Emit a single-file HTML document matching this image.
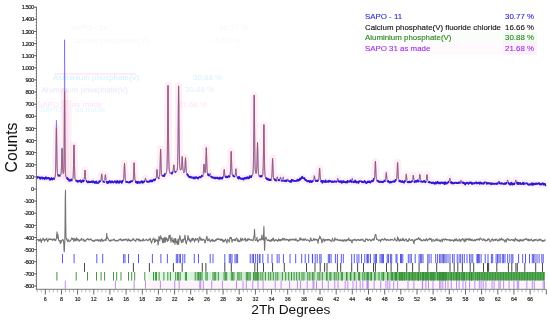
<!DOCTYPE html>
<html><head><meta charset="utf-8"><style>
html,body{margin:0;padding:0;background:#fff;width:550px;height:322px;overflow:hidden}
svg{display:block;filter:blur(0.3px)}
</style></head><body>
<svg width="550" height="322" viewBox="0 0 550 322">
<filter id="gb" x="-5%" y="-20%" width="110%" height="140%"><feGaussianBlur stdDeviation="0.7"/></filter>
<g font-family="Liberation Sans, sans-serif" font-size="7.9" filter="url(#gb)"><text x="53" y="80" fill="#d2f2ff">Aluminium phosphate(V)</text>
<rect x="54" y="73.2" width="82" height="1.4" fill="#ffe4f4"/>
<text x="222" y="80" fill="#d2f2ff" text-anchor="end">30.88 %</text>
<text x="41.5" y="91.5" fill="#e0f4ff">Aluminium phosphate(V)</text>
<text x="41.5" y="92.5" fill="#ffe2f6" fill-opacity="0.6">Aluminium phosphate(V)</text>
<text x="214" y="92" fill="#e4eeff" text-anchor="end">30.88 %</text>
<text x="37" y="106.5" fill="#ffe2f5">SAPO 31 as made</text>
<text x="40" y="111.5" fill="#e0f6ff">SAPO 31 as made</text>
<text x="207" y="106.5" fill="#ffe2f5" text-anchor="end">21.68 %</text>
<text x="70" y="30" fill="#f5f6ff">SAPO - 11</text>
<text x="248" y="30" fill="#f5f6ff" text-anchor="end">30.77 %</text>
<text x="70" y="43" fill="#f6f8ff">Calcium phosphate(V)</text>
<text x="240" y="43" fill="#f6f8ff" text-anchor="end">16.66 %</text>
</g>
<g fill="none" stroke-linejoin="round">
<rect x="62.5" y="100" width="9" height="79" fill="#fdf0f6"/>
<polyline points="37.00,177.58 37.25,177.60 37.50,177.63 37.75,177.66 38.00,177.68 38.25,177.71 38.50,177.73 38.75,177.76 39.00,177.79 39.25,177.81 39.50,177.84 39.75,177.87 40.00,177.89 40.25,177.92 40.50,177.94 40.75,177.97 41.00,178.00 41.25,178.02 41.50,178.05 41.75,178.08 42.00,178.10 42.25,178.13 42.50,178.15 42.75,178.18 43.00,178.20 43.25,178.23 43.50,178.26 43.75,178.28 44.00,178.31 44.25,178.33 44.50,178.36 44.75,178.38 45.00,178.41 45.25,178.43 45.50,178.46 45.75,178.48 46.00,178.51 46.25,178.53 46.50,178.55 46.75,178.58 47.00,178.60 47.25,178.63 47.50,178.65 47.75,178.67 48.00,178.69 48.25,178.72 48.50,178.74 48.75,178.76 49.00,178.78 49.25,178.80 49.50,178.82 49.75,178.83 50.00,178.85 50.25,178.87 50.50,178.90 50.75,178.92 51.00,178.93 51.25,178.95 51.50,178.96 51.75,178.96 52.00,178.96 52.25,178.96 52.50,178.94 52.75,178.92 53.00,178.88 53.25,178.83 53.50,178.76 53.75,178.66 54.00,178.53 54.25,178.34 54.50,178.09 54.75,177.73 55.00,177.15 55.25,176.02 55.50,173.01 55.75,165.15 56.00,149.85 56.25,132.22 56.40,127.87 56.50,129.81 56.75,145.83 57.00,162.21 57.25,171.27 57.50,174.76 57.75,175.92 58.00,176.37 58.25,176.57 58.50,176.65 58.75,176.66 59.00,176.61 59.25,176.53 59.50,176.41 59.75,176.26 60.00,176.09 60.25,175.84 60.50,175.51 60.75,175.00 61.00,173.87 61.25,170.88 61.50,164.22 61.75,154.41 62.00,148.59 62.25,154.28 62.50,163.95 62.75,170.42 63.00,173.14 63.25,173.84 63.50,173.62 63.75,172.37 64.00,166.59 64.25,142.39 64.50,98.72 64.60,91.58 64.75,106.75 65.00,150.29 65.25,169.83 65.50,174.52 65.75,176.07 66.00,176.95 66.25,177.55 66.50,178.00 66.75,178.36 67.00,178.66 67.25,178.91 67.50,179.14 67.75,179.33 68.00,179.51 68.25,179.66 68.50,179.80 68.75,179.92 69.00,180.03 69.25,180.13 69.50,180.21 69.75,180.28 70.00,180.34 70.25,180.38 70.50,180.42 70.75,180.44 71.00,180.44 71.25,180.43 71.50,180.40 71.75,180.33 72.00,180.22 72.25,180.05 72.50,179.77 72.75,179.24 73.00,177.88 73.25,174.05 73.50,165.37 73.75,152.50 74.00,144.92 74.25,152.54 74.50,165.44 74.75,174.16 75.00,178.03 75.25,179.43 75.50,180.00 75.75,180.32 76.00,180.54 76.25,180.69 76.50,180.81 76.75,180.90 77.00,180.97 77.25,181.03 77.50,181.08 77.75,181.12 78.00,181.16 78.25,181.19 78.50,181.22 78.75,181.25 79.00,181.27 79.25,181.29 79.50,181.31 79.75,181.33 80.00,181.35 80.25,181.36 80.50,181.36 80.75,181.37 81.00,181.38 81.25,181.38 81.50,181.38 81.75,181.38 82.00,181.37 82.25,181.36 82.50,181.35 82.75,181.32 83.00,181.29 83.25,181.23 83.50,181.14 83.75,180.97 84.00,180.54 84.25,179.32 84.50,176.56 84.75,172.46 85.00,170.05 85.25,172.48 85.50,176.59 85.75,179.37 86.00,180.60 86.25,181.05 86.50,181.24 86.75,181.34 87.00,181.41 87.25,181.46 87.50,181.50 87.75,181.53 88.00,181.56 88.25,181.58 88.50,181.60 88.75,181.62 89.00,181.63 89.25,181.64 89.50,181.65 89.75,181.67 90.00,181.68 90.25,181.69 90.50,181.70 90.75,181.70 91.00,181.71 91.25,181.72 91.50,181.73 91.75,181.74 92.00,181.75 92.25,181.75 92.50,181.76 92.75,181.77 93.00,181.77 93.25,181.78 93.50,181.79 93.75,181.79 94.00,181.80 94.25,181.81 94.50,181.81 94.75,181.82 95.00,181.82 95.25,181.83 95.50,181.83 95.75,181.84 96.00,181.84 96.25,181.85 96.50,181.85 96.75,181.86 97.00,181.86 97.25,181.86 97.50,181.86 97.75,181.87 98.00,181.87 98.25,181.86 98.50,181.86 98.75,181.86 99.00,181.85 99.25,181.83 99.50,181.81 99.75,181.79 100.00,181.74 100.25,181.66 100.50,181.52 100.75,181.13 101.00,180.07 101.25,177.85 101.50,174.91 101.70,173.74 101.75,173.82 102.00,176.05 102.25,178.87 102.50,180.59 102.75,181.30 103.00,181.54 103.25,181.63 103.50,181.66 103.75,181.66 104.00,181.62 104.25,181.49 104.50,181.10 104.75,180.04 105.00,177.94 105.25,175.52 105.40,174.93 105.50,175.21 105.75,177.45 106.00,179.74 106.25,181.02 106.50,181.53 106.75,181.71 107.00,181.80 107.25,181.85 107.50,181.89 107.75,181.92 108.00,181.94 108.25,181.95 108.50,181.97 108.75,181.98 109.00,181.99 109.25,182.00 109.50,182.00 109.75,182.01 110.00,182.01 110.25,182.02 110.50,182.02 110.75,182.03 111.00,182.03 111.25,182.03 111.50,182.04 111.75,182.04 112.00,182.04 112.25,182.05 112.50,182.05 112.75,182.05 113.00,182.05 113.25,182.05 113.50,182.06 113.75,182.06 114.00,182.06 114.25,182.06 114.50,182.06 114.75,182.07 115.00,182.07 115.25,182.07 115.50,182.07 115.75,182.07 116.00,182.07 116.25,182.07 116.50,182.07 116.75,182.07 117.00,182.07 117.25,182.07 117.50,182.07 117.75,182.07 118.00,182.07 118.25,182.07 118.50,182.07 118.75,182.07 119.00,182.06 119.25,182.06 119.50,182.06 119.75,182.05 120.00,182.05 120.25,182.04 120.50,182.03 120.75,182.02 121.00,182.00 121.25,181.99 121.50,181.96 121.75,181.93 122.00,181.90 122.25,181.84 122.50,181.77 122.75,181.67 123.00,181.51 123.25,181.21 123.50,180.48 123.75,178.45 124.00,173.86 124.25,167.07 124.50,163.06 124.75,167.07 125.00,173.87 125.25,178.46 125.50,180.49 125.75,181.22 126.00,181.52 126.25,181.68 126.50,181.78 126.75,181.86 127.00,181.91 127.25,181.95 127.50,181.98 127.75,182.01 128.00,182.02 128.25,182.04 128.50,182.05 128.75,182.06 129.00,182.06 129.25,182.07 129.50,182.07 129.75,182.07 130.00,182.06 130.25,182.06 130.50,182.05 130.75,182.03 131.00,182.02 131.25,181.99 131.50,181.96 131.75,181.92 132.00,181.85 132.25,181.77 132.50,181.63 132.75,181.41 133.00,180.92 133.25,179.56 133.50,176.10 133.75,169.88 134.00,163.80 134.10,163.06 134.25,164.68 134.50,171.29 134.75,177.03 135.00,179.97 135.25,181.08 135.50,181.49 135.75,181.70 136.00,181.82 136.25,181.91 136.50,181.97 136.75,182.02 137.00,182.06 137.25,182.09 137.50,182.11 137.75,182.13 138.00,182.14 138.25,182.15 138.50,182.17 138.75,182.18 139.00,182.18 139.25,182.19 139.50,182.20 139.75,182.20 140.00,182.21 140.25,182.19 140.50,182.17 140.75,182.15 141.00,182.13 141.25,182.11 141.50,182.09 141.75,182.06 142.00,182.04 142.25,182.02 142.50,181.99 142.75,181.97 143.00,181.94 143.25,181.91 143.50,181.87 143.75,181.83 144.00,181.77 144.25,181.69 144.50,181.52 144.75,181.09 145.00,180.15 145.25,178.77 145.50,177.94 145.75,178.72 146.00,180.05 146.25,180.95 146.50,181.33 146.75,181.45 147.00,181.48 147.25,181.49 147.50,181.48 147.75,181.47 148.00,181.45 148.25,181.43 148.50,181.41 148.75,181.38 149.00,181.35 149.25,181.32 149.50,181.29 149.75,181.26 150.00,181.23 150.25,181.18 150.50,181.13 150.75,181.08 151.00,181.02 151.25,180.97 151.50,180.92 151.75,180.86 152.00,180.80 152.25,180.74 152.50,180.67 152.75,180.61 153.00,180.54 153.25,180.47 153.50,180.39 153.75,180.32 154.00,180.23 154.25,180.15 154.50,180.05 154.75,179.95 155.00,179.83 155.25,179.69 155.50,179.53 155.75,179.29 156.00,178.84 156.25,177.73 156.50,175.33 156.75,171.84 157.00,169.73 157.25,171.61 157.50,174.87 157.75,177.02 158.00,177.88 158.25,178.07 158.50,178.02 158.75,177.85 159.00,177.60 159.25,177.18 159.50,176.36 159.75,174.21 160.00,168.89 160.25,159.41 160.50,150.14 160.60,148.97 160.75,151.34 161.00,161.18 161.25,169.70 161.50,174.00 161.75,175.54 162.00,176.02 162.25,176.19 162.50,176.24 162.75,176.22 163.00,176.17 163.25,176.08 163.50,175.98 163.75,175.85 164.00,175.71 164.25,175.55 164.50,175.38 164.75,175.18 165.00,174.96 165.25,174.72 165.50,174.44 165.75,174.10 166.00,173.65 166.25,173.07 166.50,172.22 166.75,170.75 167.00,167.25 167.25,157.65 167.50,136.07 167.75,104.18 168.00,85.35 168.25,104.02 168.50,135.74 168.75,157.16 169.00,166.59 169.25,169.93 169.50,171.24 169.75,171.92 170.00,172.35 170.25,172.63 170.50,172.82 170.75,172.94 171.00,173.02 171.25,173.06 171.50,173.08 171.75,173.08 172.00,173.04 172.25,172.98 172.50,172.86 172.75,172.59 173.00,171.85 173.25,170.09 173.50,167.21 173.75,164.92 173.80,164.83 174.00,165.97 174.25,168.85 174.50,171.01 174.75,171.99 175.00,172.28 175.25,172.31 175.50,172.25 175.75,172.13 176.00,171.95 176.25,171.70 176.50,171.37 176.75,170.91 177.00,170.25 177.25,169.17 177.50,166.88 177.75,160.65 178.00,144.94 178.25,116.78 178.50,89.27 178.60,85.87 178.75,93.12 179.00,122.87 179.25,148.68 179.50,161.85 179.75,166.76 180.00,168.51 180.25,169.30 180.50,169.74 180.75,169.96 181.00,169.94 181.25,169.42 181.50,167.63 181.75,163.66 182.00,158.37 182.20,156.29 182.25,156.46 182.50,160.67 182.75,165.97 183.00,169.23 183.25,170.63 183.50,171.17 183.75,171.43 184.00,171.56 184.25,171.55 184.50,171.17 184.75,169.71 185.00,166.15 185.25,160.78 185.50,157.69 185.75,161.19 186.00,166.98 186.25,170.96 186.50,172.84 186.75,173.65 187.00,174.10 187.25,174.44 187.50,174.73 187.75,174.98 188.00,175.22 188.25,175.44 188.50,175.65 188.75,175.85 189.00,176.03 189.25,176.20 189.50,176.37 189.75,176.52 190.00,176.67 190.25,176.80 190.50,176.93 190.75,177.05 191.00,177.16 191.25,177.26 191.50,177.35 191.75,177.43 192.00,177.51 192.25,177.58 192.50,177.64 192.75,177.70 193.00,177.75 193.25,177.79 193.50,177.83 193.75,177.86 194.00,177.89 194.25,177.91 194.50,177.93 194.75,177.94 195.00,177.95 195.25,177.95 195.50,177.95 195.75,177.94 196.00,177.93 196.25,177.91 196.50,177.89 196.75,177.86 197.00,177.83 197.25,177.79 197.50,177.75 197.75,177.70 198.00,177.65 198.25,177.59 198.50,177.52 198.75,177.45 199.00,177.38 199.25,177.30 199.50,177.21 199.75,177.11 200.00,177.01 200.25,176.91 200.50,176.81 200.75,176.69 201.00,176.57 201.25,176.44 201.50,176.31 201.75,176.16 202.00,176.00 202.25,175.82 202.50,175.61 202.75,175.31 203.00,174.76 203.25,173.45 203.50,170.64 203.75,166.54 204.00,164.05 204.25,166.22 204.50,169.98 204.75,172.40 205.00,173.17 205.25,172.70 205.50,170.44 205.75,164.73 206.00,155.30 206.25,147.85 206.30,147.59 206.50,151.56 206.75,161.45 207.00,168.96 207.25,172.56 207.50,173.92 207.75,174.48 208.00,174.81 208.25,175.05 208.50,175.24 208.75,175.40 209.00,175.51 209.25,175.53 209.50,175.33 209.75,174.72 210.00,173.88 210.20,173.60 210.25,173.65 210.50,174.52 210.75,175.58 211.00,176.28 211.25,176.63 211.50,176.83 211.75,176.97 212.00,177.09 212.25,177.21 212.50,177.31 212.75,177.40 213.00,177.49 213.25,177.58 213.50,177.65 213.75,177.72 214.00,177.79 214.25,177.85 214.50,177.90 214.75,177.95 215.00,178.00 215.25,178.04 215.50,178.07 215.75,178.11 216.00,178.14 216.25,178.16 216.50,178.19 216.75,178.21 217.00,178.22 217.25,178.24 217.50,178.25 217.75,178.26 218.00,178.27 218.25,178.28 218.50,178.28 218.75,178.28 219.00,178.28 219.25,178.28 219.50,178.27 219.75,178.27 220.00,178.26 220.25,178.24 220.50,178.23 220.75,178.21 221.00,178.19 221.25,178.16 221.50,178.13 221.75,178.09 222.00,178.04 222.25,177.98 222.50,177.91 222.75,177.80 223.00,177.62 223.25,177.21 223.50,176.15 223.75,173.96 224.00,171.09 224.20,169.92 224.25,169.99 224.50,172.08 224.75,174.75 225.00,176.35 225.25,176.97 225.50,177.15 225.75,177.19 226.00,177.17 226.25,177.14 226.50,177.09 226.75,177.03 227.00,176.96 227.25,176.89 227.50,176.81 227.75,176.73 228.00,176.65 228.25,176.56 228.50,176.46 228.75,176.35 229.00,176.23 229.25,176.08 229.50,175.89 229.75,175.62 230.00,175.13 230.25,173.94 230.50,170.70 230.75,163.88 231.00,154.90 231.20,151.32 231.25,151.57 231.50,158.43 231.75,167.10 232.00,172.41 232.25,174.64 232.50,175.46 232.75,175.83 233.00,176.07 233.25,176.24 233.50,176.38 233.75,176.48 234.00,176.57 234.25,176.62 234.50,176.64 234.75,176.56 235.00,176.18 235.25,175.00 235.50,172.59 235.75,169.81 235.90,169.16 236.00,169.52 236.25,172.24 236.50,175.02 236.75,176.60 237.00,177.27 237.25,177.55 237.50,177.71 237.75,177.83 238.00,177.93 238.25,178.02 238.50,178.09 238.75,178.15 239.00,178.21 239.25,178.26 239.50,178.30 239.75,178.34 240.00,178.38 240.25,178.41 240.50,178.44 240.75,178.46 241.00,178.48 241.25,178.50 241.50,178.51 241.75,178.52 242.00,178.53 242.25,178.53 242.50,178.54 242.75,178.54 243.00,178.53 243.25,178.53 243.50,178.52 243.75,178.51 244.00,178.49 244.25,178.48 244.50,178.46 244.75,178.44 245.00,178.41 245.25,178.38 245.50,178.35 245.75,178.32 246.00,178.28 246.25,178.24 246.50,178.20 246.75,178.15 247.00,178.10 247.25,178.05 247.50,177.99 247.75,177.93 248.00,177.86 248.25,177.79 248.50,177.72 248.75,177.64 249.00,177.55 249.25,177.46 249.50,177.36 249.75,177.26 250.00,177.15 250.25,177.04 250.50,176.92 250.75,176.78 251.00,176.63 251.25,176.45 251.50,176.24 251.75,175.99 252.00,175.68 252.25,175.27 252.50,174.72 252.75,173.89 253.00,172.36 253.25,168.48 253.50,158.01 253.75,136.01 254.00,107.01 254.20,95.39 254.25,96.19 254.50,118.14 254.75,145.93 255.00,162.85 255.25,169.81 255.50,172.18 255.75,173.06 256.00,173.40 256.25,173.30 256.50,172.32 256.75,169.01 257.00,161.20 257.25,149.53 257.50,142.68 257.75,149.75 258.00,161.66 258.25,169.72 258.50,173.34 258.75,174.68 259.00,175.27 259.25,175.62 259.50,175.87 259.75,176.07 260.00,176.23 260.25,176.35 260.50,176.46 260.75,176.54 261.00,176.60 261.25,176.63 261.50,176.63 261.75,176.58 262.00,176.46 262.25,176.23 262.50,175.78 262.75,174.74 263.00,171.73 263.25,163.57 263.50,147.52 263.75,129.02 263.90,124.53 264.00,126.67 264.25,143.88 264.50,161.49 264.75,171.33 265.00,175.27 265.25,176.74 265.50,177.47 265.75,177.93 266.00,178.27 266.25,178.53 266.50,178.74 266.75,178.91 267.00,179.06 267.25,179.19 267.50,179.30 267.75,179.40 268.00,179.48 268.25,179.56 268.50,179.63 268.75,179.69 269.00,179.74 269.25,179.78 269.50,179.82 269.75,179.84 270.00,179.85 270.25,179.83 270.50,179.79 270.75,179.71 271.00,179.59 271.25,179.35 271.50,178.81 271.75,177.25 272.00,173.25 272.25,166.07 272.50,159.04 272.60,158.18 272.75,160.07 273.00,167.74 273.25,174.40 273.50,177.82 273.75,179.11 274.00,179.60 274.25,179.84 274.50,179.99 274.75,180.09 275.00,180.16 275.25,180.20 275.50,180.23 275.75,180.24 276.00,180.20 276.25,180.06 276.50,179.61 276.75,178.64 277.00,177.34 277.20,176.83 277.25,176.87 277.50,177.88 277.75,179.15 278.00,179.92 278.25,180.25 278.50,180.36 278.75,180.40 279.00,180.40 279.25,180.38 279.50,180.26 279.75,179.90 280.00,179.06 280.25,177.81 280.50,177.07 280.75,177.82 281.00,179.09 281.25,179.94 281.50,180.31 281.75,180.43 282.00,180.44 282.25,180.35 282.50,180.01 282.75,179.27 283.00,178.29 283.20,177.90 283.25,177.93 283.50,178.71 283.75,179.68 284.00,180.28 284.25,180.54 284.50,180.63 284.75,180.68 285.00,180.70 285.25,180.72 285.50,180.73 285.75,180.74 286.00,180.74 286.25,180.74 286.50,180.71 286.75,180.63 287.00,180.40 287.25,179.89 287.50,179.21 287.70,178.94 287.75,178.97 288.00,179.49 288.25,180.16 288.50,180.57 288.75,180.74 289.00,180.81 289.25,180.84 289.50,180.86 289.75,180.87 290.00,180.88 290.25,180.89 290.50,180.89 290.75,180.89 291.00,180.88 291.25,180.84 291.50,180.71 291.75,180.40 292.00,179.88 292.25,179.48 292.30,179.46 292.50,179.69 292.75,180.24 293.00,180.65 293.25,180.86 293.50,180.93 293.75,180.97 294.00,180.99 294.25,181.00 294.50,181.01 294.75,181.02 295.00,181.03 295.25,181.03 295.50,181.04 295.75,181.03 296.00,181.03 296.25,181.02 296.50,181.00 296.75,180.98 297.00,180.95 297.25,180.90 297.50,180.84 297.75,180.77 298.00,180.68 298.25,180.57 298.50,180.44 298.75,180.28 299.00,180.11 299.25,179.91 299.50,179.70 299.75,179.47 300.00,179.23 300.25,178.99 300.50,178.74 300.75,178.51 301.00,178.29 301.25,178.10 301.50,177.94 301.75,177.82 302.00,177.74 302.25,177.71 302.50,177.73 302.75,177.80 303.00,177.91 303.25,178.06 303.50,178.25 303.75,178.46 304.00,178.70 304.25,178.95 304.50,179.20 304.75,179.45 305.00,179.69 305.25,179.92 305.50,180.14 305.75,180.33 306.00,180.50 306.25,180.65 306.50,180.78 306.75,180.89 307.00,180.98 307.25,181.05 307.50,181.11 307.75,181.16 308.00,181.19 308.25,181.22 308.50,181.24 308.75,181.26 309.00,181.27 309.25,181.28 309.50,181.29 309.75,181.30 310.00,181.30 310.25,181.30 310.50,181.30 310.75,181.30 311.00,181.30 311.25,181.30 311.50,181.29 311.75,181.29 312.00,181.28 312.25,181.26 312.50,181.24 312.75,181.21 313.00,181.15 313.25,181.04 313.50,180.73 313.75,179.90 314.00,178.28 314.25,176.41 314.40,175.95 314.50,176.16 314.75,177.88 315.00,179.64 315.25,180.61 315.50,181.00 315.75,181.13 316.00,181.19 316.25,181.22 316.50,181.23 316.75,181.23 317.00,181.23 317.25,181.21 317.50,181.17 317.75,181.12 318.00,181.03 318.25,180.88 318.50,180.54 318.75,179.58 319.00,177.15 319.25,172.77 319.50,168.50 319.60,167.97 319.75,169.12 320.00,173.78 320.25,177.83 320.50,179.90 320.75,180.69 321.00,180.98 321.25,181.13 321.50,181.22 321.75,181.28 322.00,181.33 322.25,181.37 322.50,181.39 322.75,181.42 323.00,181.44 323.25,181.45 323.50,181.47 323.75,181.48 324.00,181.49 324.25,181.50 324.50,181.51 324.75,181.52 325.00,181.52 325.25,181.53 325.50,181.54 325.75,181.54 326.00,181.55 326.25,181.56 326.50,181.56 326.75,181.57 327.00,181.57 327.25,181.58 327.50,181.58 327.75,181.59 328.00,181.59 328.25,181.60 328.50,181.60 328.75,181.61 329.00,181.61 329.25,181.61 329.50,181.62 329.75,181.62 330.00,181.63 330.25,181.63 330.50,181.63 330.75,181.64 331.00,181.64 331.25,181.65 331.50,181.65 331.75,181.65 332.00,181.66 332.25,181.66 332.50,181.66 332.75,181.67 333.00,181.67 333.25,181.67 333.50,181.67 333.75,181.68 334.00,181.68 334.25,181.68 334.50,181.68 334.75,181.68 335.00,181.68 335.25,181.67 335.50,181.67 335.75,181.66 336.00,181.64 336.25,181.62 336.50,181.57 336.75,181.42 337.00,181.02 337.25,180.16 337.50,179.04 337.70,178.59 337.75,178.62 338.00,179.49 338.25,180.58 338.50,181.25 338.75,181.53 339.00,181.63 339.25,181.68 339.50,181.71 339.75,181.73 340.00,181.74 340.25,181.75 340.50,181.76 340.75,181.77 341.00,181.77 341.25,181.78 341.50,181.79 341.75,181.79 342.00,181.79 342.25,181.80 342.50,181.80 342.75,181.81 343.00,181.81 343.25,181.81 343.50,181.81 343.75,181.82 344.00,181.82 344.25,181.82 344.50,181.83 344.75,181.83 345.00,181.83 345.25,181.83 345.50,181.84 345.75,181.84 346.00,181.84 346.25,181.84 346.50,181.85 346.75,181.85 347.00,181.85 347.25,181.85 347.50,181.85 347.75,181.85 348.00,181.86 348.25,181.86 348.50,181.86 348.75,181.86 349.00,181.86 349.25,181.86 349.50,181.86 349.75,181.85 350.00,181.85 350.25,181.84 350.50,181.83 350.75,181.81 351.00,181.78 351.25,181.69 351.50,181.46 351.75,180.89 352.00,179.95 352.25,179.21 352.30,179.19 352.50,179.58 352.75,180.55 353.00,181.29 353.25,181.64 353.50,181.77 353.75,181.83 354.00,181.85 354.25,181.87 354.50,181.89 354.75,181.90 355.00,181.90 355.25,181.91 355.50,181.92 355.75,181.92 356.00,181.92 356.25,181.93 356.50,181.93 356.75,181.93 357.00,181.94 357.25,181.94 357.50,181.94 357.75,181.94 358.00,181.94 358.25,181.93 358.50,181.93 358.75,181.92 359.00,181.91 359.25,181.88 359.50,181.80 359.75,181.59 360.00,181.11 360.25,180.40 360.50,179.98 360.75,180.41 361.00,181.12 361.25,181.61 361.50,181.82 361.75,181.90 362.00,181.93 362.25,181.95 362.50,181.97 362.75,181.98 363.00,181.99 363.25,181.99 363.50,182.00 363.75,182.00 364.00,182.01 364.25,182.01 364.50,182.01 364.75,182.01 365.00,182.02 365.25,182.02 365.50,182.02 365.75,182.02 366.00,182.02 366.25,182.02 366.50,182.02 366.75,182.01 367.00,182.01 367.25,182.00 367.50,181.99 367.75,181.98 368.00,181.97 368.25,181.95 368.50,181.93 368.75,181.91 369.00,181.88 369.25,181.85 369.50,181.81 369.75,181.77 370.00,181.72 370.25,181.67 370.50,181.61 370.75,181.54 371.00,181.47 371.25,181.39 371.50,181.31 371.75,181.22 372.00,181.12 372.25,181.02 372.50,180.92 372.75,180.81 373.00,180.69 373.25,180.56 373.50,180.41 373.75,180.23 374.00,179.99 374.25,179.54 374.50,178.40 374.75,175.45 375.00,169.70 375.25,163.09 375.40,161.49 375.50,162.24 375.75,168.36 376.00,174.62 376.25,178.14 376.50,179.56 376.75,180.12 377.00,180.42 377.25,180.63 377.50,180.81 377.75,180.95 378.00,181.08 378.25,181.20 378.50,181.31 378.75,181.40 379.00,181.49 379.25,181.57 379.50,181.65 379.75,181.71 380.00,181.77 380.25,181.81 380.50,181.85 380.75,181.88 381.00,181.90 381.25,181.90 381.50,181.90 381.75,181.89 382.00,181.87 382.25,181.83 382.50,181.79 382.75,181.73 383.00,181.67 383.25,181.59 383.50,181.51 383.75,181.41 384.00,181.31 384.25,181.21 384.50,181.09 384.75,180.97 385.00,180.80 385.25,180.52 385.50,179.82 385.75,178.20 386.00,175.59 386.25,173.54 386.30,173.47 386.50,174.57 386.75,177.32 387.00,179.43 387.25,180.47 387.50,180.90 387.75,181.11 388.00,181.27 388.25,181.40 388.50,181.51 388.75,181.61 389.00,181.70 389.25,181.78 389.50,181.85 389.75,181.90 390.00,181.94 390.25,181.97 390.50,181.99 390.75,182.00 391.00,182.00 391.25,181.99 391.50,181.97 391.75,181.94 392.00,181.90 392.25,181.86 392.50,181.80 392.75,181.74 393.00,181.67 393.25,181.60 393.50,181.52 393.75,181.43 394.00,181.34 394.25,181.25 394.50,181.15 394.75,181.05 395.00,180.94 395.25,180.83 395.50,180.70 395.75,180.56 396.00,180.38 396.25,180.12 396.50,179.61 396.75,178.27 397.00,174.88 397.25,168.81 397.50,162.90 397.60,162.18 397.75,163.78 398.00,170.27 398.25,175.93 398.50,178.86 398.75,180.01 399.00,180.48 399.25,180.75 399.50,180.95 399.75,181.12 400.00,181.26 400.25,181.38 400.50,181.50 400.75,181.60 401.00,181.69 401.25,181.77 401.50,181.85 401.75,181.91 402.00,181.97 402.25,182.02 402.50,182.07 402.75,182.11 403.00,182.14 403.25,182.16 403.50,182.17 403.75,182.18 404.00,182.18 404.25,182.17 404.50,182.14 404.75,182.09 405.00,181.99 405.25,181.76 405.50,181.08 405.75,179.44 406.00,176.76 406.25,174.64 406.30,174.56 406.50,175.67 406.75,178.45 407.00,180.56 407.25,181.55 407.50,181.91 407.75,182.04 408.00,182.10 408.25,182.14 408.50,182.16 408.75,182.17 409.00,182.17 409.25,182.17 409.50,182.16 409.75,182.15 410.00,182.13 410.25,182.11 410.50,182.09 410.75,182.06 411.00,182.02 411.25,181.98 411.50,181.92 411.75,181.85 412.00,181.74 412.25,181.50 412.50,180.89 412.75,179.44 413.00,177.10 413.25,175.23 413.30,175.16 413.50,176.10 413.75,178.48 414.00,180.27 414.25,181.11 414.50,181.39 414.75,181.48 415.00,181.52 415.25,181.53 415.50,181.52 415.75,181.51 416.00,181.49 416.25,181.48 416.50,181.45 416.75,181.43 417.00,181.40 417.25,181.37 417.50,181.34 417.75,181.30 418.00,181.25 418.25,181.18 418.50,181.08 418.75,180.86 419.00,180.26 419.25,178.83 419.50,176.48 419.75,174.63 419.80,174.57 420.00,175.54 420.25,177.97 420.50,179.82 420.75,180.70 421.00,181.03 421.25,181.17 421.50,181.25 421.75,181.31 422.00,181.35 422.25,181.39 422.50,181.43 422.75,181.47 423.00,181.50 423.25,181.53 423.50,181.56 423.75,181.59 424.00,181.62 424.25,181.64 424.50,181.66 424.75,181.68 425.00,181.69 425.25,181.68 425.50,181.66 425.75,181.58 426.00,181.33 426.25,180.56 426.50,178.78 426.75,176.13 427.00,174.58 427.25,176.20 427.50,178.92 427.75,180.77 428.00,181.61 428.25,181.92 428.50,182.07 428.75,182.17 429.00,182.24 429.25,182.29 429.50,182.34 429.75,182.38 430.00,182.42 430.25,182.45 430.50,182.48 430.75,182.51 431.00,182.53 431.25,182.56 431.50,182.58 431.75,182.60 432.00,182.62 432.25,182.64 432.50,182.65 432.75,182.67 433.00,182.68 433.25,182.70 433.50,182.71 433.75,182.72 434.00,182.73 434.25,182.74 434.50,182.75 434.75,182.76 435.00,182.77 435.25,182.78 435.50,182.79 435.75,182.79 436.00,182.80 436.25,182.81 436.50,182.81 436.75,182.82 437.00,182.83 437.25,182.83 437.50,182.84 437.75,182.84 438.00,182.85 438.25,182.85 438.50,182.86 438.75,182.86 439.00,182.87 439.25,182.87 439.50,182.88 439.75,182.88 440.00,182.88 440.25,182.89 440.50,182.89 440.75,182.90 441.00,182.90 441.25,182.90 441.50,182.91 441.75,182.91 442.00,182.91 442.25,182.92 442.50,182.92 442.75,182.93 443.00,182.93 443.25,182.93 443.50,182.93 443.75,182.94 444.00,182.94 444.25,182.94 444.50,182.95 444.75,182.95 445.00,182.95 445.25,182.95 445.50,182.95 445.75,182.96 446.00,182.96 446.25,182.96 446.50,182.96 446.75,182.95 447.00,182.95 447.25,182.94 447.50,182.94 447.75,182.92 448.00,182.90 448.25,182.87 448.50,182.81 448.75,182.66 449.00,182.25 449.25,181.26 449.50,179.63 449.75,178.34 449.80,178.29 450.00,178.97 450.25,180.67 450.50,181.96 450.75,182.58 451.00,182.80 451.25,182.89 451.50,182.94 451.75,182.97 452.00,183.00 452.25,183.01 452.50,183.03 452.75,183.04 453.00,183.05 453.25,183.06 453.50,183.07 453.75,183.07 454.00,183.08 454.25,183.09 454.50,183.09 454.75,183.10 455.00,183.10 455.25,183.10 455.50,183.11 455.75,183.11 456.00,183.12 456.25,183.12 456.50,183.12 456.75,183.13 457.00,183.13 457.25,183.13 457.50,183.13 457.75,183.14 458.00,183.14 458.25,183.14 458.50,183.13 458.75,183.13 459.00,183.12 459.25,183.11 459.50,183.09 459.75,183.05 460.00,182.95 460.25,182.65 460.50,181.98 460.75,180.98 461.00,180.39 461.25,180.98 461.50,181.99 461.75,182.66 462.00,182.96 462.25,183.07 462.50,183.12 462.75,183.15 463.00,183.16 463.25,183.18 463.50,183.19 463.75,183.19 464.00,183.20 464.25,183.21 464.50,183.21 464.75,183.21 465.00,183.22 465.25,183.22 465.50,183.23 465.75,183.23 466.00,183.23 466.25,183.23 466.50,183.24 466.75,183.24 467.00,183.24 467.25,183.24 467.50,183.25 467.75,183.25 468.00,183.25 468.25,183.25 468.50,183.26 468.75,183.26 469.00,183.26 469.25,183.26 469.50,183.26 469.75,183.27 470.00,183.27 470.25,183.27 470.50,183.27 470.75,183.27 471.00,183.28 471.25,183.28 471.50,183.28 471.75,183.28 472.00,183.28 472.25,183.29 472.50,183.29 472.75,183.29 473.00,183.29 473.25,183.29 473.50,183.30 473.75,183.30 474.00,183.30 474.25,183.30 474.50,183.30 474.75,183.30 475.00,183.31 475.25,183.31 475.50,183.31 475.75,183.31 476.00,183.31 476.25,183.32 476.50,183.32 476.75,183.32 477.00,183.32 477.25,183.32 477.50,183.33 477.75,183.33 478.00,183.33 478.25,183.33 478.50,183.33 478.75,183.33 479.00,183.34 479.25,183.34 479.50,183.34 479.75,183.34 480.00,183.34 480.25,183.34 480.50,183.35 480.75,183.35 481.00,183.35 481.25,183.35 481.50,183.35 481.75,183.35 482.00,183.35 482.25,183.35 482.50,183.35 482.75,183.35 483.00,183.35 483.25,183.35 483.50,183.35 483.75,183.34 484.00,183.33 484.25,183.32 484.50,183.28 484.75,183.18 485.00,182.91 485.25,182.42 485.50,181.95 485.60,181.90 485.75,182.02 486.00,182.54 486.25,182.99 486.50,183.22 486.75,183.31 487.00,183.34 487.25,183.36 487.50,183.37 487.75,183.38 488.00,183.38 488.25,183.39 488.50,183.39 488.75,183.40 489.00,183.40 489.25,183.41 489.50,183.41 489.75,183.41 490.00,183.41 490.25,183.42 490.50,183.42 490.75,183.42 491.00,183.42 491.25,183.42 491.50,183.43 491.75,183.43 492.00,183.43 492.25,183.43 492.50,183.43 492.75,183.43 493.00,183.44 493.25,183.44 493.50,183.44 493.75,183.44 494.00,183.44 494.25,183.44 494.50,183.44 494.75,183.44 495.00,183.44 495.25,183.44 495.50,183.44 495.75,183.44 496.00,183.44 496.25,183.44 496.50,183.43 496.75,183.42 497.00,183.41 497.25,183.39 497.50,183.34 497.75,183.20 498.00,182.84 498.25,182.20 498.50,181.57 498.60,181.49 498.75,181.66 499.00,182.35 499.25,182.95 499.50,183.25 499.75,183.37 500.00,183.42 500.25,183.44 500.50,183.46 500.75,183.47 501.00,183.48 501.25,183.49 501.50,183.50 501.75,183.50 502.00,183.51 502.25,183.51 502.50,183.52 502.75,183.52 503.00,183.53 503.25,183.53 503.50,183.53 503.75,183.54 504.00,183.54 504.25,183.54 504.50,183.54 504.75,183.54 505.00,183.54 505.25,183.53 505.50,183.52 505.75,183.51 506.00,183.49 506.25,183.45 506.50,183.36 506.75,183.11 507.00,182.45 507.25,181.28 507.50,180.13 507.60,179.99 507.75,180.30 508.00,181.56 508.25,182.65 508.50,183.21 508.75,183.43 509.00,183.51 509.25,183.55 509.50,183.58 509.75,183.60 510.00,183.61 510.25,183.62 510.50,183.63 510.75,183.64 511.00,183.65 511.25,183.66 511.50,183.66 511.75,183.67 512.00,183.67 512.25,183.67 512.50,183.67 512.75,183.68 513.00,183.67 513.25,183.67 513.50,183.67 513.75,183.66 514.00,183.64 514.25,183.62 514.50,183.57 514.75,183.46 515.00,183.14 515.25,182.35 515.50,181.05 515.75,180.03 515.80,179.99 516.00,180.53 516.25,181.89 516.50,182.91 516.75,183.40 517.00,183.59 517.25,183.66 517.50,183.70 517.75,183.72 518.00,183.74 518.25,183.76 518.50,183.77 518.75,183.78 519.00,183.79 519.25,183.80 519.50,183.81 519.75,183.81 520.00,183.82 520.25,183.83 520.50,183.83 520.75,183.84 521.00,183.84 521.25,183.84 521.50,183.85 521.75,183.85 522.00,183.85 522.25,183.85 522.50,183.85 522.75,183.85 523.00,183.84 523.25,183.83 523.50,183.80 523.75,183.71 524.00,183.47 524.25,182.95 524.50,182.27 524.70,181.99 524.75,182.01 525.00,182.54 525.25,183.21 525.50,183.62 525.75,183.80 526.00,183.86 526.25,183.89 526.50,183.91 526.75,183.92 527.00,183.94 527.25,183.95 527.50,183.95 527.75,183.96 528.00,183.97 528.25,183.98 528.50,183.98 528.75,183.99 529.00,183.99 529.25,184.00 529.50,184.00 529.75,184.01 530.00,184.01 530.25,184.02 530.50,184.02 530.75,184.03 531.00,184.03 531.25,184.04 531.50,184.04 531.75,184.05 532.00,184.05 532.25,184.06 532.50,184.06 532.75,184.06 533.00,184.07 533.25,184.07 533.50,184.08 533.75,184.08 534.00,184.09 534.25,184.09 534.50,184.10 534.75,184.10 535.00,184.10 535.25,184.11 535.50,184.11 535.75,184.12 536.00,184.12 536.25,184.13 536.50,184.13 536.75,184.14 537.00,184.14 537.25,184.14 537.50,184.15 537.75,184.15 538.00,184.16 538.25,184.16 538.50,184.17 538.75,184.17 539.00,184.18 539.25,184.18 539.50,184.18 539.75,184.19 540.00,184.19 540.25,184.20 540.50,184.20 540.75,184.21 541.00,184.21 541.25,184.22 541.50,184.22 541.75,184.22 542.00,184.23 542.25,184.23 542.50,184.24 542.75,184.24 543.00,184.25 543.25,184.25 543.50,184.25 543.75,184.26 544.00,184.26 544.25,184.27 544.50,184.27 544.75,184.28 545.00,184.28 545.25,184.29 545.50,184.29 545.75,184.29" stroke="#ff70b0" stroke-width="7" stroke-opacity="0.12"/>
<polyline points="37.00,239.66 37.25,239.68 37.50,239.77 37.75,239.53 38.00,239.30 38.25,239.42 38.50,240.64 38.75,241.11 39.00,240.70 39.25,239.52 39.50,240.12 39.75,240.35 40.00,240.90 40.25,240.12 40.50,238.70 40.75,239.79 41.00,240.25 41.25,242.63 41.50,241.14 41.75,240.16 42.00,240.16 42.25,239.93 42.50,240.28 42.75,238.72 43.00,237.94 43.25,238.34 43.50,238.95 43.75,239.81 44.00,240.34 44.25,240.14 44.50,241.34 44.75,239.45 45.00,239.41 45.25,239.66 45.50,239.75 45.75,240.03 46.00,239.18 46.25,238.57 46.50,238.25 46.75,238.25 47.00,239.83 47.25,240.79 47.50,241.16 47.75,241.74 48.00,240.80 48.25,240.37 48.50,239.10 48.75,238.89 49.00,238.76 49.25,239.59 49.50,239.45 49.75,239.42 50.00,239.04 50.25,239.48 50.50,238.86 50.75,238.92 51.00,238.96 51.25,239.78 51.50,239.57 51.75,239.63 52.00,239.13 52.25,239.55 52.50,239.84 52.75,240.62 53.00,240.04 53.25,239.01 53.50,238.95 53.75,239.27 54.00,239.48 54.25,239.06 54.50,238.79 54.75,240.30 55.00,239.94 55.25,240.78 55.50,239.71 55.75,240.46 56.00,239.68 56.25,239.11 56.40,237.78 56.50,237.27 56.75,233.80 57.00,231.69 57.25,234.80 57.50,238.20 57.75,236.64 58.00,234.60 58.25,236.84 58.50,239.04 58.75,240.65 59.00,240.62 59.25,241.11 59.50,240.65 59.75,240.50 60.00,241.01 60.25,243.67 60.50,243.44 60.75,240.95 61.00,240.62 61.25,240.99 61.50,242.08 61.75,240.54 62.00,240.42 62.25,239.74 62.50,239.82 62.75,239.64 63.00,240.02 63.25,239.79 63.50,240.83 63.75,243.74 64.00,250.02 64.25,251.85 64.50,248.15 64.60,245.30 64.75,242.49 65.00,229.06 65.25,197.24 65.50,190.35 65.75,223.26 66.00,237.35 66.25,239.16 66.50,239.24 66.75,238.61 67.00,239.94 67.25,240.42 67.50,241.40 67.75,240.56 68.00,240.08 68.25,239.61 68.50,239.94 68.75,241.43 69.00,241.69 69.25,241.63 69.50,241.21 69.75,241.30 70.00,240.81 70.25,240.19 70.50,240.33 70.75,240.63 71.00,240.11 71.25,238.85 71.50,238.37 71.75,237.89 72.00,238.72 72.25,238.73 72.50,239.43 72.75,238.95 73.00,238.27 73.25,238.84 73.50,239.21 73.75,241.45 74.00,240.85 74.25,240.22 74.50,238.45 74.75,239.51 75.00,240.08 75.25,240.93 75.50,240.12 75.75,240.31 76.00,239.46 76.25,237.86 76.50,238.00 76.75,239.17 77.00,240.72 77.25,239.28 77.50,239.17 77.75,238.89 78.00,239.77 78.25,239.69 78.50,239.60 78.75,240.48 79.00,241.08 79.25,241.07 79.50,241.31 79.75,240.01 80.00,240.26 80.25,239.68 80.50,240.38 80.75,240.17 81.00,240.12 81.25,238.73 81.50,238.27 81.75,238.65 82.00,239.40 82.25,239.97 82.50,239.93 82.75,239.96 83.00,240.14 83.25,239.77 83.50,239.05 83.75,239.27 84.00,240.01 84.25,241.36 84.50,241.13 84.75,240.61 85.00,240.27 85.25,240.88 85.50,241.27 85.75,240.96 86.00,240.26 86.25,239.67 86.50,239.57 86.75,239.36 87.00,239.38 87.25,238.60 87.50,239.02 87.75,238.87 88.00,239.37 88.25,239.13 88.50,239.00 88.75,240.02 89.00,239.63 89.25,239.97 89.50,239.61 89.75,239.72 90.00,239.17 90.25,239.18 90.50,239.37 90.75,239.49 91.00,238.72 91.25,239.15 91.50,240.18 91.75,240.57 92.00,240.53 92.25,240.36 92.50,241.01 92.75,240.54 93.00,240.31 93.25,240.18 93.50,241.50 93.75,241.37 94.00,241.53 94.25,240.82 94.50,241.01 94.75,240.16 95.00,239.95 95.25,240.31 95.50,240.58 95.75,240.56 96.00,239.61 96.25,239.89 96.50,239.94 96.75,240.55 97.00,240.28 97.25,239.96 97.50,239.44 97.75,239.72 98.00,239.97 98.25,241.13 98.50,240.76 98.75,240.97 99.00,239.81 99.25,239.88 99.50,240.04 99.75,240.44 100.00,240.85 100.25,239.86 100.50,240.75 100.75,241.39 101.00,241.65 101.25,240.03 101.50,238.88 101.70,239.27 101.75,239.44 102.00,239.85 102.25,239.48 102.50,241.00 102.75,240.79 103.00,240.87 103.25,240.56 103.50,240.79 103.75,240.98 104.00,240.14 104.25,240.24 104.50,240.06 104.75,240.12 105.00,239.66 105.25,239.28 105.40,239.10 105.50,239.40 105.75,240.60 106.00,240.70 106.25,239.28 106.50,234.97 106.75,233.31 107.00,236.03 107.25,238.57 107.50,237.99 107.75,238.23 108.00,238.10 108.25,238.94 108.50,239.67 108.75,240.03 109.00,240.63 109.25,240.79 109.50,240.90 109.75,240.23 110.00,240.85 110.25,241.22 110.50,241.12 110.75,240.08 111.00,239.87 111.25,240.52 111.50,240.63 111.75,240.77 112.00,239.88 112.25,239.94 112.50,239.90 112.75,240.15 113.00,240.28 113.25,239.86 113.50,239.99 113.75,239.16 114.00,239.03 114.25,239.21 114.50,240.07 114.75,240.52 115.00,240.83 115.25,240.61 115.50,240.20 115.75,240.52 116.00,241.03 116.25,241.13 116.50,240.35 116.75,240.43 117.00,240.86 117.25,240.92 117.50,240.67 117.75,240.25 118.00,240.27 118.25,240.85 118.50,240.31 118.75,240.64 119.00,239.43 119.25,239.67 119.50,239.71 119.75,239.60 120.00,239.50 120.25,238.67 120.50,238.97 120.75,239.48 121.00,240.43 121.25,240.41 121.50,240.66 121.75,239.67 122.00,240.82 122.25,240.25 122.50,240.55 122.75,239.77 123.00,239.98 123.25,240.11 123.50,239.29 123.75,239.59 124.00,239.95 124.25,240.49 124.50,239.65 124.75,239.46 125.00,240.08 125.25,239.84 125.50,239.26 125.75,238.83 126.00,239.22 126.25,239.54 126.50,239.45 126.75,240.11 127.00,240.58 127.25,241.03 127.50,241.08 127.75,240.50 128.00,239.10 128.25,238.85 128.50,239.30 128.75,240.48 129.00,240.07 129.25,240.68 129.50,239.80 129.75,240.41 130.00,239.88 130.25,240.96 130.50,241.20 130.75,241.15 131.00,240.90 131.25,240.21 131.50,240.32 131.75,240.34 132.00,240.80 132.25,240.00 132.50,239.21 132.75,238.90 133.00,239.59 133.25,239.59 133.50,239.14 133.75,238.78 134.00,239.54 134.10,240.10 134.25,240.65 134.50,240.46 134.75,240.51 135.00,240.63 135.25,240.59 135.50,241.35 135.75,240.67 136.00,240.84 136.25,239.12 136.50,239.24 136.75,238.96 137.00,239.48 137.25,239.64 137.50,239.40 137.75,239.76 138.00,238.82 138.25,239.07 138.50,239.54 138.75,240.42 139.00,240.87 139.25,239.93 139.50,239.34 139.75,239.66 140.00,240.46 140.25,241.36 140.50,240.78 140.75,240.84 141.00,240.31 141.25,240.60 141.50,240.39 141.75,240.19 142.00,240.49 142.25,240.28 142.50,240.98 142.75,239.78 143.00,239.23 143.25,238.72 143.50,239.55 143.75,240.52 144.00,240.85 144.25,240.59 144.50,240.35 144.75,240.10 145.00,240.22 145.25,240.15 145.50,239.96 145.75,240.06 146.00,239.29 146.25,239.24 146.50,239.34 146.75,239.67 147.00,240.21 147.25,240.03 147.50,240.22 147.75,240.65 148.00,240.75 148.25,240.59 148.50,239.75 148.75,239.60 149.00,239.23 149.25,239.91 149.50,239.83 149.75,239.74 150.00,238.21 150.25,238.72 150.50,239.21 150.75,241.26 151.00,241.47 151.25,242.45 151.50,243.17 151.75,242.16 152.00,241.94 152.25,239.75 152.50,239.91 152.75,239.10 153.00,239.23 153.25,238.99 153.50,239.23 153.75,238.06 154.00,240.03 154.25,239.69 154.50,242.58 154.75,239.89 155.00,240.42 155.25,238.95 155.50,241.59 155.75,241.21 156.00,240.82 156.25,239.90 156.50,239.93 156.75,240.58 157.00,240.25 157.25,240.09 157.50,240.00 157.75,242.18 158.00,245.09 158.25,244.28 158.50,240.41 158.75,238.59 159.00,236.26 159.25,237.06 159.50,239.54 159.75,240.78 160.00,239.05 160.25,238.29 160.50,236.72 160.60,237.32 160.75,235.45 161.00,237.96 161.25,238.62 161.50,239.07 161.75,237.71 162.00,238.95 162.25,240.08 162.50,242.48 162.75,242.65 163.00,240.16 163.25,238.34 163.50,239.18 163.75,241.70 164.00,242.81 164.25,239.68 164.50,237.76 164.75,237.19 165.00,239.37 165.25,241.46 165.50,241.93 165.75,239.82 166.00,237.47 166.25,238.66 166.50,239.76 166.75,239.12 167.00,238.66 167.25,238.86 167.50,241.55 167.75,240.75 168.00,240.40 168.25,239.56 168.50,240.37 168.75,236.75 169.00,235.46 169.25,236.68 169.50,238.06 169.75,237.38 170.00,234.93 170.25,235.45 170.50,239.90 170.75,240.99 171.00,242.12 171.25,240.17 171.50,239.99 171.75,238.58 172.00,237.46 172.25,240.18 172.50,241.13 172.75,241.85 173.00,240.64 173.25,242.15 173.50,242.55 173.75,240.04 173.80,240.20 174.00,238.53 174.25,239.11 174.50,240.77 174.75,242.91 175.00,244.49 175.25,240.34 175.50,238.43 175.75,238.60 176.00,240.37 176.25,242.53 176.50,242.15 176.75,241.45 177.00,243.30 177.25,244.40 177.50,243.90 177.75,240.56 178.00,239.00 178.25,239.61 178.50,243.29 178.60,244.57 178.75,243.57 179.00,240.64 179.25,239.28 179.50,237.21 179.75,235.64 180.00,235.68 180.25,237.78 180.50,239.49 180.75,240.12 181.00,241.09 181.25,240.49 181.50,242.67 181.75,241.13 182.00,240.61 182.20,239.71 182.25,239.30 182.50,239.89 182.75,240.55 183.00,242.41 183.25,240.74 183.50,239.56 183.75,239.11 184.00,239.93 184.25,239.62 184.50,238.70 184.75,235.85 185.00,235.13 185.25,237.38 185.50,239.47 185.75,242.41 186.00,242.54 186.25,244.06 186.50,242.69 186.75,242.13 187.00,240.40 187.25,240.13 187.50,239.93 187.75,236.81 188.00,235.46 188.25,236.98 188.50,239.48 188.75,237.83 189.00,240.17 189.25,238.74 189.50,241.08 189.75,240.09 190.00,240.44 190.25,239.89 190.50,241.28 190.75,242.26 191.00,240.45 191.25,240.88 191.50,239.30 191.75,240.00 192.00,238.38 192.25,239.39 192.50,238.72 192.75,240.37 193.00,238.04 193.25,239.48 193.50,238.70 193.75,239.87 194.00,239.68 194.25,240.50 194.50,241.87 194.75,240.80 195.00,240.47 195.25,238.91 195.50,238.62 195.75,238.56 196.00,240.21 196.25,240.18 196.50,239.38 196.75,239.31 197.00,239.18 197.25,239.32 197.50,238.61 197.75,238.90 198.00,240.39 198.25,240.93 198.50,242.46 198.75,240.53 199.00,240.98 199.25,237.65 199.50,238.15 199.75,236.69 200.00,238.13 200.25,237.79 200.50,238.94 200.75,240.23 201.00,239.69 201.25,239.15 201.50,238.73 201.75,240.02 202.00,240.35 202.25,240.28 202.50,240.09 202.75,239.23 203.00,239.97 203.25,239.81 203.50,239.59 203.75,239.15 204.00,239.22 204.25,240.01 204.50,240.56 204.75,242.38 205.00,243.08 205.25,242.68 205.50,240.38 205.75,240.39 206.00,239.32 206.25,238.68 206.30,238.13 206.50,236.99 206.75,236.76 207.00,236.36 207.25,238.38 207.50,240.38 207.75,240.61 208.00,240.95 208.25,240.29 208.50,240.23 208.75,239.33 209.00,238.75 209.25,238.94 209.50,240.10 209.75,240.70 210.00,240.67 210.20,241.22 210.25,240.99 210.50,241.87 210.75,240.62 211.00,240.63 211.25,239.66 211.50,239.82 211.75,240.22 212.00,241.20 212.25,240.61 212.50,240.23 212.75,239.21 213.00,240.89 213.25,240.90 213.50,241.08 213.75,240.37 214.00,240.41 214.25,240.67 214.50,241.03 214.75,241.46 215.00,241.00 215.25,240.23 215.50,239.85 215.75,239.57 216.00,240.35 216.25,239.72 216.50,240.26 216.75,238.82 217.00,239.56 217.25,238.69 217.50,239.18 217.75,239.45 218.00,239.53 218.25,239.39 218.50,238.61 218.75,239.23 219.00,238.88 219.25,239.16 219.50,239.51 219.75,239.87 220.00,239.53 220.25,239.69 220.50,239.60 220.75,240.52 221.00,238.81 221.25,239.14 221.50,239.19 221.75,240.24 222.00,240.06 222.25,239.45 222.50,239.38 222.75,241.38 223.00,241.95 223.25,241.94 223.50,240.19 223.75,240.27 224.00,240.68 224.20,241.76 224.25,241.40 224.50,241.20 224.75,240.57 225.00,239.74 225.25,239.70 225.50,239.01 225.75,239.69 226.00,240.65 226.25,240.59 226.50,242.15 226.75,242.04 227.00,243.27 227.25,241.39 227.50,240.43 227.75,239.15 228.00,240.03 228.25,239.83 228.50,240.28 228.75,240.37 229.00,241.63 229.25,242.12 229.50,241.25 229.75,238.66 230.00,237.31 230.25,237.61 230.50,238.42 230.75,237.62 231.00,237.36 231.20,237.35 231.25,237.48 231.50,238.05 231.75,240.82 232.00,242.12 232.25,242.05 232.50,240.11 232.75,239.67 233.00,239.94 233.25,240.02 233.50,239.95 233.75,239.48 234.00,239.69 234.25,240.36 234.50,240.77 234.75,240.53 235.00,239.22 235.25,240.08 235.50,240.14 235.75,240.76 235.90,239.03 236.00,238.52 236.25,237.95 236.50,238.57 236.75,238.13 237.00,238.85 237.25,238.81 237.50,240.66 237.75,241.43 238.00,240.99 238.25,240.12 238.50,239.75 238.75,241.12 239.00,241.69 239.25,241.29 239.50,240.93 239.75,240.87 240.00,241.69 240.25,240.58 240.50,239.29 240.75,238.02 241.00,238.40 241.25,239.54 241.50,240.55 241.75,240.94 242.00,239.34 242.25,239.07 242.50,238.53 242.75,239.71 243.00,240.03 243.25,240.01 243.50,240.15 243.75,239.71 244.00,240.02 244.25,239.45 244.50,239.66 244.75,239.10 245.00,238.12 245.25,238.19 245.50,239.50 245.75,241.50 246.00,241.23 246.25,240.78 246.50,240.21 246.75,239.59 247.00,239.28 247.25,240.14 247.50,240.83 247.75,240.07 248.00,238.62 248.25,238.79 248.50,239.00 248.75,239.80 249.00,239.61 249.25,239.58 249.50,239.03 249.75,239.35 250.00,239.21 250.25,240.28 250.50,239.85 250.75,240.11 251.00,240.10 251.25,239.73 251.50,240.13 251.75,239.77 252.00,240.30 252.25,240.00 252.50,240.04 252.75,240.82 253.00,240.76 253.25,240.13 253.50,238.12 253.75,237.96 254.00,236.44 254.20,234.65 254.25,233.66 254.50,229.38 254.75,233.20 255.00,238.13 255.25,240.50 255.50,240.06 255.75,240.21 256.00,240.39 256.25,240.24 256.50,240.04 256.75,238.33 257.00,237.22 257.25,239.67 257.50,241.00 257.75,241.98 258.00,240.65 258.25,240.40 258.50,241.02 258.75,240.50 259.00,240.43 259.25,239.36 259.50,239.54 259.75,239.66 260.00,239.01 260.25,239.21 260.50,239.15 260.75,240.08 261.00,239.86 261.25,239.72 261.50,238.00 261.75,236.02 262.00,234.90 262.25,237.44 262.50,239.49 262.75,239.43 263.00,240.01 263.25,239.83 263.50,237.04 263.75,228.95 263.90,226.29 264.00,228.22 264.25,239.15 264.50,250.33 264.75,248.85 265.00,242.02 265.25,238.09 265.50,237.73 265.75,237.09 266.00,237.04 266.25,238.02 266.50,238.33 266.75,239.42 267.00,239.39 267.25,240.40 267.50,240.61 267.75,240.41 268.00,240.43 268.25,239.96 268.50,239.85 268.75,239.72 269.00,240.72 269.25,240.48 269.50,241.21 269.75,240.70 270.00,241.36 270.25,240.84 270.50,240.36 270.75,240.92 271.00,239.52 271.25,239.57 271.50,239.53 271.75,241.11 272.00,240.44 272.25,239.43 272.50,238.67 272.60,240.13 272.75,239.56 273.00,238.57 273.25,238.03 273.50,238.64 273.75,240.55 274.00,240.83 274.25,241.36 274.50,240.27 274.75,240.08 275.00,239.92 275.25,240.54 275.50,239.96 275.75,239.36 276.00,239.64 276.25,239.72 276.50,240.50 276.75,240.30 277.00,240.47 277.20,240.29 277.25,240.19 277.50,241.17 277.75,241.42 278.00,241.13 278.25,240.10 278.50,238.69 278.75,239.31 279.00,239.63 279.25,240.54 279.50,239.62 279.75,240.08 280.00,240.51 280.25,240.91 280.50,240.02 280.75,239.30 281.00,239.80 281.25,240.20 281.50,240.36 281.75,239.92 282.00,239.21 282.25,239.00 282.50,238.39 282.75,239.36 283.00,239.58 283.20,240.28 283.25,239.69 283.50,239.29 283.75,238.44 284.00,238.26 284.25,238.45 284.50,239.11 284.75,239.82 285.00,240.41 285.25,240.17 285.50,239.44 285.75,239.48 286.00,238.98 286.25,239.24 286.50,239.15 286.75,240.12 287.00,240.05 287.25,240.01 287.50,239.71 287.70,239.56 287.75,239.38 288.00,239.59 288.25,240.17 288.50,240.56 288.75,241.18 289.00,239.94 289.25,239.60 289.50,239.27 289.75,240.62 290.00,240.35 290.25,239.99 290.50,239.79 290.75,239.60 291.00,239.04 291.25,239.19 291.50,239.80 291.75,240.00 292.00,240.15 292.25,239.50 292.30,240.14 292.50,239.16 292.75,239.53 293.00,239.07 293.25,239.38 293.50,239.51 293.75,240.07 294.00,239.88 294.25,240.37 294.50,239.76 294.75,239.49 295.00,238.74 295.25,239.87 295.50,240.33 295.75,239.89 296.00,238.82 296.25,239.16 296.50,239.95 296.75,240.43 297.00,240.73 297.25,241.35 297.50,241.22 297.75,240.97 298.00,240.15 298.25,240.27 298.50,240.60 298.75,240.75 299.00,240.18 299.25,240.01 299.50,240.03 299.75,238.71 300.00,237.57 300.25,238.93 300.50,240.06 300.75,239.54 301.00,238.67 301.25,239.06 301.50,238.89 301.75,239.44 302.00,239.91 302.25,239.45 302.50,239.68 302.75,239.37 303.00,240.60 303.25,240.16 303.50,239.26 303.75,238.80 304.00,239.07 304.25,240.19 304.50,240.21 304.75,239.61 305.00,239.06 305.25,238.75 305.50,238.76 305.75,239.16 306.00,239.66 306.25,240.43 306.50,240.57 306.75,240.36 307.00,240.28 307.25,240.12 307.50,239.76 307.75,239.88 308.00,239.87 308.25,240.26 308.50,240.39 308.75,240.64 309.00,240.95 309.25,241.27 309.50,241.54 309.75,241.62 310.00,240.85 310.25,239.53 310.50,238.15 310.75,237.70 311.00,239.49 311.25,240.44 311.50,240.65 311.75,239.91 312.00,240.45 312.25,240.80 312.50,240.81 312.75,240.49 313.00,240.17 313.25,239.70 313.50,238.61 313.75,238.73 314.00,238.94 314.25,239.99 314.40,240.41 314.50,239.86 314.75,239.24 315.00,239.12 315.25,239.01 315.50,239.57 315.75,239.28 316.00,240.16 316.25,239.72 316.50,239.94 316.75,239.23 317.00,239.90 317.25,239.68 317.50,240.40 317.75,241.70 318.00,243.55 318.25,241.94 318.50,240.16 318.75,238.54 319.00,238.97 319.25,238.73 319.50,238.09 319.60,237.28 319.75,236.13 320.00,236.23 320.25,237.04 320.50,237.96 320.75,238.73 321.00,238.24 321.25,239.58 321.50,239.70 321.75,242.23 322.00,242.87 322.25,242.33 322.50,240.46 322.75,240.00 323.00,238.97 323.25,239.56 323.50,239.01 323.75,240.21 324.00,240.25 324.25,241.75 324.50,240.73 324.75,239.90 325.00,239.22 325.25,240.08 325.50,239.96 325.75,240.40 326.00,239.47 326.25,240.20 326.50,239.72 326.75,240.28 327.00,239.97 327.25,240.24 327.50,239.44 327.75,239.89 328.00,239.37 328.25,240.01 328.50,239.25 328.75,239.76 329.00,240.02 329.25,240.20 329.50,239.54 329.75,240.14 330.00,240.20 330.25,240.82 330.50,239.94 330.75,240.48 331.00,240.82 331.25,241.39 331.50,241.64 331.75,241.79 332.00,240.48 332.25,239.54 332.50,238.33 332.75,239.49 333.00,239.88 333.25,239.90 333.50,240.30 333.75,240.25 334.00,241.43 334.25,240.47 334.50,240.39 334.75,238.81 335.00,237.70 335.25,238.72 335.50,239.63 335.75,239.99 336.00,240.01 336.25,239.22 336.50,239.67 336.75,239.57 337.00,239.86 337.25,239.85 337.50,238.99 337.70,239.02 337.75,239.22 338.00,240.26 338.25,240.46 338.50,240.57 338.75,240.21 339.00,240.41 339.25,239.83 339.50,240.24 339.75,240.53 340.00,240.12 340.25,239.67 340.50,239.70 340.75,240.56 341.00,240.85 341.25,240.97 341.50,240.86 341.75,240.34 342.00,239.88 342.25,240.41 342.50,240.73 342.75,241.12 343.00,239.70 343.25,241.08 343.50,240.46 343.75,241.28 344.00,240.23 344.25,239.90 344.50,239.54 344.75,239.79 345.00,240.17 345.25,240.64 345.50,240.05 345.75,240.83 346.00,241.37 346.25,241.06 346.50,240.69 346.75,239.46 347.00,239.50 347.25,239.37 347.50,239.74 347.75,240.32 348.00,240.49 348.25,239.48 348.50,239.08 348.75,238.03 349.00,239.07 349.25,239.62 349.50,240.62 349.75,240.27 350.00,240.08 350.25,240.29 350.50,240.73 350.75,240.34 351.00,239.86 351.25,240.19 351.50,240.76 351.75,242.36 352.00,243.02 352.25,242.10 352.30,241.91 352.50,240.74 352.75,239.99 353.00,239.61 353.25,239.80 353.50,240.18 353.75,239.72 354.00,240.29 354.25,239.61 354.50,240.24 354.75,239.14 355.00,239.37 355.25,239.29 355.50,239.96 355.75,240.27 356.00,240.65 356.25,240.30 356.50,240.85 356.75,239.85 357.00,240.08 357.25,239.55 357.50,240.03 357.75,239.91 358.00,239.43 358.25,239.77 358.50,239.62 358.75,240.28 359.00,240.27 359.25,240.61 359.50,240.35 359.75,239.84 360.00,239.97 360.25,240.26 360.50,240.48 360.75,239.74 361.00,239.14 361.25,239.71 361.50,239.48 361.75,239.90 362.00,239.32 362.25,240.31 362.50,239.56 362.75,239.89 363.00,239.16 363.25,239.97 363.50,240.48 363.75,240.82 364.00,241.38 364.25,240.70 364.50,241.10 364.75,241.27 365.00,241.66 365.25,241.58 365.50,239.67 365.75,238.93 366.00,238.87 366.25,239.52 366.50,239.45 366.75,239.49 367.00,239.21 367.25,239.14 367.50,239.23 367.75,240.64 368.00,240.79 368.25,240.55 368.50,239.95 368.75,239.99 369.00,239.59 369.25,239.54 369.50,239.36 369.75,239.39 370.00,239.99 370.25,239.65 370.50,240.76 370.75,240.58 371.00,241.13 371.25,240.81 371.50,240.30 371.75,240.17 372.00,239.46 372.25,239.07 372.50,240.09 372.75,239.83 373.00,239.60 373.25,238.78 373.50,238.99 373.75,240.36 374.00,240.18 374.25,239.83 374.50,237.99 374.75,236.92 375.00,235.33 375.25,234.88 375.40,234.60 375.50,235.09 375.75,234.50 376.00,234.82 376.25,237.70 376.50,239.19 376.75,239.53 377.00,239.17 377.25,239.48 377.50,239.47 377.75,239.46 378.00,240.03 378.25,239.78 378.50,240.59 378.75,240.33 379.00,240.59 379.25,240.22 379.50,239.90 379.75,239.82 380.00,240.05 380.25,240.08 380.50,241.98 380.75,241.07 381.00,240.62 381.25,239.39 381.50,239.68 381.75,239.97 382.00,238.99 382.25,239.09 382.50,239.02 382.75,239.76 383.00,239.59 383.25,239.90 383.50,239.85 383.75,240.20 384.00,240.00 384.25,239.30 384.50,238.58 384.75,238.13 385.00,238.87 385.25,239.24 385.50,239.71 385.75,239.48 386.00,239.86 386.25,240.47 386.30,240.58 386.50,240.35 386.75,239.43 387.00,239.43 387.25,239.49 387.50,239.96 387.75,239.42 388.00,239.59 388.25,239.96 388.50,240.26 388.75,240.42 389.00,240.09 389.25,240.03 389.50,240.27 389.75,240.14 390.00,240.40 390.25,239.27 390.50,239.74 390.75,239.46 391.00,240.04 391.25,239.52 391.50,239.81 391.75,239.62 392.00,239.34 392.25,239.29 392.50,239.65 392.75,239.89 393.00,240.11 393.25,240.45 393.50,240.35 393.75,240.26 394.00,240.00 394.25,239.67 394.50,238.96 394.75,237.85 395.00,239.06 395.25,239.39 395.50,240.16 395.75,239.84 396.00,240.65 396.25,240.89 396.50,241.03 396.75,240.40 397.00,241.04 397.25,239.23 397.50,238.31 397.60,236.70 397.75,238.20 398.00,239.51 398.25,240.03 398.50,238.60 398.75,239.56 399.00,239.66 399.25,241.18 399.50,241.08 399.75,240.93 400.00,240.45 400.25,239.32 400.50,239.15 400.75,239.05 401.00,240.65 401.25,240.80 401.50,240.07 401.75,240.24 402.00,239.79 402.25,240.48 402.50,239.12 402.75,238.04 403.00,238.35 403.25,238.57 403.50,240.37 403.75,239.76 404.00,240.23 404.25,240.58 404.50,241.12 404.75,240.80 405.00,239.90 405.25,239.64 405.50,239.14 405.75,239.40 406.00,239.68 406.25,239.61 406.30,239.04 406.50,239.53 406.75,240.15 407.00,241.46 407.25,240.93 407.50,241.23 407.75,240.54 408.00,241.02 408.25,241.29 408.50,241.20 408.75,239.67 409.00,238.55 409.25,238.53 409.50,238.91 409.75,239.69 410.00,239.91 410.25,240.54 410.50,240.53 410.75,240.43 411.00,240.39 411.25,240.23 411.50,239.69 411.75,239.51 412.00,239.41 412.25,240.25 412.50,240.10 412.75,239.73 413.00,240.14 413.25,240.67 413.30,241.55 413.50,241.78 413.75,242.74 414.00,243.92 414.25,242.12 414.50,240.35 414.75,239.65 415.00,239.62 415.25,240.34 415.50,240.12 415.75,239.92 416.00,239.21 416.25,239.66 416.50,238.92 416.75,239.40 417.00,238.84 417.25,239.48 417.50,239.57 417.75,239.62 418.00,239.07 418.25,238.09 418.50,237.46 418.75,237.85 419.00,238.58 419.25,239.22 419.50,239.57 419.75,239.79 419.80,239.76 420.00,239.15 420.25,238.88 420.50,238.79 420.75,240.11 421.00,240.73 421.25,240.64 421.50,239.87 421.75,240.00 422.00,240.46 422.25,240.97 422.50,240.54 422.75,240.57 423.00,240.41 423.25,240.06 423.50,239.64 423.75,239.23 424.00,239.94 424.25,240.39 424.50,240.00 424.75,239.98 425.00,240.06 425.25,240.99 425.50,240.68 425.75,240.49 426.00,239.25 426.25,239.25 426.50,238.46 426.75,239.21 427.00,239.85 427.25,240.70 427.50,240.94 427.75,239.95 428.00,239.98 428.25,239.28 428.50,239.40 428.75,239.39 429.00,239.83 429.25,239.45 429.50,238.33 429.75,238.17 430.00,238.30 430.25,239.04 430.50,239.50 430.75,239.09 431.00,239.65 431.25,238.86 431.50,240.67 431.75,240.88 432.00,241.73 432.25,240.33 432.50,239.87 432.75,239.67 433.00,239.77 433.25,239.47 433.50,239.86 433.75,240.18 434.00,241.23 434.25,241.29 434.50,241.21 434.75,240.67 435.00,240.23 435.25,239.74 435.50,239.71 435.75,239.30 436.00,240.42 436.25,240.62 436.50,239.95 436.75,239.40 437.00,238.52 437.25,240.24 437.50,240.14 437.75,240.72 438.00,240.27 438.25,239.91 438.50,239.84 438.75,240.14 439.00,240.29 439.25,240.48 439.50,239.83 439.75,241.03 440.00,241.63 440.25,241.73 440.50,240.70 440.75,240.08 441.00,240.04 441.25,240.07 441.50,239.60 441.75,240.38 442.00,241.39 442.25,241.86 442.50,240.45 442.75,238.90 443.00,238.89 443.25,239.16 443.50,239.51 443.75,239.34 444.00,239.55 444.25,240.31 444.50,239.70 444.75,239.93 445.00,238.91 445.25,239.55 445.50,238.71 445.75,239.00 446.00,239.39 446.25,239.87 446.50,240.19 446.75,239.50 447.00,239.87 447.25,239.61 447.50,240.07 447.75,239.54 448.00,239.60 448.25,239.68 448.50,239.83 448.75,240.24 449.00,240.31 449.25,240.73 449.50,239.54 449.75,239.89 449.80,239.27 450.00,240.15 450.25,239.61 450.50,240.84 450.75,240.88 451.00,240.33 451.25,239.90 451.50,240.57 451.75,240.53 452.00,240.52 452.25,239.82 452.50,240.32 452.75,239.94 453.00,240.11 453.25,240.29 453.50,241.44 453.75,240.49 454.00,240.94 454.25,239.96 454.50,240.33 454.75,239.00 455.00,239.54 455.25,239.26 455.50,240.69 455.75,239.50 456.00,240.39 456.25,239.18 456.50,239.18 456.75,238.74 457.00,239.98 457.25,240.66 457.50,241.05 457.75,240.63 458.00,241.07 458.25,240.56 458.50,240.35 458.75,239.87 459.00,240.10 459.25,238.99 459.50,239.37 459.75,239.86 460.00,240.57 460.25,241.71 460.50,240.86 460.75,240.96 461.00,239.52 461.25,239.71 461.50,239.80 461.75,240.33 462.00,240.20 462.25,239.35 462.50,238.42 462.75,238.45 463.00,239.10 463.25,239.05 463.50,239.42 463.75,240.63 464.00,240.93 464.25,241.87 464.50,240.83 464.75,240.57 465.00,238.78 465.25,238.89 465.50,239.35 465.75,241.34 466.00,240.49 466.25,239.96 466.50,238.66 466.75,239.31 467.00,239.58 467.25,239.37 467.50,239.42 467.75,239.02 468.00,238.95 468.25,239.09 468.50,240.04 468.75,240.18 469.00,239.28 469.25,238.53 469.50,238.82 469.75,239.59 470.00,240.34 470.25,239.89 470.50,239.80 470.75,238.99 471.00,240.17 471.25,240.44 471.50,240.59 471.75,239.50 472.00,239.74 472.25,239.28 472.50,240.13 472.75,240.20 473.00,241.06 473.25,240.65 473.50,240.22 473.75,240.31 474.00,240.15 474.25,240.56 474.50,239.59 474.75,240.25 475.00,239.78 475.25,240.93 475.50,240.52 475.75,240.35 476.00,239.77 476.25,239.34 476.50,239.91 476.75,239.36 477.00,239.02 477.25,239.07 477.50,239.84 477.75,240.04 478.00,239.89 478.25,239.17 478.50,239.62 478.75,238.79 479.00,239.66 479.25,239.60 479.50,240.28 479.75,239.07 480.00,238.61 480.25,237.84 480.50,238.53 480.75,239.00 481.00,238.91 481.25,238.88 481.50,238.82 481.75,239.73 482.00,239.88 482.25,240.03 482.50,240.40 482.75,239.77 483.00,240.18 483.25,239.05 483.50,239.73 483.75,238.89 484.00,239.60 484.25,239.52 484.50,240.38 484.75,239.60 485.00,240.14 485.25,239.83 485.50,241.03 485.60,240.35 485.75,240.74 486.00,240.35 486.25,240.89 486.50,240.33 486.75,240.50 487.00,240.81 487.25,240.66 487.50,239.57 487.75,239.03 488.00,239.43 488.25,239.94 488.50,239.69 488.75,238.72 489.00,239.21 489.25,238.94 489.50,239.99 489.75,240.25 490.00,241.52 490.25,241.68 490.50,241.70 490.75,240.92 491.00,241.24 491.25,239.91 491.50,239.37 491.75,239.27 492.00,239.81 492.25,239.83 492.50,238.78 492.75,239.45 493.00,240.40 493.25,240.99 493.50,240.42 493.75,239.87 494.00,239.84 494.25,239.93 494.50,240.26 494.75,239.44 495.00,240.06 495.25,239.88 495.50,240.42 495.75,239.70 496.00,238.67 496.25,239.25 496.50,239.24 496.75,240.21 497.00,239.62 497.25,240.26 497.50,240.20 497.75,241.03 498.00,240.94 498.25,240.83 498.50,239.80 498.60,240.59 498.75,240.38 499.00,240.41 499.25,238.84 499.50,239.29 499.75,239.46 500.00,240.47 500.25,239.98 500.50,239.42 500.75,239.63 501.00,238.89 501.25,239.49 501.50,237.97 501.75,239.36 502.00,239.01 502.25,240.07 502.50,239.63 502.75,240.10 503.00,239.27 503.25,239.44 503.50,239.43 503.75,240.03 504.00,240.51 504.25,240.81 504.50,241.90 504.75,240.89 505.00,240.68 505.25,239.50 505.50,240.30 505.75,240.73 506.00,241.62 506.25,242.05 506.50,241.05 506.75,239.79 507.00,238.68 507.25,239.06 507.50,238.78 507.60,239.11 507.75,238.43 508.00,238.96 508.25,239.04 508.50,240.24 508.75,240.34 509.00,240.23 509.25,239.98 509.50,239.65 509.75,240.33 510.00,240.05 510.25,240.63 510.50,239.97 510.75,240.00 511.00,239.63 511.25,239.48 511.50,239.49 511.75,239.99 512.00,239.64 512.25,239.62 512.50,239.75 512.75,240.23 513.00,240.71 513.25,240.58 513.50,240.26 513.75,239.50 514.00,239.77 514.25,240.73 514.50,241.20 514.75,240.67 515.00,239.16 515.25,238.94 515.50,238.13 515.75,239.07 515.80,239.07 516.00,239.76 516.25,240.05 516.50,240.13 516.75,239.67 517.00,239.26 517.25,239.62 517.50,241.03 517.75,240.76 518.00,240.55 518.25,240.15 518.50,240.85 518.75,240.59 519.00,240.64 519.25,241.22 519.50,241.38 519.75,240.49 520.00,239.09 520.25,239.33 520.50,240.28 520.75,240.79 521.00,240.49 521.25,239.81 521.50,240.81 521.75,240.39 522.00,240.82 522.25,239.66 522.50,240.38 522.75,240.28 523.00,241.08 523.25,240.69 523.50,240.17 523.75,239.41 524.00,239.06 524.25,239.77 524.50,239.98 524.70,239.67 524.75,239.37 525.00,239.17 525.25,239.14 525.50,238.88 525.75,239.05 526.00,239.52 526.25,239.40 526.50,238.91 526.75,238.65 527.00,239.72 527.25,239.66 527.50,240.43 527.75,239.82 528.00,240.40 528.25,239.26 528.50,239.52 528.75,239.20 529.00,241.03 529.25,240.36 529.50,240.19 529.75,239.77 530.00,239.80 530.25,240.40 530.50,240.29 530.75,240.05 531.00,239.38 531.25,238.97 531.50,239.81 531.75,240.32 532.00,240.16 532.25,240.33 532.50,240.85 532.75,241.02 533.00,241.34 533.25,240.69 533.50,240.82 533.75,239.52 534.00,239.98 534.25,240.33 534.50,240.65 534.75,239.78 535.00,239.43 535.25,239.43 535.50,240.21 535.75,239.55 536.00,239.75 536.25,239.27 536.50,240.18 536.75,240.07 537.00,240.30 537.25,239.99 537.50,240.25 537.75,241.03 538.00,240.89 538.25,240.69 538.50,239.68 538.75,239.78 539.00,239.08 539.25,239.28 539.50,239.91 539.75,240.52 540.00,240.48 540.25,239.64 540.50,239.24 540.75,239.69 541.00,239.70 541.25,239.76 541.50,240.22 541.75,240.86 542.00,241.30 542.25,240.26 542.50,240.39 542.75,241.11 543.00,241.39 543.25,240.98 543.50,240.38 543.75,241.02 544.00,241.11 544.25,241.04 544.50,240.29 544.75,239.80 545.00,239.81 545.25,240.02 545.50,240.14 545.75,239.98" stroke="#747474" stroke-width="1.05"/>
<polyline points="37.00,178.38 37.25,178.15 37.50,177.38 37.75,176.87 38.00,177.12 38.25,177.49 38.50,177.50 38.75,177.48 39.00,177.54 39.25,177.35 39.50,177.39 39.75,178.13 40.00,178.76 40.25,178.78 40.50,178.22 40.75,177.70 41.00,177.38 41.25,177.49 41.50,177.91 41.75,177.59 42.00,177.36 42.25,178.10 42.50,178.75 42.75,178.36 43.00,177.69 43.25,177.86 43.50,178.32 43.75,178.18 44.00,177.91 44.25,178.23 44.50,179.00 44.75,179.06 45.00,178.17 45.25,177.76 45.50,177.52 45.75,177.16 46.00,177.44 46.25,178.15 46.50,178.76 46.75,178.41 47.00,178.04 47.25,178.48 47.50,178.27 47.75,177.77 48.00,177.97 48.25,178.17 48.50,178.26 48.75,178.13 49.00,177.81 49.25,178.42 49.50,179.32 49.75,179.58 50.00,179.66 50.25,179.82 50.50,179.46 50.75,178.91 51.00,178.65 51.25,178.22 51.50,177.93 51.75,178.25 52.00,179.23 52.25,179.62 52.50,179.43 52.75,179.40 53.00,178.93 53.25,178.71 53.50,178.55 53.75,178.25 54.00,178.76 54.25,178.86 54.50,178.07 54.75,177.63 55.00,177.32 55.25,176.33 55.50,172.80 55.75,163.62 56.00,146.04 56.25,125.37 56.40,120.21 56.50,122.68 56.75,140.81 57.00,159.76 57.25,170.34 57.50,174.05 57.75,175.70 58.00,176.60 58.25,176.41 58.50,175.53 58.75,174.96 59.00,175.38 59.25,175.85 59.50,175.76 59.75,175.72 60.00,175.80 60.25,175.52 60.50,175.34 60.75,174.92 61.00,173.44 61.25,170.83 61.50,164.99 61.75,154.68 62.00,147.94 62.25,153.75 62.50,163.98 62.75,170.51 63.00,172.62 63.25,172.52 63.50,171.90 63.75,170.11 64.00,160.64 64.25,121.33 64.50,51.03 64.60,39.71 64.75,64.10 65.00,133.73 65.25,165.21 65.50,172.92 65.75,174.94 66.00,176.07 66.25,177.12 66.50,177.58 66.75,177.85 67.00,177.77 67.25,177.84 67.50,178.71 67.75,179.29 68.00,179.42 68.25,179.48 68.50,179.32 68.75,179.35 69.00,180.10 69.25,180.93 69.50,180.73 69.75,180.27 70.00,180.30 70.25,180.15 70.50,180.26 70.75,180.53 71.00,180.02 71.25,179.43 71.50,179.67 71.75,180.17 72.00,180.50 72.25,180.40 72.50,179.85 72.75,179.45 73.00,178.14 73.25,174.22 73.50,165.75 73.75,152.67 74.00,144.87 74.25,152.53 74.50,165.16 74.75,173.92 75.00,178.11 75.25,179.44 75.50,179.77 75.75,180.12 76.00,180.66 76.25,180.89 76.50,180.69 76.75,180.70 77.00,180.61 77.25,180.98 77.50,181.86 77.75,181.32 78.00,180.82 78.25,181.23 78.50,181.14 78.75,181.34 79.00,181.55 79.25,181.11 79.50,180.89 79.75,180.99 80.00,180.85 80.25,180.43 80.50,180.51 80.75,181.27 81.00,181.88 81.25,182.18 81.50,182.33 81.75,181.89 82.00,181.28 82.25,180.80 82.50,180.31 82.75,180.32 83.00,180.74 83.25,181.26 83.50,181.34 83.75,180.76 84.00,179.88 84.25,178.56 84.50,176.24 84.75,172.62 85.00,170.12 85.25,172.65 85.50,177.46 85.75,180.22 86.00,180.69 86.25,180.75 86.50,181.03 86.75,181.33 87.00,181.53 87.25,181.80 87.50,182.18 87.75,182.46 88.00,182.27 88.25,181.84 88.50,181.65 88.75,181.42 89.00,181.70 89.25,182.19 89.50,182.25 89.75,182.30 90.00,181.98 90.25,181.93 90.50,182.18 90.75,182.01 91.00,181.82 91.25,181.61 91.50,181.46 91.75,181.44 92.00,181.78 92.25,182.24 92.50,182.36 92.75,181.88 93.00,181.05 93.25,181.36 93.50,181.95 93.75,182.00 94.00,182.30 94.25,182.22 94.50,181.91 94.75,182.50 95.00,183.08 95.25,182.55 95.50,181.91 95.75,181.75 96.00,181.55 96.25,181.32 96.50,182.00 96.75,183.01 97.00,182.90 97.25,182.55 97.50,182.81 97.75,182.96 98.00,182.89 98.25,183.02 98.50,182.73 98.75,182.48 99.00,182.09 99.25,181.12 99.50,181.17 99.75,181.59 100.00,181.40 100.25,181.29 100.50,181.10 100.75,181.28 101.00,181.15 101.25,178.63 101.50,175.28 101.70,174.20 101.75,174.16 102.00,176.42 102.25,179.51 102.50,181.02 102.75,181.21 103.00,181.58 103.25,181.60 103.50,181.43 103.75,181.68 104.00,181.80 104.25,182.07 104.50,181.77 104.75,180.43 105.00,178.29 105.25,175.52 105.40,174.38 105.50,174.74 105.75,177.27 106.00,179.72 106.25,181.18 106.50,181.59 106.75,181.87 107.00,182.83 107.25,183.10 107.50,182.27 107.75,181.93 108.00,182.30 108.25,182.90 108.50,182.74 108.75,181.75 109.00,181.29 109.25,181.22 109.50,181.02 109.75,181.20 110.00,181.60 110.25,181.93 110.50,182.57 110.75,182.48 111.00,181.59 111.25,181.29 111.50,181.87 111.75,182.31 112.00,181.68 112.25,181.27 112.50,181.80 112.75,182.06 113.00,182.19 113.25,182.62 113.50,182.57 113.75,182.12 114.00,181.80 114.25,181.84 114.50,181.54 114.75,181.18 115.00,181.37 115.25,181.40 115.50,181.40 115.75,181.88 116.00,182.65 116.25,182.78 116.50,182.67 116.75,182.35 117.00,181.27 117.25,180.83 117.50,181.66 117.75,182.38 118.00,182.44 118.25,182.59 118.50,182.30 118.75,181.71 119.00,182.27 119.25,182.79 119.50,181.82 119.75,181.08 120.00,181.45 120.25,181.89 120.50,181.93 120.75,181.76 121.00,181.42 121.25,181.29 121.50,182.18 121.75,183.00 122.00,182.43 122.25,181.56 122.50,181.00 122.75,180.59 123.00,181.01 123.25,181.04 123.50,180.14 123.75,178.42 124.00,174.17 124.25,167.50 124.50,163.35 124.75,166.80 125.00,172.90 125.25,177.51 125.50,180.13 125.75,181.24 126.00,181.87 126.25,182.10 126.50,181.69 126.75,181.64 127.00,181.92 127.25,182.01 127.50,182.02 127.75,182.16 128.00,182.41 128.25,182.42 128.50,182.42 128.75,182.57 129.00,182.37 129.25,181.91 129.50,181.91 129.75,182.04 130.00,182.31 130.25,182.35 130.50,181.56 130.75,181.08 131.00,181.40 131.25,181.52 131.50,181.27 131.75,181.32 132.00,181.13 132.25,180.98 132.50,181.33 132.75,181.36 133.00,180.65 133.25,179.23 133.50,175.93 133.75,169.23 134.00,162.59 134.10,162.37 134.25,164.84 134.50,172.16 134.75,178.20 135.00,180.66 135.25,181.05 135.50,181.14 135.75,181.69 136.00,182.40 136.25,182.40 136.50,181.92 136.75,182.10 137.00,182.80 137.25,183.04 137.50,182.47 137.75,181.82 138.00,181.69 138.25,181.74 138.50,182.00 138.75,182.59 139.00,182.92 139.25,182.93 139.50,182.73 139.75,182.33 140.00,182.19 140.25,182.12 140.50,182.35 140.75,182.64 141.00,181.99 141.25,181.31 141.50,181.47 141.75,181.43 142.00,181.14 142.25,181.59 142.50,182.55 142.75,182.73 143.00,182.28 143.25,182.44 143.50,182.31 143.75,181.59 144.00,181.51 144.25,181.70 144.50,181.26 144.75,180.42 145.00,179.90 145.25,179.37 145.50,179.02 145.75,179.63 146.00,180.66 146.25,181.76 146.50,181.70 146.75,181.19 147.00,181.45 147.25,181.60 147.50,181.60 147.75,181.77 148.00,181.97 148.25,181.72 148.50,181.54 148.75,181.76 149.00,181.57 149.25,181.46 149.50,181.64 149.75,181.22 150.00,180.78 150.25,180.54 150.50,180.32 150.75,180.94 151.00,181.48 151.25,180.98 151.50,180.51 151.75,180.29 152.00,180.64 152.25,181.40 152.50,181.21 152.75,180.54 153.00,180.26 153.25,179.98 153.50,179.73 153.75,179.61 154.00,179.76 154.25,180.22 154.50,180.45 154.75,180.23 155.00,179.59 155.25,179.10 155.50,179.04 155.75,179.08 156.00,179.11 156.25,178.27 156.50,175.67 156.75,171.49 157.00,169.13 157.25,171.87 157.50,175.26 157.75,176.70 158.00,177.88 158.25,178.36 158.50,178.18 158.75,178.28 159.00,177.59 159.25,176.96 159.50,176.75 159.75,174.47 160.00,168.86 160.25,159.24 160.50,149.90 160.60,149.14 160.75,151.43 161.00,161.05 161.25,169.68 161.50,174.27 161.75,175.82 162.00,176.03 162.25,176.28 162.50,176.14 162.75,175.84 163.00,175.74 163.25,175.48 163.50,175.65 163.75,176.04 164.00,176.07 164.25,176.07 164.50,175.57 164.75,174.48 165.00,173.86 165.25,174.12 165.50,174.41 165.75,173.99 166.00,173.53 166.25,172.96 166.50,171.47 166.75,169.92 167.00,167.48 167.25,158.64 167.50,136.48 167.75,103.98 168.00,85.52 168.25,104.60 168.50,136.17 168.75,157.02 169.00,166.21 169.25,169.90 169.50,171.75 169.75,173.06 170.00,173.36 170.25,172.65 170.50,172.45 170.75,172.76 171.00,173.00 171.25,173.31 171.50,173.43 171.75,173.54 172.00,173.60 172.25,172.98 172.50,172.10 172.75,171.55 173.00,170.91 173.25,169.09 173.50,166.38 173.75,164.85 173.80,164.95 174.00,165.66 174.25,168.10 174.50,170.02 174.75,171.68 175.00,172.39 175.25,171.83 175.50,172.01 175.75,172.48 176.00,172.09 176.25,171.76 176.50,171.39 176.75,170.73 177.00,170.53 177.25,169.64 177.50,166.59 177.75,160.14 178.00,145.03 178.25,117.48 178.50,90.14 178.60,86.27 178.75,92.77 179.00,122.34 179.25,148.64 179.50,161.84 179.75,166.41 180.00,168.38 180.25,169.66 180.50,170.03 180.75,169.88 181.00,169.73 181.25,168.98 181.50,167.21 181.75,163.85 182.00,159.62 182.20,157.97 182.25,157.32 182.50,161.12 182.75,166.20 183.00,169.04 183.25,170.42 183.50,171.16 183.75,172.12 184.00,172.56 184.25,171.88 184.50,171.28 184.75,170.27 185.00,166.61 185.25,160.99 185.50,157.61 185.75,160.71 186.00,167.01 186.25,171.52 186.50,173.21 186.75,173.58 187.00,173.87 187.25,174.54 187.50,174.94 187.75,174.92 188.00,175.17 188.25,175.92 188.50,176.40 188.75,176.43 189.00,176.73 189.25,177.23 189.50,177.31 189.75,176.89 190.00,176.54 190.25,176.60 190.50,176.96 190.75,177.46 191.00,177.56 191.25,177.30 191.50,177.12 191.75,177.32 192.00,177.74 192.25,177.75 192.50,177.56 192.75,177.42 193.00,177.35 193.25,177.80 193.50,178.45 193.75,178.31 194.00,177.70 194.25,177.38 194.50,177.61 194.75,178.38 195.00,178.44 195.25,177.53 195.50,177.26 195.75,177.56 196.00,177.31 196.25,177.12 196.50,177.71 196.75,177.85 197.00,177.39 197.25,177.75 197.50,178.37 197.75,178.20 198.00,178.14 198.25,178.54 198.50,178.05 198.75,177.44 199.00,177.38 199.25,177.22 199.50,177.09 199.75,176.95 200.00,176.96 200.25,177.06 200.50,177.29 200.75,177.30 201.00,176.91 201.25,176.77 201.50,176.39 201.75,175.74 202.00,175.90 202.25,176.19 202.50,176.08 202.75,176.50 203.00,176.43 203.25,174.40 203.50,171.02 203.75,167.07 204.00,164.31 204.25,166.07 204.50,170.12 204.75,172.01 205.00,171.91 205.25,171.78 205.50,170.20 205.75,164.76 206.00,155.48 206.25,148.16 206.30,147.72 206.50,151.10 206.75,160.67 207.00,168.93 207.25,172.98 207.50,173.58 207.75,173.38 208.00,174.24 208.25,175.33 208.50,175.20 208.75,174.85 209.00,175.18 209.25,175.52 209.50,175.05 209.75,173.96 210.00,173.09 210.20,173.45 210.25,174.00 210.50,174.84 210.75,175.94 211.00,176.55 211.25,176.76 211.50,176.94 211.75,177.23 212.00,177.61 212.25,177.49 212.50,177.20 212.75,177.33 213.00,177.59 213.25,177.79 213.50,177.90 213.75,177.63 214.00,177.35 214.25,177.97 214.50,178.23 214.75,177.99 215.00,178.43 215.25,178.43 215.50,177.69 215.75,177.56 216.00,178.02 216.25,177.89 216.50,177.90 216.75,178.12 217.00,177.73 217.25,177.41 217.50,177.57 217.75,178.10 218.00,178.56 218.25,178.64 218.50,178.45 218.75,178.25 219.00,178.13 219.25,178.43 219.50,178.97 219.75,178.35 220.00,177.30 220.25,177.75 220.50,178.38 220.75,177.90 221.00,177.82 221.25,178.02 221.50,177.98 221.75,178.63 222.00,178.76 222.25,178.22 222.50,178.01 222.75,177.47 223.00,177.09 223.25,177.16 223.50,176.18 223.75,173.94 224.00,171.01 224.20,169.33 224.25,169.14 224.50,171.63 224.75,175.00 225.00,176.96 225.25,177.14 225.50,176.79 225.75,177.07 226.00,177.06 226.25,176.42 226.50,176.57 226.75,177.26 227.00,177.42 227.25,177.24 227.50,177.15 227.75,177.00 228.00,176.75 228.25,176.37 228.50,176.04 228.75,176.00 229.00,176.48 229.25,176.97 229.50,176.45 229.75,175.62 230.00,175.02 230.25,173.79 230.50,170.67 230.75,164.04 231.00,155.16 231.20,151.50 231.25,151.53 231.50,158.61 231.75,167.29 232.00,172.16 232.25,174.52 232.50,175.52 232.75,175.65 233.00,175.44 233.25,175.63 233.50,176.28 233.75,176.09 234.00,176.02 234.25,176.27 234.50,176.23 234.75,176.67 235.00,176.66 235.25,175.29 235.50,172.41 235.75,168.91 235.90,168.45 236.00,169.63 236.25,172.24 236.50,175.04 236.75,177.00 237.00,177.28 237.25,177.28 237.50,177.54 237.75,177.52 238.00,177.38 238.25,177.84 238.50,178.64 238.75,178.12 239.00,176.78 239.25,176.95 239.50,178.02 239.75,178.29 240.00,178.41 240.25,178.39 240.50,178.17 240.75,178.61 241.00,178.88 241.25,178.79 241.50,178.89 241.75,178.86 242.00,178.49 242.25,178.42 242.50,178.78 242.75,178.51 243.00,178.34 243.25,179.06 243.50,179.56 243.75,179.34 244.00,178.88 244.25,178.56 244.50,178.18 244.75,177.98 245.00,178.28 245.25,178.34 245.50,178.49 245.75,178.60 246.00,177.84 246.25,177.46 246.50,178.03 246.75,178.48 247.00,178.19 247.25,177.69 247.50,177.42 247.75,177.18 248.00,177.39 248.25,178.06 248.50,178.36 248.75,178.02 249.00,177.99 249.25,178.14 249.50,177.06 249.75,176.18 250.00,176.65 250.25,177.18 250.50,177.04 250.75,176.64 251.00,177.00 251.25,177.08 251.50,176.10 251.75,175.19 252.00,174.90 252.25,175.20 252.50,175.26 252.75,174.53 253.00,173.13 253.25,169.24 253.50,158.54 253.75,136.22 254.00,106.66 254.20,94.93 254.25,95.96 254.50,117.97 254.75,146.27 255.00,163.59 255.25,170.09 255.50,171.82 255.75,172.89 256.00,173.63 256.25,173.27 256.50,172.15 256.75,168.94 257.00,161.39 257.25,149.87 257.50,142.40 257.75,149.37 258.00,162.00 258.25,170.25 258.50,173.67 258.75,174.97 259.00,175.83 259.25,176.56 259.50,176.62 259.75,176.16 260.00,176.11 260.25,176.48 260.50,176.73 260.75,176.67 261.00,175.96 261.25,175.65 261.50,176.50 261.75,177.11 262.00,177.20 262.25,177.19 262.50,176.37 262.75,174.95 263.00,172.03 263.25,163.98 263.50,148.06 263.75,129.46 263.90,124.80 264.00,126.87 264.25,143.65 264.50,160.91 264.75,170.60 265.00,174.47 265.25,176.69 265.50,178.37 265.75,179.02 266.00,178.69 266.25,178.00 266.50,178.35 266.75,179.09 267.00,179.06 267.25,178.80 267.50,178.54 267.75,179.05 268.00,179.81 268.25,179.82 268.50,179.51 268.75,179.17 269.00,179.41 269.25,180.09 269.50,180.16 269.75,179.90 270.00,179.72 270.25,179.71 270.50,180.26 270.75,180.27 271.00,179.55 271.25,179.45 271.50,179.12 271.75,177.61 272.00,174.24 272.25,167.02 272.50,159.43 272.60,158.85 272.75,160.68 273.00,167.70 273.25,174.37 273.50,177.84 273.75,179.14 274.00,179.74 274.25,179.51 274.50,179.05 274.75,179.23 275.00,179.99 275.25,180.45 275.50,180.32 275.75,180.16 276.00,180.42 276.25,180.67 276.50,179.93 276.75,178.39 277.00,177.32 277.20,177.14 277.25,176.80 277.50,177.60 277.75,178.85 278.00,179.67 278.25,179.96 278.50,179.95 278.75,180.45 279.00,180.27 279.25,179.84 279.50,179.78 279.75,179.38 280.00,179.09 280.25,178.11 280.50,176.92 280.75,177.74 281.00,179.26 281.25,179.87 281.50,180.25 281.75,180.88 282.00,181.03 282.25,180.46 282.50,180.15 282.75,179.22 283.00,177.44 283.20,176.90 283.25,176.74 283.50,177.98 283.75,180.14 284.00,181.06 284.25,181.13 284.50,180.94 284.75,180.76 285.00,180.53 285.25,180.40 285.50,180.62 285.75,181.09 286.00,181.34 286.25,181.04 286.50,180.77 286.75,180.64 287.00,180.14 287.25,179.61 287.50,179.28 287.70,178.96 287.75,178.83 288.00,179.61 288.25,180.61 288.50,180.98 288.75,180.89 289.00,180.95 289.25,181.16 289.50,181.33 289.75,181.48 290.00,181.82 290.25,181.91 290.50,181.19 290.75,180.83 291.00,181.74 291.25,181.97 291.50,180.91 291.75,179.75 292.00,179.13 292.25,179.18 292.30,179.58 292.50,179.72 292.75,179.63 293.00,180.32 293.25,181.06 293.50,180.75 293.75,180.62 294.00,180.82 294.25,180.77 294.50,180.76 294.75,180.83 295.00,180.75 295.25,180.99 295.50,181.23 295.75,181.07 296.00,180.87 296.25,180.93 296.50,180.96 296.75,180.84 297.00,180.47 297.25,179.70 297.50,179.55 297.75,180.15 298.00,180.82 298.25,180.61 298.50,179.85 298.75,180.06 299.00,180.51 299.25,180.26 299.50,179.60 299.75,178.67 300.00,178.43 300.25,179.36 300.50,179.66 300.75,178.86 301.00,178.21 301.25,178.07 301.50,178.14 301.75,177.78 302.00,177.08 302.25,176.76 302.50,177.20 302.75,178.04 303.00,178.24 303.25,178.04 303.50,178.31 303.75,178.44 304.00,178.30 304.25,178.14 304.50,178.06 304.75,178.92 305.00,179.83 305.25,179.65 305.50,179.91 305.75,180.23 306.00,179.93 306.25,180.26 306.50,180.66 306.75,180.99 307.00,181.29 307.25,181.08 307.50,181.10 307.75,181.49 308.00,181.41 308.25,180.98 308.50,180.71 308.75,180.90 309.00,181.24 309.25,181.05 309.50,181.43 309.75,182.15 310.00,181.87 310.25,181.16 310.50,180.79 310.75,181.05 311.00,181.57 311.25,181.58 311.50,181.85 311.75,182.13 312.00,181.34 312.25,180.79 312.50,181.01 312.75,181.25 313.00,181.24 313.25,181.11 313.50,181.05 313.75,180.17 314.00,177.74 314.25,175.49 314.40,175.55 314.50,175.77 314.75,177.36 315.00,179.16 315.25,179.88 315.50,180.39 315.75,180.87 316.00,181.07 316.25,181.04 316.50,180.84 316.75,180.69 317.00,180.63 317.25,180.87 317.50,181.11 317.75,180.72 318.00,180.30 318.25,180.47 318.50,180.72 318.75,179.99 319.00,177.21 319.25,172.30 319.50,168.28 319.60,168.28 319.75,168.84 320.00,173.04 320.25,177.11 320.50,179.29 320.75,180.72 321.00,181.30 321.25,181.10 321.50,180.76 321.75,180.99 322.00,181.69 322.25,182.40 322.50,182.87 322.75,181.99 323.00,180.86 323.25,180.98 323.50,181.50 323.75,181.77 324.00,181.72 324.25,181.56 324.50,181.55 324.75,181.94 325.00,182.06 325.25,181.12 325.50,180.35 325.75,180.99 326.00,181.97 326.25,181.85 326.50,181.25 326.75,181.29 327.00,181.81 327.25,181.84 327.50,181.44 327.75,181.27 328.00,181.31 328.25,181.51 328.50,181.98 328.75,181.80 329.00,180.75 329.25,180.58 329.50,181.26 329.75,181.28 330.00,180.85 330.25,180.95 330.50,181.22 330.75,181.24 331.00,181.31 331.25,181.65 331.50,182.09 331.75,182.20 332.00,182.05 332.25,181.70 332.50,181.29 332.75,181.42 333.00,181.83 333.25,181.97 333.50,182.03 333.75,181.91 334.00,181.80 334.25,181.52 334.50,181.08 334.75,181.15 335.00,181.54 335.25,181.72 335.50,181.57 335.75,181.49 336.00,181.57 336.25,181.82 336.50,181.86 336.75,181.45 337.00,181.00 337.25,180.36 337.50,179.27 337.70,178.57 337.75,178.43 338.00,179.08 338.25,180.09 338.50,181.16 338.75,181.52 339.00,181.65 339.25,181.94 339.50,181.81 339.75,181.89 340.00,181.64 340.25,181.08 340.50,181.03 340.75,181.05 341.00,181.49 341.25,182.34 341.50,182.76 341.75,182.11 342.00,181.21 342.25,181.59 342.50,182.31 342.75,182.47 343.00,182.34 343.25,181.70 343.50,181.11 343.75,181.03 344.00,181.58 344.25,182.00 344.50,181.81 344.75,182.00 345.00,182.28 345.25,182.12 345.50,181.83 345.75,182.16 346.00,182.39 346.25,181.86 346.50,182.14 346.75,182.64 347.00,182.60 347.25,181.95 347.50,180.87 347.75,180.84 348.00,181.17 348.25,181.36 348.50,181.76 348.75,181.79 349.00,181.71 349.25,181.65 349.50,181.52 349.75,181.80 350.00,181.51 350.25,180.65 350.50,180.32 350.75,180.45 351.00,180.96 351.25,181.72 351.50,182.08 351.75,181.11 352.00,179.03 352.25,177.87 352.30,178.23 352.50,178.82 352.75,179.96 353.00,181.40 353.25,182.09 353.50,181.56 353.75,181.88 354.00,182.47 354.25,181.82 354.50,181.72 354.75,181.88 355.00,180.94 355.25,180.44 355.50,181.05 355.75,181.88 356.00,182.18 356.25,182.36 356.50,182.63 356.75,182.18 357.00,181.72 357.25,181.95 357.50,182.27 357.75,182.01 358.00,182.02 358.25,182.70 358.50,182.90 358.75,182.24 359.00,181.30 359.25,181.06 359.50,181.36 359.75,181.27 360.00,180.77 360.25,180.28 360.50,179.92 360.75,180.11 361.00,180.87 361.25,181.33 361.50,181.43 361.75,181.78 362.00,182.17 362.25,182.00 362.50,181.72 362.75,181.93 363.00,182.14 363.25,182.09 363.50,182.13 363.75,182.39 364.00,182.10 364.25,181.34 364.50,180.95 364.75,181.24 365.00,181.73 365.25,181.73 365.50,181.70 365.75,182.15 366.00,182.92 366.25,183.11 366.50,182.80 366.75,182.89 367.00,182.86 367.25,182.53 367.50,181.87 367.75,181.52 368.00,182.17 368.25,182.25 368.50,181.55 368.75,181.61 369.00,182.07 369.25,181.91 369.50,181.38 369.75,181.51 370.00,182.34 370.25,182.60 370.50,182.20 370.75,181.98 371.00,181.82 371.25,181.52 371.50,181.19 371.75,180.93 372.00,180.86 372.25,181.17 372.50,181.42 372.75,181.23 373.00,180.86 373.25,180.58 373.50,179.93 373.75,178.82 374.00,178.71 374.25,178.75 374.50,177.71 374.75,175.35 375.00,169.71 375.25,162.78 375.40,161.03 375.50,161.47 375.75,167.60 376.00,173.96 376.25,177.62 376.50,179.52 376.75,180.27 377.00,180.66 377.25,180.84 377.50,180.71 377.75,180.58 378.00,180.69 378.25,181.01 378.50,181.59 378.75,181.89 379.00,181.51 379.25,181.46 379.50,181.93 379.75,182.10 380.00,181.81 380.25,181.52 380.50,181.54 380.75,181.81 381.00,181.85 381.25,181.61 381.50,181.79 381.75,182.13 382.00,181.89 382.25,181.74 382.50,182.10 382.75,182.28 383.00,182.19 383.25,181.90 383.50,181.52 383.75,181.48 384.00,181.51 384.25,180.97 384.50,180.41 384.75,180.68 385.00,181.04 385.25,180.73 385.50,179.80 385.75,177.80 386.00,174.57 386.25,171.99 386.30,171.94 386.50,174.21 386.75,178.28 387.00,180.23 387.25,180.50 387.50,181.18 387.75,181.69 388.00,181.01 388.25,180.84 388.50,181.62 388.75,181.68 389.00,181.82 389.25,182.48 389.50,182.55 389.75,182.66 390.00,182.73 390.25,182.04 390.50,181.74 390.75,182.13 391.00,182.32 391.25,182.38 391.50,182.14 391.75,181.74 392.00,181.72 392.25,181.71 392.50,181.66 392.75,181.78 393.00,181.88 393.25,181.53 393.50,181.21 393.75,181.18 394.00,181.37 394.25,181.73 394.50,181.31 394.75,181.17 395.00,181.46 395.25,180.80 395.50,179.90 395.75,179.82 396.00,180.32 396.25,180.55 396.50,180.12 396.75,178.48 397.00,174.87 397.25,169.23 397.50,163.44 397.60,162.90 397.75,165.00 398.00,171.11 398.25,176.76 398.50,180.08 398.75,180.85 399.00,180.97 399.25,181.41 399.50,181.14 399.75,180.46 400.00,180.87 400.25,181.21 400.50,181.19 400.75,181.57 401.00,181.92 401.25,181.92 401.50,181.97 401.75,181.86 402.00,181.19 402.25,181.00 402.50,181.43 402.75,181.82 403.00,182.08 403.25,182.12 403.50,182.23 403.75,182.70 404.00,182.64 404.25,181.78 404.50,181.12 404.75,180.97 405.00,181.38 405.25,182.09 405.50,181.38 405.75,179.46 406.00,177.20 406.25,174.44 406.30,173.81 406.50,175.91 406.75,179.19 407.00,180.64 407.25,181.44 407.50,182.12 407.75,182.08 408.00,182.09 408.25,182.39 408.50,182.29 408.75,181.84 409.00,181.81 409.25,181.82 409.50,181.49 409.75,181.89 410.00,182.41 410.25,182.30 410.50,182.09 410.75,182.23 411.00,182.18 411.25,181.73 411.50,181.81 411.75,181.76 412.00,181.12 412.25,181.19 412.50,181.54 412.75,180.03 413.00,177.15 413.25,175.46 413.30,175.75 413.50,176.98 413.75,178.73 414.00,179.47 414.25,180.78 414.50,182.22 414.75,182.30 415.00,181.35 415.25,180.96 415.50,181.25 415.75,181.31 416.00,181.13 416.25,181.16 416.50,181.64 416.75,181.91 417.00,181.48 417.25,180.69 417.50,180.19 417.75,180.55 418.00,180.83 418.25,180.70 418.50,181.34 418.75,181.58 419.00,180.33 419.25,178.83 419.50,177.03 419.75,175.08 419.80,174.47 420.00,175.37 420.25,177.94 420.50,179.86 420.75,180.95 421.00,181.55 421.25,181.42 421.50,181.07 421.75,181.61 422.00,181.90 422.25,181.60 422.50,181.77 422.75,182.01 423.00,181.77 423.25,181.55 423.50,181.49 423.75,181.11 424.00,180.78 424.25,180.88 424.50,181.22 424.75,181.77 425.00,182.10 425.25,182.24 425.50,182.28 425.75,181.71 426.00,180.92 426.25,179.97 426.50,178.22 426.75,176.11 427.00,174.79 427.25,176.01 427.50,178.86 427.75,181.06 428.00,181.86 428.25,182.07 428.50,182.19 428.75,182.26 429.00,182.02 429.25,181.76 429.50,182.32 429.75,182.49 430.00,182.13 430.25,182.28 430.50,182.43 430.75,182.71 431.00,182.91 431.25,182.95 431.50,182.67 431.75,182.55 432.00,183.29 432.25,183.27 432.50,182.65 432.75,182.83 433.00,182.90 433.25,182.36 433.50,182.47 433.75,183.00 434.00,183.07 434.25,183.46 434.50,183.85 434.75,183.22 435.00,182.77 435.25,182.78 435.50,182.31 435.75,182.80 436.00,183.69 436.25,183.21 436.50,182.65 436.75,182.51 437.00,182.67 437.25,182.42 437.50,181.75 437.75,182.25 438.00,183.22 438.25,183.46 438.50,183.04 438.75,182.69 439.00,182.80 439.25,182.66 439.50,182.53 439.75,183.24 440.00,183.67 440.25,183.25 440.50,183.23 440.75,182.96 441.00,182.23 441.25,182.26 441.50,182.62 441.75,182.79 442.00,182.78 442.25,182.42 442.50,182.57 442.75,183.17 443.00,183.00 443.25,182.64 443.50,183.18 443.75,183.61 444.00,182.83 444.25,182.47 444.50,183.46 444.75,184.22 445.00,183.63 445.25,182.31 445.50,182.16 445.75,183.06 446.00,183.28 446.25,183.12 446.50,183.36 446.75,183.64 447.00,183.29 447.25,182.89 447.50,182.72 447.75,182.53 448.00,182.74 448.25,182.47 448.50,181.74 448.75,181.56 449.00,181.23 449.25,180.47 449.50,179.70 449.75,178.94 449.80,178.36 450.00,178.10 450.25,179.83 450.50,181.87 450.75,182.60 451.00,182.45 451.25,181.95 451.50,182.31 451.75,183.33 452.00,183.16 452.25,182.58 452.50,182.83 452.75,183.35 453.00,183.17 453.25,182.92 453.50,183.04 453.75,183.35 454.00,183.27 454.25,182.75 454.50,182.84 454.75,182.87 455.00,182.67 455.25,182.84 455.50,182.88 455.75,182.56 456.00,182.73 456.25,183.10 456.50,182.89 456.75,182.87 457.00,183.18 457.25,183.15 457.50,183.00 457.75,182.89 458.00,182.94 458.25,183.05 458.50,182.52 458.75,182.32 459.00,182.68 459.25,182.45 459.50,182.37 459.75,182.88 460.00,183.06 460.25,182.48 460.50,181.58 460.75,180.76 461.00,180.31 461.25,180.86 461.50,182.21 461.75,183.16 462.00,183.02 462.25,182.65 462.50,182.47 462.75,182.36 463.00,182.24 463.25,182.32 463.50,182.75 463.75,183.25 464.00,183.32 464.25,183.14 464.50,182.94 464.75,183.12 465.00,184.22 465.25,184.54 465.50,183.72 465.75,183.37 466.00,183.47 466.25,183.38 466.50,182.78 466.75,182.61 467.00,182.99 467.25,182.98 467.50,182.93 467.75,182.74 468.00,182.90 468.25,183.76 468.50,184.01 468.75,183.38 469.00,183.06 469.25,183.13 469.50,182.70 469.75,182.41 470.00,182.41 470.25,182.40 470.50,182.84 470.75,183.14 471.00,182.90 471.25,182.52 471.50,182.74 471.75,183.57 472.00,184.05 472.25,183.91 472.50,183.33 472.75,182.98 473.00,183.27 473.25,183.34 473.50,183.40 473.75,183.54 474.00,183.55 474.25,183.66 474.50,183.20 474.75,182.83 475.00,182.81 475.25,182.61 475.50,182.82 475.75,182.85 476.00,182.43 476.25,182.31 476.50,182.45 476.75,183.04 477.00,183.54 477.25,183.28 477.50,183.15 477.75,183.10 478.00,182.92 478.25,183.04 478.50,182.98 478.75,182.57 479.00,182.34 479.25,182.89 479.50,183.81 479.75,183.91 480.00,183.42 480.25,183.17 480.50,182.91 480.75,182.40 481.00,182.69 481.25,183.42 481.50,183.28 481.75,183.49 482.00,183.88 482.25,183.42 482.50,183.21 482.75,183.31 483.00,183.27 483.25,183.27 483.50,183.45 483.75,183.78 484.00,183.48 484.25,182.64 484.50,182.35 484.75,182.50 485.00,182.36 485.25,182.17 485.50,182.01 485.60,181.68 485.75,181.70 486.00,182.09 486.25,182.29 486.50,183.09 486.75,183.89 487.00,183.80 487.25,183.14 487.50,183.02 487.75,183.28 488.00,182.98 488.25,182.91 488.50,183.40 488.75,183.53 489.00,183.26 489.25,183.23 489.50,183.50 489.75,183.31 490.00,183.21 490.25,183.80 490.50,183.83 490.75,183.46 491.00,183.95 491.25,184.32 491.50,183.57 491.75,183.03 492.00,183.59 492.25,183.77 492.50,183.57 492.75,183.86 493.00,183.67 493.25,183.57 493.50,183.90 493.75,184.00 494.00,183.98 494.25,183.77 494.50,183.61 494.75,183.58 495.00,183.67 495.25,183.83 495.50,183.70 495.75,183.61 496.00,183.74 496.25,183.84 496.50,184.02 496.75,183.90 497.00,183.36 497.25,183.10 497.50,183.50 497.75,183.81 498.00,183.40 498.25,182.62 498.50,181.67 498.60,181.22 498.75,180.94 499.00,181.50 499.25,182.70 499.50,183.33 499.75,183.52 500.00,183.52 500.25,183.54 500.50,183.65 500.75,183.28 501.00,183.05 501.25,183.01 501.50,183.38 501.75,183.61 502.00,183.18 502.25,183.31 502.50,183.63 502.75,183.66 503.00,183.82 503.25,184.00 503.50,183.96 503.75,183.96 504.00,184.10 504.25,183.95 504.50,183.37 504.75,183.18 505.00,183.53 505.25,183.88 505.50,184.00 505.75,183.37 506.00,183.12 506.25,183.51 506.50,182.98 506.75,182.59 507.00,182.33 507.25,181.19 507.50,180.17 507.60,179.95 507.75,180.31 508.00,181.36 508.25,181.96 508.50,182.75 508.75,183.27 509.00,183.57 509.25,184.09 509.50,184.26 509.75,183.79 510.00,183.94 510.25,184.60 510.50,184.50 510.75,183.78 511.00,182.90 511.25,182.67 511.50,183.11 511.75,183.57 512.00,184.36 512.25,184.60 512.50,183.63 512.75,183.37 513.00,183.89 513.25,184.12 513.50,184.10 513.75,183.58 514.00,183.63 514.25,184.35 514.50,183.92 514.75,182.99 515.00,182.73 515.25,181.94 515.50,180.58 515.75,180.05 515.80,180.11 516.00,180.27 516.25,181.86 516.50,183.40 516.75,183.52 517.00,182.82 517.25,182.44 517.50,182.97 517.75,184.06 518.00,184.22 518.25,183.15 518.50,182.70 518.75,183.34 519.00,183.92 519.25,183.96 519.50,183.68 519.75,183.31 520.00,182.82 520.25,182.81 520.50,183.24 520.75,183.62 521.00,184.17 521.25,184.12 521.50,183.82 521.75,184.05 522.00,183.77 522.25,183.72 522.50,183.70 522.75,182.79 523.00,182.58 523.25,183.19 523.50,183.85 523.75,184.35 524.00,183.91 524.25,182.92 524.50,182.27 524.70,182.25 524.75,182.44 525.00,182.92 525.25,183.35 525.50,183.55 525.75,183.60 526.00,183.47 526.25,183.31 526.50,183.23 526.75,183.36 527.00,183.37 527.25,183.42 527.50,183.99 527.75,184.33 528.00,184.22 528.25,184.25 528.50,184.56 528.75,184.81 529.00,184.71 529.25,184.75 529.50,184.77 529.75,184.35 530.00,183.99 530.25,184.18 530.50,184.69 530.75,184.42 531.00,184.31 531.25,184.57 531.50,184.06 531.75,183.28 532.00,183.07 532.25,183.97 532.50,184.84 532.75,184.87 533.00,184.94 533.25,184.64 533.50,183.76 533.75,183.37 534.00,183.83 534.25,184.23 534.50,184.14 534.75,184.22 535.00,184.27 535.25,183.76 535.50,183.36 535.75,183.78 536.00,184.09 536.25,183.66 536.50,183.30 536.75,183.44 537.00,183.78 537.25,183.99 537.50,183.80 537.75,183.59 538.00,183.74 538.25,183.68 538.50,183.24 538.75,182.97 539.00,183.18 539.25,183.69 539.50,184.15 539.75,184.33 540.00,184.28 540.25,184.01 540.50,183.90 540.75,184.41 541.00,184.78 541.25,184.50 541.50,184.09 541.75,183.94 542.00,183.71 542.25,183.49 542.50,183.48 542.75,183.15 543.00,183.29 543.25,184.18 543.50,184.70 543.75,184.57 544.00,184.21 544.25,184.25 544.50,184.37 544.75,183.78 545.00,183.80 545.25,184.98 545.50,185.44 545.75,185.01" stroke="#4a3ce0" stroke-width="0.5"/>
<path d="M37.00,178.38 L37.25,178.15 L37.50,177.38 L37.75,176.87 L38.00,177.12 L38.25,177.49 L38.50,177.50 L38.75,177.48 L39.00,177.54 L39.25,177.35 L39.50,177.39 L39.75,178.13 L40.00,178.76 L40.25,178.78 L40.50,178.22 L40.75,177.70 L41.00,177.38 L41.25,177.49 L41.50,177.91 L41.75,177.59 L42.00,177.36 L42.25,178.10 L42.50,178.75 L42.75,178.36 L43.00,177.69 L43.25,177.86 L43.50,178.32 L43.75,178.18 L44.00,177.91 L44.25,178.23 L44.50,179.00 L44.75,179.06 L45.00,178.17 L45.25,177.76 L45.50,177.52 L45.75,177.16 L46.00,177.44 L46.25,178.15 L46.50,178.76 L46.75,178.41 L47.00,178.04 L47.25,178.48 L47.50,178.27 L47.75,177.77 L48.00,177.97 L48.25,178.17 L48.50,178.26 L48.75,178.13 L49.00,177.81 L49.25,178.42 L49.50,179.32 L49.75,179.58 L50.00,179.66 L50.25,179.82 L50.50,179.46 L50.75,178.91 L51.00,178.65 L51.25,178.22 L51.50,177.93 L51.75,178.25 L52.00,179.23 L52.25,179.62 L52.50,179.43 L52.75,179.40 L53.00,178.93 L53.25,178.71 L53.50,178.55 L53.75,178.25 L54.00,178.76 L54.25,178.86 L54.50,178.07 M58.50,175.53 L58.75,174.96 L59.00,175.38 L59.25,175.85 L59.50,175.76 L59.75,175.72 L60.00,175.80 L60.25,175.52 M66.50,177.58 L66.75,177.85 L67.00,177.77 L67.25,177.84 L67.50,178.71 L67.75,179.29 L68.00,179.42 L68.25,179.48 L68.50,179.32 L68.75,179.35 L69.00,180.10 L69.25,180.93 L69.50,180.73 L69.75,180.27 L70.00,180.30 L70.25,180.15 L70.50,180.26 L70.75,180.53 L71.00,180.02 L71.25,179.43 L71.50,179.67 L71.75,180.17 L72.00,180.50 L72.25,180.40 M75.75,180.12 L76.00,180.66 L76.25,180.89 L76.50,180.69 L76.75,180.70 L77.00,180.61 L77.25,180.98 L77.50,181.86 L77.75,181.32 L78.00,180.82 L78.25,181.23 L78.50,181.14 L78.75,181.34 L79.00,181.55 L79.25,181.11 L79.50,180.89 L79.75,180.99 L80.00,180.85 L80.25,180.43 L80.50,180.51 L80.75,181.27 L81.00,181.88 L81.25,182.18 L81.50,182.33 L81.75,181.89 L82.00,181.28 L82.25,180.80 L82.50,180.31 L82.75,180.32 L83.00,180.74 L83.25,181.26 L83.50,181.34 L83.75,180.76 L84.00,179.88 M86.00,180.69 L86.25,180.75 L86.50,181.03 L86.75,181.33 L87.00,181.53 L87.25,181.80 L87.50,182.18 L87.75,182.46 L88.00,182.27 L88.25,181.84 L88.50,181.65 L88.75,181.42 L89.00,181.70 L89.25,182.19 L89.50,182.25 L89.75,182.30 L90.00,181.98 L90.25,181.93 L90.50,182.18 L90.75,182.01 L91.00,181.82 L91.25,181.61 L91.50,181.46 L91.75,181.44 L92.00,181.78 L92.25,182.24 L92.50,182.36 L92.75,181.88 L93.00,181.05 L93.25,181.36 L93.50,181.95 L93.75,182.00 L94.00,182.30 L94.25,182.22 L94.50,181.91 L94.75,182.50 L95.00,183.08 L95.25,182.55 L95.50,181.91 L95.75,181.75 L96.00,181.55 L96.25,181.32 L96.50,182.00 L96.75,183.01 L97.00,182.90 L97.25,182.55 L97.50,182.81 L97.75,182.96 L98.00,182.89 L98.25,183.02 L98.50,182.73 L98.75,182.48 L99.00,182.09 L99.25,181.12 L99.50,181.17 L99.75,181.59 L100.00,181.40 L100.25,181.29 L100.50,181.10 L100.75,181.28 M102.75,181.21 L103.00,181.58 L103.25,181.60 L103.50,181.43 L103.75,181.68 L104.00,181.80 L104.25,182.07 L104.50,181.77 M106.25,181.18 L106.50,181.59 L106.75,181.87 L107.00,182.83 L107.25,183.10 L107.50,182.27 L107.75,181.93 L108.00,182.30 L108.25,182.90 L108.50,182.74 L108.75,181.75 L109.00,181.29 L109.25,181.22 L109.50,181.02 L109.75,181.20 L110.00,181.60 L110.25,181.93 L110.50,182.57 L110.75,182.48 L111.00,181.59 L111.25,181.29 L111.50,181.87 L111.75,182.31 L112.00,181.68 L112.25,181.27 L112.50,181.80 L112.75,182.06 L113.00,182.19 L113.25,182.62 L113.50,182.57 L113.75,182.12 L114.00,181.80 L114.25,181.84 L114.50,181.54 L114.75,181.18 L115.00,181.37 L115.25,181.40 L115.50,181.40 L115.75,181.88 L116.00,182.65 L116.25,182.78 L116.50,182.67 L116.75,182.35 L117.00,181.27 L117.25,180.83 L117.50,181.66 L117.75,182.38 L118.00,182.44 L118.25,182.59 L118.50,182.30 L118.75,181.71 L119.00,182.27 L119.25,182.79 L119.50,181.82 L119.75,181.08 L120.00,181.45 L120.25,181.89 L120.50,181.93 L120.75,181.76 L121.00,181.42 L121.25,181.29 L121.50,182.18 L121.75,183.00 L122.00,182.43 L122.25,181.56 L122.50,181.00 L122.75,180.59 L123.00,181.01 L123.25,181.04 M125.75,181.24 L126.00,181.87 L126.25,182.10 L126.50,181.69 L126.75,181.64 L127.00,181.92 L127.25,182.01 L127.50,182.02 L127.75,182.16 L128.00,182.41 L128.25,182.42 L128.50,182.42 L128.75,182.57 L129.00,182.37 L129.25,181.91 L129.50,181.91 L129.75,182.04 L130.00,182.31 L130.25,182.35 L130.50,181.56 L130.75,181.08 L131.00,181.40 L131.25,181.52 L131.50,181.27 L131.75,181.32 L132.00,181.13 L132.25,180.98 L132.50,181.33 L132.75,181.36 M135.25,181.05 L135.50,181.14 L135.75,181.69 L136.00,182.40 L136.25,182.40 L136.50,181.92 L136.75,182.10 L137.00,182.80 L137.25,183.04 L137.50,182.47 L137.75,181.82 L138.00,181.69 L138.25,181.74 L138.50,182.00 L138.75,182.59 L139.00,182.92 L139.25,182.93 L139.50,182.73 L139.75,182.33 L140.00,182.19 L140.25,182.12 L140.50,182.35 L140.75,182.64 L141.00,181.99 L141.25,181.31 L141.50,181.47 L141.75,181.43 L142.00,181.14 L142.25,181.59 L142.50,182.55 L142.75,182.73 L143.00,182.28 L143.25,182.44 L143.50,182.31 L143.75,181.59 L144.00,181.51 L144.25,181.70 L144.50,181.26 L144.75,180.42 M146.25,181.76 L146.50,181.70 L146.75,181.19 L147.00,181.45 L147.25,181.60 L147.50,181.60 L147.75,181.77 L148.00,181.97 L148.25,181.72 L148.50,181.54 L148.75,181.76 L149.00,181.57 L149.25,181.46 L149.50,181.64 L149.75,181.22 L150.00,180.78 L150.25,180.54 L150.50,180.32 L150.75,180.94 L151.00,181.48 L151.25,180.98 L151.50,180.51 L151.75,180.29 L152.00,180.64 L152.25,181.40 L152.50,181.21 L152.75,180.54 L153.00,180.26 L153.25,179.98 L153.50,179.73 L153.75,179.61 L154.00,179.76 L154.25,180.22 L154.50,180.45 L154.75,180.23 L155.00,179.59 L155.25,179.10 L155.50,179.04 L155.75,179.08 L156.00,179.11 M158.25,178.36 L158.50,178.18 L158.75,178.28 L159.00,177.59 M162.25,176.28 L162.50,176.14 L162.75,175.84 L163.00,175.74 L163.25,175.48 L163.50,175.65 L163.75,176.04 L164.00,176.07 L164.25,176.07 L164.50,175.57 L164.75,174.48 L165.00,173.86 L165.25,174.12 M170.75,172.76 L171.00,173.00 L171.25,173.31 L171.50,173.43 L171.75,173.54 L172.00,173.60 L172.25,172.98 L172.50,172.10 L172.75,171.55 M175.00,172.39 L175.25,171.83 L175.50,172.01 L175.75,172.48 M183.75,172.12 L184.00,172.56 M186.75,173.58 L187.00,173.87 L187.25,174.54 L187.50,174.94 L187.75,174.92 L188.00,175.17 L188.25,175.92 L188.50,176.40 L188.75,176.43 L189.00,176.73 L189.25,177.23 L189.50,177.31 L189.75,176.89 L190.00,176.54 L190.25,176.60 L190.50,176.96 L190.75,177.46 L191.00,177.56 L191.25,177.30 L191.50,177.12 L191.75,177.32 L192.00,177.74 L192.25,177.75 L192.50,177.56 L192.75,177.42 L193.00,177.35 L193.25,177.80 L193.50,178.45 L193.75,178.31 L194.00,177.70 L194.25,177.38 L194.50,177.61 L194.75,178.38 L195.00,178.44 L195.25,177.53 L195.50,177.26 L195.75,177.56 L196.00,177.31 L196.25,177.12 L196.50,177.71 L196.75,177.85 L197.00,177.39 L197.25,177.75 L197.50,178.37 L197.75,178.20 L198.00,178.14 L198.25,178.54 L198.50,178.05 L198.75,177.44 L199.00,177.38 L199.25,177.22 L199.50,177.09 L199.75,176.95 L200.00,176.96 L200.25,177.06 L200.50,177.29 L200.75,177.30 L201.00,176.91 L201.25,176.77 L201.50,176.39 L201.75,175.74 L202.00,175.90 L202.25,176.19 L202.50,176.08 L202.75,176.50 M207.75,173.38 L208.00,174.24 L208.25,175.33 L208.50,175.20 L208.75,174.85 L209.00,175.18 L209.25,175.52 L209.50,175.05 M210.75,175.94 L211.00,176.55 L211.25,176.76 L211.50,176.94 L211.75,177.23 L212.00,177.61 L212.25,177.49 L212.50,177.20 L212.75,177.33 L213.00,177.59 L213.25,177.79 L213.50,177.90 L213.75,177.63 L214.00,177.35 L214.25,177.97 L214.50,178.23 L214.75,177.99 L215.00,178.43 L215.25,178.43 L215.50,177.69 L215.75,177.56 L216.00,178.02 L216.25,177.89 L216.50,177.90 L216.75,178.12 L217.00,177.73 L217.25,177.41 L217.50,177.57 L217.75,178.10 L218.00,178.56 L218.25,178.64 L218.50,178.45 L218.75,178.25 L219.00,178.13 L219.25,178.43 L219.50,178.97 L219.75,178.35 L220.00,177.30 L220.25,177.75 L220.50,178.38 L220.75,177.90 L221.00,177.82 L221.25,178.02 L221.50,177.98 L221.75,178.63 L222.00,178.76 L222.25,178.22 L222.50,178.01 L222.75,177.47 L223.00,177.09 L223.25,177.16 M225.25,177.14 L225.50,176.79 L225.75,177.07 L226.00,177.06 L226.25,176.42 L226.50,176.57 L226.75,177.26 L227.00,177.42 L227.25,177.24 L227.50,177.15 L227.75,177.00 L228.00,176.75 L228.25,176.37 L228.50,176.04 L228.75,176.00 L229.00,176.48 L229.25,176.97 L229.50,176.45 L229.75,175.62 M232.75,175.65 L233.00,175.44 L233.25,175.63 L233.50,176.28 L233.75,176.09 L234.00,176.02 L234.25,176.27 L234.50,176.23 L234.75,176.67 L235.00,176.66 M237.00,177.28 L237.25,177.28 L237.50,177.54 L237.75,177.52 L238.00,177.38 L238.25,177.84 L238.50,178.64 L238.75,178.12 L239.00,176.78 L239.25,176.95 L239.50,178.02 L239.75,178.29 L240.00,178.41 L240.25,178.39 L240.50,178.17 L240.75,178.61 L241.00,178.88 L241.25,178.79 L241.50,178.89 L241.75,178.86 L242.00,178.49 L242.25,178.42 L242.50,178.78 L242.75,178.51 L243.00,178.34 L243.25,179.06 L243.50,179.56 L243.75,179.34 L244.00,178.88 L244.25,178.56 L244.50,178.18 L244.75,177.98 L245.00,178.28 L245.25,178.34 L245.50,178.49 L245.75,178.60 L246.00,177.84 L246.25,177.46 L246.50,178.03 L246.75,178.48 L247.00,178.19 L247.25,177.69 L247.50,177.42 L247.75,177.18 L248.00,177.39 L248.25,178.06 L248.50,178.36 L248.75,178.02 L249.00,177.99 L249.25,178.14 L249.50,177.06 L249.75,176.18 L250.00,176.65 L250.25,177.18 L250.50,177.04 L250.75,176.64 L251.00,177.00 L251.25,177.08 L251.50,176.10 L251.75,175.19 M259.50,176.62 L259.75,176.16 L260.00,176.11 L260.25,176.48 L260.50,176.73 L260.75,176.67 L261.00,175.96 L261.25,175.65 L261.50,176.50 L261.75,177.11 M266.00,178.69 L266.25,178.00 L266.50,178.35 L266.75,179.09 L267.00,179.06 L267.25,178.80 L267.50,178.54 L267.75,179.05 L268.00,179.81 L268.25,179.82 L268.50,179.51 L268.75,179.17 L269.00,179.41 L269.25,180.09 L269.50,180.16 L269.75,179.90 L270.00,179.72 L270.25,179.71 L270.50,180.26 L270.75,180.27 L271.00,179.55 L271.25,179.45 M274.00,179.74 L274.25,179.51 L274.50,179.05 L274.75,179.23 L275.00,179.99 L275.25,180.45 L275.50,180.32 L275.75,180.16 L276.00,180.42 L276.25,180.67 L276.50,179.93 M278.00,179.67 L278.25,179.96 L278.50,179.95 L278.75,180.45 L279.00,180.27 L279.25,179.84 L279.50,179.78 L279.75,179.38 M281.25,179.87 L281.50,180.25 L281.75,180.88 L282.00,181.03 L282.25,180.46 L282.50,180.15 M283.75,180.14 L284.00,181.06 L284.25,181.13 L284.50,180.94 L284.75,180.76 L285.00,180.53 L285.25,180.40 L285.50,180.62 L285.75,181.09 L286.00,181.34 L286.25,181.04 L286.50,180.77 L286.75,180.64 L287.00,180.14 L287.25,179.61 M288.25,180.61 L288.50,180.98 L288.75,180.89 L289.00,180.95 L289.25,181.16 L289.50,181.33 L289.75,181.48 L290.00,181.82 L290.25,181.91 L290.50,181.19 L290.75,180.83 L291.00,181.74 L291.25,181.97 L291.50,180.91 L291.75,179.75 L292.00,179.13 M292.75,179.63 L293.00,180.32 L293.25,181.06 L293.50,180.75 L293.75,180.62 L294.00,180.82 L294.25,180.77 L294.50,180.76 L294.75,180.83 L295.00,180.75 L295.25,180.99 L295.50,181.23 L295.75,181.07 L296.00,180.87 L296.25,180.93 L296.50,180.96 L296.75,180.84 L297.00,180.47 L297.25,179.70 L297.50,179.55 L297.75,180.15 L298.00,180.82 L298.25,180.61 L298.50,179.85 L298.75,180.06 L299.00,180.51 L299.25,180.26 L299.50,179.60 L299.75,178.67 L300.00,178.43 L300.25,179.36 L300.50,179.66 L300.75,178.86 L301.00,178.21 L301.25,178.07 L301.50,178.14 L301.75,177.78 L302.00,177.08 L302.25,176.76 L302.50,177.20 L302.75,178.04 L303.00,178.24 L303.25,178.04 L303.50,178.31 L303.75,178.44 L304.00,178.30 L304.25,178.14 L304.50,178.06 L304.75,178.92 L305.00,179.83 L305.25,179.65 L305.50,179.91 L305.75,180.23 L306.00,179.93 L306.25,180.26 L306.50,180.66 L306.75,180.99 L307.00,181.29 L307.25,181.08 L307.50,181.10 L307.75,181.49 L308.00,181.41 L308.25,180.98 L308.50,180.71 L308.75,180.90 L309.00,181.24 L309.25,181.05 L309.50,181.43 L309.75,182.15 L310.00,181.87 L310.25,181.16 L310.50,180.79 L310.75,181.05 L311.00,181.57 L311.25,181.58 L311.50,181.85 L311.75,182.13 L312.00,181.34 L312.25,180.79 L312.50,181.01 L312.75,181.25 L313.00,181.24 L313.25,181.11 L313.50,181.05 M315.25,179.88 L315.50,180.39 L315.75,180.87 L316.00,181.07 L316.25,181.04 L316.50,180.84 L316.75,180.69 L317.00,180.63 L317.25,180.87 L317.50,181.11 L317.75,180.72 L318.00,180.30 L318.25,180.47 L318.50,180.72 M320.75,180.72 L321.00,181.30 L321.25,181.10 L321.50,180.76 L321.75,180.99 L322.00,181.69 L322.25,182.40 L322.50,182.87 L322.75,181.99 L323.00,180.86 L323.25,180.98 L323.50,181.50 L323.75,181.77 L324.00,181.72 L324.25,181.56 L324.50,181.55 L324.75,181.94 L325.00,182.06 L325.25,181.12 L325.50,180.35 L325.75,180.99 L326.00,181.97 L326.25,181.85 L326.50,181.25 L326.75,181.29 L327.00,181.81 L327.25,181.84 L327.50,181.44 L327.75,181.27 L328.00,181.31 L328.25,181.51 L328.50,181.98 L328.75,181.80 L329.00,180.75 L329.25,180.58 L329.50,181.26 L329.75,181.28 L330.00,180.85 L330.25,180.95 L330.50,181.22 L330.75,181.24 L331.00,181.31 L331.25,181.65 L331.50,182.09 L331.75,182.20 L332.00,182.05 L332.25,181.70 L332.50,181.29 L332.75,181.42 L333.00,181.83 L333.25,181.97 L333.50,182.03 L333.75,181.91 L334.00,181.80 L334.25,181.52 L334.50,181.08 L334.75,181.15 L335.00,181.54 L335.25,181.72 L335.50,181.57 L335.75,181.49 L336.00,181.57 L336.25,181.82 L336.50,181.86 L336.75,181.45 L337.00,181.00 M338.25,180.09 L338.50,181.16 L338.75,181.52 L339.00,181.65 L339.25,181.94 L339.50,181.81 L339.75,181.89 L340.00,181.64 L340.25,181.08 L340.50,181.03 L340.75,181.05 L341.00,181.49 L341.25,182.34 L341.50,182.76 L341.75,182.11 L342.00,181.21 L342.25,181.59 L342.50,182.31 L342.75,182.47 L343.00,182.34 L343.25,181.70 L343.50,181.11 L343.75,181.03 L344.00,181.58 L344.25,182.00 L344.50,181.81 L344.75,182.00 L345.00,182.28 L345.25,182.12 L345.50,181.83 L345.75,182.16 L346.00,182.39 L346.25,181.86 L346.50,182.14 L346.75,182.64 L347.00,182.60 L347.25,181.95 L347.50,180.87 L347.75,180.84 L348.00,181.17 L348.25,181.36 L348.50,181.76 L348.75,181.79 L349.00,181.71 L349.25,181.65 L349.50,181.52 L349.75,181.80 L350.00,181.51 L350.25,180.65 L350.50,180.32 L350.75,180.45 L351.00,180.96 L351.25,181.72 L351.50,182.08 L351.75,181.11 M353.00,181.40 L353.25,182.09 L353.50,181.56 L353.75,181.88 L354.00,182.47 L354.25,181.82 L354.50,181.72 L354.75,181.88 L355.00,180.94 L355.25,180.44 L355.50,181.05 L355.75,181.88 L356.00,182.18 L356.25,182.36 L356.50,182.63 L356.75,182.18 L357.00,181.72 L357.25,181.95 L357.50,182.27 L357.75,182.01 L358.00,182.02 L358.25,182.70 L358.50,182.90 L358.75,182.24 L359.00,181.30 L359.25,181.06 L359.50,181.36 L359.75,181.27 L360.00,180.77 M361.00,180.87 L361.25,181.33 L361.50,181.43 L361.75,181.78 L362.00,182.17 L362.25,182.00 L362.50,181.72 L362.75,181.93 L363.00,182.14 L363.25,182.09 L363.50,182.13 L363.75,182.39 L364.00,182.10 L364.25,181.34 L364.50,180.95 L364.75,181.24 L365.00,181.73 L365.25,181.73 L365.50,181.70 L365.75,182.15 L366.00,182.92 L366.25,183.11 L366.50,182.80 L366.75,182.89 L367.00,182.86 L367.25,182.53 L367.50,181.87 L367.75,181.52 L368.00,182.17 L368.25,182.25 L368.50,181.55 L368.75,181.61 L369.00,182.07 L369.25,181.91 L369.50,181.38 L369.75,181.51 L370.00,182.34 L370.25,182.60 L370.50,182.20 L370.75,181.98 L371.00,181.82 L371.25,181.52 L371.50,181.19 L371.75,180.93 L372.00,180.86 L372.25,181.17 L372.50,181.42 L372.75,181.23 L373.00,180.86 L373.25,180.58 L373.50,179.93 L373.75,178.82 L374.00,178.71 L374.25,178.75 M376.75,180.27 L377.00,180.66 L377.25,180.84 L377.50,180.71 L377.75,180.58 L378.00,180.69 L378.25,181.01 L378.50,181.59 L378.75,181.89 L379.00,181.51 L379.25,181.46 L379.50,181.93 L379.75,182.10 L380.00,181.81 L380.25,181.52 L380.50,181.54 L380.75,181.81 L381.00,181.85 L381.25,181.61 L381.50,181.79 L381.75,182.13 L382.00,181.89 L382.25,181.74 L382.50,182.10 L382.75,182.28 L383.00,182.19 L383.25,181.90 L383.50,181.52 L383.75,181.48 L384.00,181.51 L384.25,180.97 L384.50,180.41 L384.75,180.68 L385.00,181.04 L385.25,180.73 M387.25,180.50 L387.50,181.18 L387.75,181.69 L388.00,181.01 L388.25,180.84 L388.50,181.62 L388.75,181.68 L389.00,181.82 L389.25,182.48 L389.50,182.55 L389.75,182.66 L390.00,182.73 L390.25,182.04 L390.50,181.74 L390.75,182.13 L391.00,182.32 L391.25,182.38 L391.50,182.14 L391.75,181.74 L392.00,181.72 L392.25,181.71 L392.50,181.66 L392.75,181.78 L393.00,181.88 L393.25,181.53 L393.50,181.21 L393.75,181.18 L394.00,181.37 L394.25,181.73 L394.50,181.31 L394.75,181.17 L395.00,181.46 L395.25,180.80 L395.50,179.90 L395.75,179.82 L396.00,180.32 L396.25,180.55 M398.75,180.85 L399.00,180.97 L399.25,181.41 L399.50,181.14 L399.75,180.46 L400.00,180.87 L400.25,181.21 L400.50,181.19 L400.75,181.57 L401.00,181.92 L401.25,181.92 L401.50,181.97 L401.75,181.86 L402.00,181.19 L402.25,181.00 L402.50,181.43 L402.75,181.82 L403.00,182.08 L403.25,182.12 L403.50,182.23 L403.75,182.70 L404.00,182.64 L404.25,181.78 L404.50,181.12 L404.75,180.97 L405.00,181.38 L405.25,182.09 M407.25,181.44 L407.50,182.12 L407.75,182.08 L408.00,182.09 L408.25,182.39 L408.50,182.29 L408.75,181.84 L409.00,181.81 L409.25,181.82 L409.50,181.49 L409.75,181.89 L410.00,182.41 L410.25,182.30 L410.50,182.09 L410.75,182.23 L411.00,182.18 L411.25,181.73 L411.50,181.81 L411.75,181.76 L412.00,181.12 L412.25,181.19 L412.50,181.54 M414.25,180.78 L414.50,182.22 L414.75,182.30 L415.00,181.35 L415.25,180.96 L415.50,181.25 L415.75,181.31 L416.00,181.13 L416.25,181.16 L416.50,181.64 L416.75,181.91 L417.00,181.48 L417.25,180.69 L417.50,180.19 L417.75,180.55 L418.00,180.83 L418.25,180.70 L418.50,181.34 L418.75,181.58 L419.00,180.33 M420.75,180.95 L421.00,181.55 L421.25,181.42 L421.50,181.07 L421.75,181.61 L422.00,181.90 L422.25,181.60 L422.50,181.77 L422.75,182.01 L423.00,181.77 L423.25,181.55 L423.50,181.49 L423.75,181.11 L424.00,180.78 L424.25,180.88 L424.50,181.22 L424.75,181.77 L425.00,182.10 L425.25,182.24 L425.50,182.28 L425.75,181.71 L426.00,180.92 M428.00,181.86 L428.25,182.07 L428.50,182.19 L428.75,182.26 L429.00,182.02 L429.25,181.76 L429.50,182.32 L429.75,182.49 L430.00,182.13 L430.25,182.28 L430.50,182.43 L430.75,182.71 L431.00,182.91 L431.25,182.95 L431.50,182.67 L431.75,182.55 L432.00,183.29 L432.25,183.27 L432.50,182.65 L432.75,182.83 L433.00,182.90 L433.25,182.36 L433.50,182.47 L433.75,183.00 L434.00,183.07 L434.25,183.46 L434.50,183.85 L434.75,183.22 L435.00,182.77 L435.25,182.78 L435.50,182.31 L435.75,182.80 L436.00,183.69 L436.25,183.21 L436.50,182.65 L436.75,182.51 L437.00,182.67 L437.25,182.42 L437.50,181.75 L437.75,182.25 L438.00,183.22 L438.25,183.46 L438.50,183.04 L438.75,182.69 L439.00,182.80 L439.25,182.66 L439.50,182.53 L439.75,183.24 L440.00,183.67 L440.25,183.25 L440.50,183.23 L440.75,182.96 L441.00,182.23 L441.25,182.26 L441.50,182.62 L441.75,182.79 L442.00,182.78 L442.25,182.42 L442.50,182.57 L442.75,183.17 L443.00,183.00 L443.25,182.64 L443.50,183.18 L443.75,183.61 L444.00,182.83 L444.25,182.47 L444.50,183.46 L444.75,184.22 L445.00,183.63 L445.25,182.31 L445.50,182.16 L445.75,183.06 L446.00,183.28 L446.25,183.12 L446.50,183.36 L446.75,183.64 L447.00,183.29 L447.25,182.89 L447.50,182.72 L447.75,182.53 L448.00,182.74 L448.25,182.47 L448.50,181.74 L448.75,181.56 L449.00,181.23 M450.50,181.87 L450.75,182.60 L451.00,182.45 L451.25,181.95 L451.50,182.31 L451.75,183.33 L452.00,183.16 L452.25,182.58 L452.50,182.83 L452.75,183.35 L453.00,183.17 L453.25,182.92 L453.50,183.04 L453.75,183.35 L454.00,183.27 L454.25,182.75 L454.50,182.84 L454.75,182.87 L455.00,182.67 L455.25,182.84 L455.50,182.88 L455.75,182.56 L456.00,182.73 L456.25,183.10 L456.50,182.89 L456.75,182.87 L457.00,183.18 L457.25,183.15 L457.50,183.00 L457.75,182.89 L458.00,182.94 L458.25,183.05 L458.50,182.52 L458.75,182.32 L459.00,182.68 L459.25,182.45 L459.50,182.37 L459.75,182.88 L460.00,183.06 L460.25,182.48 M461.75,183.16 L462.00,183.02 L462.25,182.65 L462.50,182.47 L462.75,182.36 L463.00,182.24 L463.25,182.32 L463.50,182.75 L463.75,183.25 L464.00,183.32 L464.25,183.14 L464.50,182.94 L464.75,183.12 L465.00,184.22 L465.25,184.54 L465.50,183.72 L465.75,183.37 L466.00,183.47 L466.25,183.38 L466.50,182.78 L466.75,182.61 L467.00,182.99 L467.25,182.98 L467.50,182.93 L467.75,182.74 L468.00,182.90 L468.25,183.76 L468.50,184.01 L468.75,183.38 L469.00,183.06 L469.25,183.13 L469.50,182.70 L469.75,182.41 L470.00,182.41 L470.25,182.40 L470.50,182.84 L470.75,183.14 L471.00,182.90 L471.25,182.52 L471.50,182.74 L471.75,183.57 L472.00,184.05 L472.25,183.91 L472.50,183.33 L472.75,182.98 L473.00,183.27 L473.25,183.34 L473.50,183.40 L473.75,183.54 L474.00,183.55 L474.25,183.66 L474.50,183.20 L474.75,182.83 L475.00,182.81 L475.25,182.61 L475.50,182.82 L475.75,182.85 L476.00,182.43 L476.25,182.31 L476.50,182.45 L476.75,183.04 L477.00,183.54 L477.25,183.28 L477.50,183.15 L477.75,183.10 L478.00,182.92 L478.25,183.04 L478.50,182.98 L478.75,182.57 L479.00,182.34 L479.25,182.89 L479.50,183.81 L479.75,183.91 L480.00,183.42 L480.25,183.17 L480.50,182.91 L480.75,182.40 L481.00,182.69 L481.25,183.42 L481.50,183.28 L481.75,183.49 L482.00,183.88 L482.25,183.42 L482.50,183.21 L482.75,183.31 L483.00,183.27 L483.25,183.27 L483.50,183.45 L483.75,183.78 L484.00,183.48 L484.25,182.64 L484.50,182.35 L484.75,182.50 L485.00,182.36 L485.25,182.17 M486.00,182.09 L486.25,182.29 L486.50,183.09 L486.75,183.89 L487.00,183.80 L487.25,183.14 L487.50,183.02 L487.75,183.28 L488.00,182.98 L488.25,182.91 L488.50,183.40 L488.75,183.53 L489.00,183.26 L489.25,183.23 L489.50,183.50 L489.75,183.31 L490.00,183.21 L490.25,183.80 L490.50,183.83 L490.75,183.46 L491.00,183.95 L491.25,184.32 L491.50,183.57 L491.75,183.03 L492.00,183.59 L492.25,183.77 L492.50,183.57 L492.75,183.86 L493.00,183.67 L493.25,183.57 L493.50,183.90 L493.75,184.00 L494.00,183.98 L494.25,183.77 L494.50,183.61 L494.75,183.58 L495.00,183.67 L495.25,183.83 L495.50,183.70 L495.75,183.61 L496.00,183.74 L496.25,183.84 L496.50,184.02 L496.75,183.90 L497.00,183.36 L497.25,183.10 L497.50,183.50 L497.75,183.81 L498.00,183.40 M499.00,181.50 L499.25,182.70 L499.50,183.33 L499.75,183.52 L500.00,183.52 L500.25,183.54 L500.50,183.65 L500.75,183.28 L501.00,183.05 L501.25,183.01 L501.50,183.38 L501.75,183.61 L502.00,183.18 L502.25,183.31 L502.50,183.63 L502.75,183.66 L503.00,183.82 L503.25,184.00 L503.50,183.96 L503.75,183.96 L504.00,184.10 L504.25,183.95 L504.50,183.37 L504.75,183.18 L505.00,183.53 L505.25,183.88 L505.50,184.00 L505.75,183.37 L506.00,183.12 L506.25,183.51 L506.50,182.98 L506.75,182.59 L507.00,182.33 M508.25,181.96 L508.50,182.75 L508.75,183.27 L509.00,183.57 L509.25,184.09 L509.50,184.26 L509.75,183.79 L510.00,183.94 L510.25,184.60 L510.50,184.50 L510.75,183.78 L511.00,182.90 L511.25,182.67 L511.50,183.11 L511.75,183.57 L512.00,184.36 L512.25,184.60 L512.50,183.63 L512.75,183.37 L513.00,183.89 L513.25,184.12 L513.50,184.10 L513.75,183.58 L514.00,183.63 L514.25,184.35 L514.50,183.92 L514.75,182.99 L515.00,182.73 M516.50,183.40 L516.75,183.52 L517.00,182.82 L517.25,182.44 L517.50,182.97 L517.75,184.06 L518.00,184.22 L518.25,183.15 L518.50,182.70 L518.75,183.34 L519.00,183.92 L519.25,183.96 L519.50,183.68 L519.75,183.31 L520.00,182.82 L520.25,182.81 L520.50,183.24 L520.75,183.62 L521.00,184.17 L521.25,184.12 L521.50,183.82 L521.75,184.05 L522.00,183.77 L522.25,183.72 L522.50,183.70 L522.75,182.79 L523.00,182.58 L523.25,183.19 L523.50,183.85 L523.75,184.35 L524.00,183.91 L524.25,182.92 M525.25,183.35 L525.50,183.55 L525.75,183.60 L526.00,183.47 L526.25,183.31 L526.50,183.23 L526.75,183.36 L527.00,183.37 L527.25,183.42 L527.50,183.99 L527.75,184.33 L528.00,184.22 L528.25,184.25 L528.50,184.56 L528.75,184.81 L529.00,184.71 L529.25,184.75 L529.50,184.77 L529.75,184.35 L530.00,183.99 L530.25,184.18 L530.50,184.69 L530.75,184.42 L531.00,184.31 L531.25,184.57 L531.50,184.06 L531.75,183.28 L532.00,183.07 L532.25,183.97 L532.50,184.84 L532.75,184.87 L533.00,184.94 L533.25,184.64 L533.50,183.76 L533.75,183.37 L534.00,183.83 L534.25,184.23 L534.50,184.14 L534.75,184.22 L535.00,184.27 L535.25,183.76 L535.50,183.36 L535.75,183.78 L536.00,184.09 L536.25,183.66 L536.50,183.30 L536.75,183.44 L537.00,183.78 L537.25,183.99 L537.50,183.80 L537.75,183.59 L538.00,183.74 L538.25,183.68 L538.50,183.24 L538.75,182.97 L539.00,183.18 L539.25,183.69 L539.50,184.15 L539.75,184.33 L540.00,184.28 L540.25,184.01 L540.50,183.90 L540.75,184.41 L541.00,184.78 L541.25,184.50 L541.50,184.09 L541.75,183.94 L542.00,183.71 L542.25,183.49 L542.50,183.48 L542.75,183.15 L543.00,183.29 L543.25,184.18 L543.50,184.70 L543.75,184.57 L544.00,184.21 L544.25,184.25 L544.50,184.37 L544.75,183.78 L545.00,183.80 L545.25,184.98 L545.50,185.44 L545.75,185.01" stroke="#2a1ad8" stroke-width="1.7"/>
<path d="M54.75,177.73 L55.00,177.15 L55.25,176.02 L55.50,173.01 L55.75,165.15 L56.00,149.85 L56.25,132.22 L56.40,127.87 L56.50,129.81 L56.75,145.83 L57.00,162.21 L57.25,171.27 L57.50,174.76 L57.75,175.92 L58.00,176.37 L58.25,176.57 M60.50,175.51 L60.75,175.00 L61.00,173.87 L61.25,170.88 L61.50,164.22 L61.75,154.41 L62.00,148.59 L62.25,154.28 L62.50,163.95 L62.75,170.42 L63.00,173.14 L63.25,173.84 L63.50,173.62 L63.75,172.37 L64.00,166.59 L64.25,142.39 L64.50,98.72 L64.60,91.58 L64.75,106.75 L65.00,150.29 L65.25,169.83 L65.50,174.52 L65.75,176.07 L66.00,176.95 L66.25,177.55 M72.50,179.77 L72.75,179.24 L73.00,177.88 L73.25,174.05 L73.50,165.37 L73.75,152.50 L74.00,144.92 L74.25,152.54 L74.50,165.44 L74.75,174.16 L75.00,178.03 L75.25,179.43 L75.50,180.00 M84.25,179.32 L84.50,176.56 L84.75,172.46 L85.00,170.05 L85.25,172.48 L85.50,176.59 L85.75,179.37 M101.00,180.07 L101.25,177.85 L101.50,174.91 L101.70,173.74 L101.75,173.82 L102.00,176.05 L102.25,178.87 L102.50,180.59 M104.75,180.04 L105.00,177.94 L105.25,175.52 L105.40,174.93 L105.50,175.21 L105.75,177.45 L106.00,179.74 M123.50,180.48 L123.75,178.45 L124.00,173.86 L124.25,167.07 L124.50,163.06 L124.75,167.07 L125.00,173.87 L125.25,178.46 L125.50,180.49 M133.00,180.92 L133.25,179.56 L133.50,176.10 L133.75,169.88 L134.00,163.80 L134.10,163.06 L134.25,164.68 L134.50,171.29 L134.75,177.03 L135.00,179.97 M145.00,180.15 L145.25,178.77 L145.50,177.94 L145.75,178.72 L146.00,180.05 M156.25,177.73 L156.50,175.33 L156.75,171.84 L157.00,169.73 L157.25,171.61 L157.50,174.87 L157.75,177.02 L158.00,177.88 M159.25,177.18 L159.50,176.36 L159.75,174.21 L160.00,168.89 L160.25,159.41 L160.50,150.14 L160.60,148.97 L160.75,151.34 L161.00,161.18 L161.25,169.70 L161.50,174.00 L161.75,175.54 L162.00,176.02 M165.50,174.44 L165.75,174.10 L166.00,173.65 L166.25,173.07 L166.50,172.22 L166.75,170.75 L167.00,167.25 L167.25,157.65 L167.50,136.07 L167.75,104.18 L168.00,85.35 L168.25,104.02 L168.50,135.74 L168.75,157.16 L169.00,166.59 L169.25,169.93 L169.50,171.24 L169.75,171.92 L170.00,172.35 L170.25,172.63 L170.50,172.82 M173.00,171.85 L173.25,170.09 L173.50,167.21 L173.75,164.92 L173.80,164.83 L174.00,165.97 L174.25,168.85 L174.50,171.01 L174.75,171.99 M176.00,171.95 L176.25,171.70 L176.50,171.37 L176.75,170.91 L177.00,170.25 L177.25,169.17 L177.50,166.88 L177.75,160.65 L178.00,144.94 L178.25,116.78 L178.50,89.27 L178.60,85.87 L178.75,93.12 L179.00,122.87 L179.25,148.68 L179.50,161.85 L179.75,166.76 L180.00,168.51 L180.25,169.30 L180.50,169.74 L180.75,169.96 L181.00,169.94 L181.25,169.42 L181.50,167.63 L181.75,163.66 L182.00,158.37 L182.20,156.29 L182.25,156.46 L182.50,160.67 L182.75,165.97 L183.00,169.23 L183.25,170.63 L183.50,171.17 M184.25,171.55 L184.50,171.17 L184.75,169.71 L185.00,166.15 L185.25,160.78 L185.50,157.69 L185.75,161.19 L186.00,166.98 L186.25,170.96 L186.50,172.84 M203.00,174.76 L203.25,173.45 L203.50,170.64 L203.75,166.54 L204.00,164.05 L204.25,166.22 L204.50,169.98 L204.75,172.40 L205.00,173.17 L205.25,172.70 L205.50,170.44 L205.75,164.73 L206.00,155.30 L206.25,147.85 L206.30,147.59 L206.50,151.56 L206.75,161.45 L207.00,168.96 L207.25,172.56 L207.50,173.92 M209.75,174.72 L210.00,173.88 L210.20,173.60 L210.25,173.65 L210.50,174.52 M223.50,176.15 L223.75,173.96 L224.00,171.09 L224.20,169.92 L224.25,169.99 L224.50,172.08 L224.75,174.75 L225.00,176.35 M230.00,175.13 L230.25,173.94 L230.50,170.70 L230.75,163.88 L231.00,154.90 L231.20,151.32 L231.25,151.57 L231.50,158.43 L231.75,167.10 L232.00,172.41 L232.25,174.64 L232.50,175.46 M235.25,175.00 L235.50,172.59 L235.75,169.81 L235.90,169.16 L236.00,169.52 L236.25,172.24 L236.50,175.02 L236.75,176.60 M252.00,175.68 L252.25,175.27 L252.50,174.72 L252.75,173.89 L253.00,172.36 L253.25,168.48 L253.50,158.01 L253.75,136.01 L254.00,107.01 L254.20,95.39 L254.25,96.19 L254.50,118.14 L254.75,145.93 L255.00,162.85 L255.25,169.81 L255.50,172.18 L255.75,173.06 L256.00,173.40 L256.25,173.30 L256.50,172.32 L256.75,169.01 L257.00,161.20 L257.25,149.53 L257.50,142.68 L257.75,149.75 L258.00,161.66 L258.25,169.72 L258.50,173.34 L258.75,174.68 L259.00,175.27 L259.25,175.62 M262.00,176.46 L262.25,176.23 L262.50,175.78 L262.75,174.74 L263.00,171.73 L263.25,163.57 L263.50,147.52 L263.75,129.02 L263.90,124.53 L264.00,126.67 L264.25,143.88 L264.50,161.49 L264.75,171.33 L265.00,175.27 L265.25,176.74 L265.50,177.47 L265.75,177.93 M271.50,178.81 L271.75,177.25 L272.00,173.25 L272.25,166.07 L272.50,159.04 L272.60,158.18 L272.75,160.07 L273.00,167.74 L273.25,174.40 L273.50,177.82 L273.75,179.11 M276.75,178.64 L277.00,177.34 L277.20,176.83 L277.25,176.87 L277.50,177.88 L277.75,179.15 M280.00,179.06 L280.25,177.81 L280.50,177.07 L280.75,177.82 L281.00,179.09 M282.75,179.27 L283.00,178.29 L283.20,177.90 L283.25,177.93 L283.50,178.71 M287.50,179.21 L287.70,178.94 L287.75,178.97 L288.00,179.49 M292.25,179.48 L292.30,179.46 L292.50,179.69 M313.75,179.90 L314.00,178.28 L314.25,176.41 L314.40,175.95 L314.50,176.16 L314.75,177.88 L315.00,179.64 M318.75,179.58 L319.00,177.15 L319.25,172.77 L319.50,168.50 L319.60,167.97 L319.75,169.12 L320.00,173.78 L320.25,177.83 L320.50,179.90 M337.25,180.16 L337.50,179.04 L337.70,178.59 L337.75,178.62 L338.00,179.49 M352.00,179.95 L352.25,179.21 L352.30,179.19 L352.50,179.58 L352.75,180.55 M360.25,180.40 L360.50,179.98 L360.75,180.41 M374.50,178.40 L374.75,175.45 L375.00,169.70 L375.25,163.09 L375.40,161.49 L375.50,162.24 L375.75,168.36 L376.00,174.62 L376.25,178.14 L376.50,179.56 M385.50,179.82 L385.75,178.20 L386.00,175.59 L386.25,173.54 L386.30,173.47 L386.50,174.57 L386.75,177.32 L387.00,179.43 M396.50,179.61 L396.75,178.27 L397.00,174.88 L397.25,168.81 L397.50,162.90 L397.60,162.18 L397.75,163.78 L398.00,170.27 L398.25,175.93 L398.50,178.86 M405.50,181.08 L405.75,179.44 L406.00,176.76 L406.25,174.64 L406.30,174.56 L406.50,175.67 L406.75,178.45 L407.00,180.56 M412.75,179.44 L413.00,177.10 L413.25,175.23 L413.30,175.16 L413.50,176.10 L413.75,178.48 L414.00,180.27 M419.25,178.83 L419.50,176.48 L419.75,174.63 L419.80,174.57 L420.00,175.54 L420.25,177.97 L420.50,179.82 M426.25,180.56 L426.50,178.78 L426.75,176.13 L427.00,174.58 L427.25,176.20 L427.50,178.92 L427.75,180.77 M449.25,181.26 L449.50,179.63 L449.75,178.34 L449.80,178.29 L450.00,178.97 L450.25,180.67 M460.50,181.98 L460.75,180.98 L461.00,180.39 L461.25,180.98 L461.50,181.99 M485.50,181.95 L485.60,181.90 L485.75,182.02 M498.25,182.20 L498.50,181.57 L498.60,181.49 L498.75,181.66 M507.25,181.28 L507.50,180.13 L507.60,179.99 L507.75,180.30 L508.00,181.56 M515.25,182.35 L515.50,181.05 L515.75,180.03 L515.80,179.99 L516.00,180.53 L516.25,181.89 M524.50,182.27 L524.70,181.99 L524.75,182.01 L525.00,182.54" stroke="#9a5664" stroke-width="0.8"/>
</g>
<defs><linearGradient id="gg" x1="148" x2="545" y1="0" y2="0" gradientUnits="userSpaceOnUse">
<stop offset="0" stop-color="#e6f9ea"/><stop offset="0.13" stop-color="#d6f3dc"/><stop offset="0.38" stop-color="#c4e8c6"/><stop offset="0.6" stop-color="#b4e2b6"/><stop offset="0.62" stop-color="#78c278"/><stop offset="1" stop-color="#6cbd6c"/></linearGradient></defs>
<rect x="148" y="272" width="397" height="8.6" fill="url(#gg)"/>
<rect x="148" y="280.6" width="397" height="8.2" fill="#fdf4fd"/>
<g stroke="#4848dc" stroke-width="0.9"><line x1="62.5" y1="254" x2="62.5" y2="263.2"/><line x1="74.1" y1="254" x2="74.1" y2="263.2"/><line x1="96.8" y1="254" x2="96.8" y2="263.2"/><line x1="102.7" y1="254" x2="102.7" y2="263.2"/><line x1="123.6" y1="254" x2="123.6" y2="263.2"/><line x1="125.0" y1="254" x2="125.0" y2="263.2"/><line x1="128.5" y1="254" x2="128.5" y2="263.2"/><line x1="138.5" y1="254" x2="138.5" y2="263.2"/><line x1="152.4" y1="254" x2="152.4" y2="263.2"/><line x1="160.9" y1="254" x2="160.9" y2="263.2"/><line x1="167.4" y1="254" x2="167.4" y2="263.2"/><line x1="176.3" y1="254" x2="176.3" y2="263.2"/><line x1="177.6" y1="254" x2="177.6" y2="263.2"/><line x1="179.2" y1="254" x2="179.2" y2="263.2"/><line x1="180.5" y1="254" x2="180.5" y2="263.2"/><line x1="182.8" y1="254" x2="182.8" y2="263.2"/><line x1="184.8" y1="254" x2="184.8" y2="263.2"/><line x1="194.3" y1="254" x2="194.3" y2="263.2"/><line x1="198.5" y1="254" x2="198.5" y2="263.2"/><line x1="210.2" y1="254" x2="210.2" y2="263.2"/><line x1="213.0" y1="254" x2="213.0" y2="263.2"/><line x1="224.8" y1="254" x2="224.8" y2="263.2"/><line x1="229.3" y1="254" x2="229.3" y2="263.2"/><line x1="230.7" y1="254" x2="230.7" y2="263.2"/><line x1="232.0" y1="254" x2="232.0" y2="263.2"/><line x1="235.0" y1="254" x2="235.0" y2="263.2"/><line x1="236.3" y1="254" x2="236.3" y2="263.2"/><line x1="237.6" y1="254" x2="237.6" y2="263.2"/><line x1="250.2" y1="254" x2="250.2" y2="263.2"/><line x1="252.2" y1="254" x2="252.2" y2="263.2"/><line x1="253.5" y1="254" x2="253.5" y2="263.2"/><line x1="255.4" y1="254" x2="255.4" y2="263.2"/><line x1="257.4" y1="254" x2="257.4" y2="263.2"/><line x1="259.3" y1="254" x2="259.3" y2="263.2"/><line x1="260.0" y1="254" x2="260.0" y2="263.2"/><line x1="262.8" y1="254" x2="262.8" y2="263.2"/><line x1="268.0" y1="254" x2="268.0" y2="263.2"/><line x1="272.0" y1="254" x2="272.0" y2="263.2"/><line x1="277.2" y1="254" x2="277.2" y2="263.2"/><line x1="279.1" y1="254" x2="279.1" y2="263.2"/><line x1="283.4" y1="254" x2="283.4" y2="263.2"/><line x1="290.0" y1="254" x2="290.0" y2="263.2"/><line x1="295.7" y1="254" x2="295.7" y2="263.2"/><line x1="301.7" y1="254" x2="301.7" y2="263.2"/><line x1="305.2" y1="254" x2="305.2" y2="263.2"/><line x1="308.7" y1="254" x2="308.7" y2="263.2"/><line x1="312.4" y1="254" x2="312.4" y2="263.2"/><line x1="312.6" y1="254" x2="312.6" y2="263.2"/><line x1="315.2" y1="254" x2="315.2" y2="263.2"/><line x1="317.2" y1="254" x2="317.2" y2="263.2"/><line x1="319.8" y1="254" x2="319.8" y2="263.2"/><line x1="321.1" y1="254" x2="321.1" y2="263.2"/><line x1="328.3" y1="254" x2="328.3" y2="263.2"/><line x1="329.6" y1="254" x2="329.6" y2="263.2"/><line x1="331.1" y1="254" x2="331.1" y2="263.2"/><line x1="335.4" y1="254" x2="335.4" y2="263.2"/><line x1="337.4" y1="254" x2="337.4" y2="263.2"/><line x1="341.3" y1="254" x2="341.3" y2="263.2"/><line x1="343.3" y1="254" x2="343.3" y2="263.2"/><line x1="351.7" y1="254" x2="351.7" y2="263.2"/><line x1="354.3" y1="254" x2="354.3" y2="263.2"/><line x1="357.0" y1="254" x2="357.0" y2="263.2"/><line x1="358.9" y1="254" x2="358.9" y2="263.2"/><line x1="361.5" y1="254" x2="361.5" y2="263.2"/><line x1="364.8" y1="254" x2="364.8" y2="263.2"/><line x1="367.4" y1="254" x2="367.4" y2="263.2"/><line x1="367.0" y1="254" x2="367.0" y2="263.2"/><line x1="368.7" y1="254" x2="368.7" y2="263.2"/><line x1="370.5" y1="254" x2="370.5" y2="263.2"/><line x1="374.1" y1="254" x2="374.1" y2="263.2"/><line x1="375.4" y1="254" x2="375.4" y2="263.2"/><line x1="376.5" y1="254" x2="376.5" y2="263.2"/><line x1="380.0" y1="254" x2="380.0" y2="263.2"/><line x1="381.3" y1="254" x2="381.3" y2="263.2"/><line x1="382.6" y1="254" x2="382.6" y2="263.2"/><line x1="383.5" y1="254" x2="383.5" y2="263.2"/><line x1="387.2" y1="254" x2="387.2" y2="263.2"/><line x1="388.5" y1="254" x2="388.5" y2="263.2"/><line x1="390.4" y1="254" x2="390.4" y2="263.2"/><line x1="391.7" y1="254" x2="391.7" y2="263.2"/><line x1="396.0" y1="254" x2="396.0" y2="263.2"/><line x1="397.0" y1="254" x2="397.0" y2="263.2"/><line x1="400.5" y1="254" x2="400.5" y2="263.2"/><line x1="401.5" y1="254" x2="401.5" y2="263.2"/><line x1="402.8" y1="254" x2="402.8" y2="263.2"/><line x1="408.3" y1="254" x2="408.3" y2="263.2"/><line x1="410.0" y1="254" x2="410.0" y2="263.2"/><line x1="411.3" y1="254" x2="411.3" y2="263.2"/><line x1="415.2" y1="254" x2="415.2" y2="263.2"/><line x1="419.1" y1="254" x2="419.1" y2="263.2"/><line x1="420.4" y1="254" x2="420.4" y2="263.2"/><line x1="421.7" y1="254" x2="421.7" y2="263.2"/><line x1="423.0" y1="254" x2="423.0" y2="263.2"/><line x1="427.8" y1="254" x2="427.8" y2="263.2"/><line x1="429.1" y1="254" x2="429.1" y2="263.2"/><line x1="431.1" y1="254" x2="431.1" y2="263.2"/><line x1="435.7" y1="254" x2="435.7" y2="263.2"/><line x1="437.6" y1="254" x2="437.6" y2="263.2"/><line x1="439.6" y1="254" x2="439.6" y2="263.2"/><line x1="440.9" y1="254" x2="440.9" y2="263.2"/><line x1="442.2" y1="254" x2="442.2" y2="263.2"/><line x1="443.5" y1="254" x2="443.5" y2="263.2"/><line x1="444.8" y1="254" x2="444.8" y2="263.2"/><line x1="446.1" y1="254" x2="446.1" y2="263.2"/><line x1="448.0" y1="254" x2="448.0" y2="263.2"/><line x1="450.0" y1="254" x2="450.0" y2="263.2"/><line x1="452.6" y1="254" x2="452.6" y2="263.2"/><line x1="454.2" y1="254" x2="454.2" y2="263.2"/><line x1="457.2" y1="254" x2="457.2" y2="263.2"/><line x1="459.1" y1="254" x2="459.1" y2="263.2"/><line x1="460.7" y1="254" x2="460.7" y2="263.2"/><line x1="462.4" y1="254" x2="462.4" y2="263.2"/><line x1="464.3" y1="254" x2="464.3" y2="263.2"/><line x1="467.0" y1="254" x2="467.0" y2="263.2"/><line x1="469.6" y1="254" x2="469.6" y2="263.2"/><line x1="471.1" y1="254" x2="471.1" y2="263.2"/><line x1="472.8" y1="254" x2="472.8" y2="263.2"/><line x1="477.4" y1="254" x2="477.4" y2="263.2"/><line x1="479.3" y1="254" x2="479.3" y2="263.2"/><line x1="477.0" y1="254" x2="477.0" y2="263.2"/><line x1="478.4" y1="254" x2="478.4" y2="263.2"/><line x1="481.1" y1="254" x2="481.1" y2="263.2"/><line x1="485.2" y1="254" x2="485.2" y2="263.2"/><line x1="488.0" y1="254" x2="488.0" y2="263.2"/><line x1="491.4" y1="254" x2="491.4" y2="263.2"/><line x1="492.7" y1="254" x2="492.7" y2="263.2"/><line x1="496.1" y1="254" x2="496.1" y2="263.2"/><line x1="497.5" y1="254" x2="497.5" y2="263.2"/><line x1="498.9" y1="254" x2="498.9" y2="263.2"/><line x1="500.2" y1="254" x2="500.2" y2="263.2"/><line x1="502.3" y1="254" x2="502.3" y2="263.2"/><line x1="503.6" y1="254" x2="503.6" y2="263.2"/><line x1="505.0" y1="254" x2="505.0" y2="263.2"/><line x1="507.7" y1="254" x2="507.7" y2="263.2"/><line x1="509.8" y1="254" x2="509.8" y2="263.2"/><line x1="511.8" y1="254" x2="511.8" y2="263.2"/><line x1="512.9" y1="254" x2="512.9" y2="263.2"/><line x1="518.6" y1="254" x2="518.6" y2="263.2"/><line x1="522.7" y1="254" x2="522.7" y2="263.2"/><line x1="525.5" y1="254" x2="525.5" y2="263.2"/><line x1="529.5" y1="254" x2="529.5" y2="263.2"/><line x1="532.3" y1="254" x2="532.3" y2="263.2"/><line x1="533.6" y1="254" x2="533.6" y2="263.2"/><line x1="535.0" y1="254" x2="535.0" y2="263.2"/><line x1="537.0" y1="254" x2="537.0" y2="263.2"/><line x1="539.1" y1="254" x2="539.1" y2="263.2"/><line x1="541.8" y1="254" x2="541.8" y2="263.2"/><line x1="543.2" y1="254" x2="543.2" y2="263.2"/></g>
<g stroke="#3c3c3c" stroke-width="0.95"><line x1="84.5" y1="263" x2="84.5" y2="271.8"/><line x1="133.4" y1="263" x2="133.4" y2="271.8"/><line x1="149.4" y1="263" x2="149.4" y2="271.8"/><line x1="173.4" y1="263" x2="173.4" y2="271.8"/><line x1="182.2" y1="263" x2="182.2" y2="271.8"/><line x1="202.3" y1="263" x2="202.3" y2="271.8"/><line x1="205.9" y1="263" x2="205.9" y2="271.8"/><line x1="224.8" y1="263" x2="224.8" y2="271.8"/><line x1="231.3" y1="263" x2="231.3" y2="271.8"/><line x1="254.8" y1="263" x2="254.8" y2="271.8"/><line x1="257.4" y1="263" x2="257.4" y2="271.8"/><line x1="263.5" y1="263" x2="263.5" y2="271.8"/><line x1="272.6" y1="263" x2="272.6" y2="271.8"/><line x1="284.3" y1="263" x2="284.3" y2="271.8"/><line x1="306.5" y1="263" x2="306.5" y2="271.8"/><line x1="315.0" y1="263" x2="315.0" y2="271.8"/><line x1="320.2" y1="263" x2="320.2" y2="271.8"/><line x1="324.6" y1="263" x2="324.6" y2="271.8"/><line x1="327.0" y1="263" x2="327.0" y2="271.8"/><line x1="337.4" y1="263" x2="337.4" y2="271.8"/><line x1="340.7" y1="263" x2="340.7" y2="271.8"/><line x1="351.7" y1="263" x2="351.7" y2="271.8"/><line x1="357.6" y1="263" x2="357.6" y2="271.8"/><line x1="363.5" y1="263" x2="363.5" y2="271.8"/><line x1="373.5" y1="263" x2="373.5" y2="271.8"/><line x1="375.4" y1="263" x2="375.4" y2="271.8"/><line x1="386.5" y1="263" x2="386.5" y2="271.8"/><line x1="391.1" y1="263" x2="391.1" y2="271.8"/><line x1="397.6" y1="263" x2="397.6" y2="271.8"/><line x1="406.7" y1="263" x2="406.7" y2="271.8"/><line x1="412.6" y1="263" x2="412.6" y2="271.8"/><line x1="419.1" y1="263" x2="419.1" y2="271.8"/><line x1="427.8" y1="263" x2="427.8" y2="271.8"/><line x1="436.7" y1="263" x2="436.7" y2="271.8"/><line x1="450.0" y1="263" x2="450.0" y2="271.8"/><line x1="454.2" y1="263" x2="454.2" y2="271.8"/><line x1="457.8" y1="263" x2="457.8" y2="271.8"/><line x1="462.4" y1="263" x2="462.4" y2="271.8"/><line x1="470.2" y1="263" x2="470.2" y2="271.8"/><line x1="473.7" y1="263" x2="473.7" y2="271.8"/><line x1="483.5" y1="263" x2="483.5" y2="271.8"/><line x1="487.5" y1="263" x2="487.5" y2="271.8"/><line x1="488.6" y1="263" x2="488.6" y2="271.8"/><line x1="496.8" y1="263" x2="496.8" y2="271.8"/><line x1="508.4" y1="263" x2="508.4" y2="271.8"/><line x1="511.8" y1="263" x2="511.8" y2="271.8"/><line x1="515.9" y1="263" x2="515.9" y2="271.8"/><line x1="517.3" y1="263" x2="517.3" y2="271.8"/><line x1="524.8" y1="263" x2="524.8" y2="271.8"/><line x1="535.7" y1="263" x2="535.7" y2="271.8"/><line x1="542.5" y1="263" x2="542.5" y2="271.8"/></g>
<g stroke="#2f8a2f" stroke-width="0.9"><line x1="56.9" y1="272" x2="56.9" y2="280.6"/><line x1="76.2" y1="272" x2="76.2" y2="280.6"/><line x1="87.5" y1="272" x2="87.5" y2="280.6"/><line x1="96.5" y1="272" x2="96.5" y2="280.6"/><line x1="101.1" y1="272" x2="101.1" y2="280.6"/><line x1="104.6" y1="272" x2="104.6" y2="280.6"/><line x1="113.5" y1="272" x2="113.5" y2="280.6"/><line x1="116.7" y1="272" x2="116.7" y2="280.6"/><line x1="121.0" y1="272" x2="121.0" y2="280.6"/><line x1="128.5" y1="272" x2="128.5" y2="280.6"/><line x1="131.7" y1="272" x2="131.7" y2="280.6"/><line x1="134.7" y1="272" x2="134.7" y2="280.6"/><line x1="144.8" y1="272" x2="144.8" y2="280.6"/><line x1="153.5" y1="272" x2="153.5" y2="280.6"/><line x1="155.4" y1="272" x2="155.4" y2="280.6"/><line x1="156.5" y1="272" x2="156.5" y2="280.6"/><line x1="159.1" y1="272" x2="159.1" y2="280.6"/><line x1="163.9" y1="272" x2="163.9" y2="280.6"/><line x1="167.8" y1="272" x2="167.8" y2="280.6"/><line x1="170.4" y1="272" x2="170.4" y2="280.6"/><line x1="175.7" y1="272" x2="175.7" y2="280.6"/><line x1="177.6" y1="272" x2="177.6" y2="280.6"/><line x1="178.7" y1="272" x2="178.7" y2="280.6"/><line x1="180.2" y1="272" x2="180.2" y2="280.6"/><line x1="185.4" y1="272" x2="185.4" y2="280.6"/><line x1="186.5" y1="272" x2="186.5" y2="280.6"/><line x1="195.2" y1="272" x2="195.2" y2="280.6"/><line x1="197.2" y1="272" x2="197.2" y2="280.6"/><line x1="198.5" y1="272" x2="198.5" y2="280.6"/><line x1="199.8" y1="272" x2="199.8" y2="280.6"/><line x1="200.7" y1="272" x2="200.7" y2="280.6"/><line x1="202.0" y1="272" x2="202.0" y2="280.6"/><line x1="205.9" y1="272" x2="205.9" y2="280.6"/><line x1="207.2" y1="272" x2="207.2" y2="280.6"/><line x1="213.0" y1="272" x2="213.0" y2="280.6"/><line x1="214.3" y1="272" x2="214.3" y2="280.6"/><line x1="215.7" y1="272" x2="215.7" y2="280.6"/><line x1="218.3" y1="272" x2="218.3" y2="280.6"/><line x1="224.1" y1="272" x2="224.1" y2="280.6"/><line x1="225.4" y1="272" x2="225.4" y2="280.6"/><line x1="226.7" y1="272" x2="226.7" y2="280.6"/><line x1="231.3" y1="272" x2="231.3" y2="280.6"/><line x1="232.6" y1="272" x2="232.6" y2="280.6"/><line x1="233.9" y1="272" x2="233.9" y2="280.6"/><line x1="237.8" y1="272" x2="237.8" y2="280.6"/><line x1="239.1" y1="272" x2="239.1" y2="280.6"/><line x1="241.1" y1="272" x2="241.1" y2="280.6"/><line x1="246.3" y1="272" x2="246.3" y2="280.6"/><line x1="247.6" y1="272" x2="247.6" y2="280.6"/><line x1="248.9" y1="272" x2="248.9" y2="280.6"/><line x1="250.2" y1="272" x2="250.2" y2="280.6"/><line x1="253.5" y1="272" x2="253.5" y2="280.6"/><line x1="254.8" y1="272" x2="254.8" y2="280.6"/><line x1="256.7" y1="272" x2="256.7" y2="280.6"/><line x1="258.7" y1="272" x2="258.7" y2="280.6"/><line x1="255.7" y1="272" x2="255.7" y2="280.6"/><line x1="257.6" y1="272" x2="257.6" y2="280.6"/><line x1="260.9" y1="272" x2="260.9" y2="280.6"/><line x1="262.8" y1="272" x2="262.8" y2="280.6"/><line x1="265.4" y1="272" x2="265.4" y2="280.6"/><line x1="268.7" y1="272" x2="268.7" y2="280.6"/><line x1="270.7" y1="272" x2="270.7" y2="280.6"/><line x1="273.3" y1="272" x2="273.3" y2="280.6"/><line x1="275.9" y1="272" x2="275.9" y2="280.6"/><line x1="277.8" y1="272" x2="277.8" y2="280.6"/><line x1="282.4" y1="272" x2="282.4" y2="280.6"/><line x1="285.7" y1="272" x2="285.7" y2="280.6"/><line x1="288.7" y1="272" x2="288.7" y2="280.6"/><line x1="291.5" y1="272" x2="291.5" y2="280.6"/><line x1="294.1" y1="272" x2="294.1" y2="280.6"/><line x1="296.7" y1="272" x2="296.7" y2="280.6"/><line x1="299.3" y1="272" x2="299.3" y2="280.6"/><line x1="302.0" y1="272" x2="302.0" y2="280.6"/><line x1="303.9" y1="272" x2="303.9" y2="280.6"/><line x1="307.8" y1="272" x2="307.8" y2="280.6"/><line x1="309.8" y1="272" x2="309.8" y2="280.6"/><line x1="312.4" y1="272" x2="312.4" y2="280.6"/><line x1="313.9" y1="272" x2="313.9" y2="280.6"/><line x1="319.8" y1="272" x2="319.8" y2="280.6"/><line x1="327.0" y1="272" x2="327.0" y2="280.6"/><line x1="330.9" y1="272" x2="330.9" y2="280.6"/><line x1="336.1" y1="272" x2="336.1" y2="280.6"/><line x1="341.3" y1="272" x2="341.3" y2="280.6"/><line x1="346.5" y1="272" x2="346.5" y2="280.6"/><line x1="350.4" y1="272" x2="350.4" y2="280.6"/><line x1="354.3" y1="272" x2="354.3" y2="280.6"/><line x1="359.6" y1="272" x2="359.6" y2="280.6"/><line x1="364.8" y1="272" x2="364.8" y2="280.6"/><line x1="368.7" y1="272" x2="368.7" y2="280.6"/><line x1="367.6" y1="272" x2="367.6" y2="280.6"/><line x1="370.9" y1="272" x2="370.9" y2="280.6"/><line x1="374.8" y1="272" x2="374.8" y2="280.6"/><line x1="382.0" y1="272" x2="382.0" y2="280.6"/><line x1="383.3" y1="272" x2="383.3" y2="280.6"/><line x1="387.8" y1="272" x2="387.8" y2="280.6"/><line x1="392.4" y1="272" x2="392.4" y2="280.6"/><line x1="395.7" y1="272" x2="395.7" y2="280.6"/><line x1="400.2" y1="272" x2="400.2" y2="280.6"/><line x1="404.1" y1="272" x2="404.1" y2="280.6"/><line x1="409.3" y1="272" x2="409.3" y2="280.6"/><line x1="413.9" y1="272" x2="413.9" y2="280.6"/><line x1="418.5" y1="272" x2="418.5" y2="280.6"/><line x1="422.4" y1="272" x2="422.4" y2="280.6"/><line x1="423.9" y1="272" x2="423.9" y2="280.6"/><line x1="427.8" y1="272" x2="427.8" y2="280.6"/><line x1="431.7" y1="272" x2="431.7" y2="280.6"/><line x1="433.7" y1="272" x2="433.7" y2="280.6"/><line x1="439.6" y1="272" x2="439.6" y2="280.6"/><line x1="440.9" y1="272" x2="440.9" y2="280.6"/><line x1="442.2" y1="272" x2="442.2" y2="280.6"/><line x1="443.5" y1="272" x2="443.5" y2="280.6"/><line x1="444.8" y1="272" x2="444.8" y2="280.6"/><line x1="446.1" y1="272" x2="446.1" y2="280.6"/><line x1="451.3" y1="272" x2="451.3" y2="280.6"/><line x1="456.5" y1="272" x2="456.5" y2="280.6"/><line x1="459.1" y1="272" x2="459.1" y2="280.6"/><line x1="463.0" y1="272" x2="463.0" y2="280.6"/><line x1="469.6" y1="272" x2="469.6" y2="280.6"/><line x1="471.5" y1="272" x2="471.5" y2="280.6"/><line x1="478.0" y1="272" x2="478.0" y2="280.6"/><line x1="479.6" y1="272" x2="479.6" y2="280.6"/><line x1="481.2" y1="272" x2="481.2" y2="280.6"/><line x1="482.8" y1="272" x2="482.8" y2="280.6"/><line x1="484.4" y1="272" x2="484.4" y2="280.6"/><line x1="486.0" y1="272" x2="486.0" y2="280.6"/><line x1="487.6" y1="272" x2="487.6" y2="280.6"/><line x1="489.2" y1="272" x2="489.2" y2="280.6"/><line x1="490.8" y1="272" x2="490.8" y2="280.6"/><line x1="492.4" y1="272" x2="492.4" y2="280.6"/><line x1="494.0" y1="272" x2="494.0" y2="280.6"/><line x1="495.6" y1="272" x2="495.6" y2="280.6"/><line x1="497.2" y1="272" x2="497.2" y2="280.6"/><line x1="498.8" y1="272" x2="498.8" y2="280.6"/><line x1="500.4" y1="272" x2="500.4" y2="280.6"/><line x1="502.0" y1="272" x2="502.0" y2="280.6"/><line x1="503.6" y1="272" x2="503.6" y2="280.6"/><line x1="505.2" y1="272" x2="505.2" y2="280.6"/><line x1="506.8" y1="272" x2="506.8" y2="280.6"/><line x1="508.4" y1="272" x2="508.4" y2="280.6"/><line x1="510.0" y1="272" x2="510.0" y2="280.6"/><line x1="511.6" y1="272" x2="511.6" y2="280.6"/><line x1="513.2" y1="272" x2="513.2" y2="280.6"/><line x1="514.8" y1="272" x2="514.8" y2="280.6"/><line x1="516.4" y1="272" x2="516.4" y2="280.6"/><line x1="518.0" y1="272" x2="518.0" y2="280.6"/><line x1="519.6" y1="272" x2="519.6" y2="280.6"/><line x1="521.2" y1="272" x2="521.2" y2="280.6"/><line x1="522.8" y1="272" x2="522.8" y2="280.6"/><line x1="524.4" y1="272" x2="524.4" y2="280.6"/><line x1="526.0" y1="272" x2="526.0" y2="280.6"/><line x1="527.6" y1="272" x2="527.6" y2="280.6"/><line x1="529.2" y1="272" x2="529.2" y2="280.6"/><line x1="530.8" y1="272" x2="530.8" y2="280.6"/><line x1="532.4" y1="272" x2="532.4" y2="280.6"/><line x1="534.0" y1="272" x2="534.0" y2="280.6"/><line x1="535.6" y1="272" x2="535.6" y2="280.6"/><line x1="537.2" y1="272" x2="537.2" y2="280.6"/><line x1="538.8" y1="272" x2="538.8" y2="280.6"/><line x1="540.4" y1="272" x2="540.4" y2="280.6"/><line x1="542.0" y1="272" x2="542.0" y2="280.6"/><line x1="543.6" y1="272" x2="543.6" y2="280.6"/><line x1="318.0" y1="272" x2="318.0" y2="280.6"/><line x1="322.3" y1="272" x2="322.3" y2="280.6"/><line x1="326.7" y1="272" x2="326.7" y2="280.6"/><line x1="329.9" y1="272" x2="329.9" y2="280.6"/><line x1="334.3" y1="272" x2="334.3" y2="280.6"/><line x1="338.3" y1="272" x2="338.3" y2="280.6"/><line x1="342.4" y1="272" x2="342.4" y2="280.6"/><line x1="347.0" y1="272" x2="347.0" y2="280.6"/><line x1="350.9" y1="272" x2="350.9" y2="280.6"/><line x1="354.8" y1="272" x2="354.8" y2="280.6"/><line x1="358.7" y1="272" x2="358.7" y2="280.6"/><line x1="362.9" y1="272" x2="362.9" y2="280.6"/><line x1="366.9" y1="272" x2="366.9" y2="280.6"/><line x1="371.4" y1="272" x2="371.4" y2="280.6"/><line x1="375.0" y1="272" x2="375.0" y2="280.6"/><line x1="379.0" y1="272" x2="379.0" y2="280.6"/><line x1="383.7" y1="272" x2="383.7" y2="280.6"/><line x1="387.7" y1="272" x2="387.7" y2="280.6"/><line x1="391.3" y1="272" x2="391.3" y2="280.6"/><line x1="395.2" y1="272" x2="395.2" y2="280.6"/><line x1="396.6" y1="272" x2="396.6" y2="280.6"/><line x1="399.4" y1="272" x2="399.4" y2="280.6"/><line x1="401.3" y1="272" x2="401.3" y2="280.6"/><line x1="402.5" y1="272" x2="402.5" y2="280.6"/><line x1="404.8" y1="272" x2="404.8" y2="280.6"/><line x1="406.7" y1="272" x2="406.7" y2="280.6"/><line x1="409.0" y1="272" x2="409.0" y2="280.6"/><line x1="411.1" y1="272" x2="411.1" y2="280.6"/><line x1="412.6" y1="272" x2="412.6" y2="280.6"/><line x1="415.2" y1="272" x2="415.2" y2="280.6"/><line x1="417.2" y1="272" x2="417.2" y2="280.6"/><line x1="418.7" y1="272" x2="418.7" y2="280.6"/><line x1="420.6" y1="272" x2="420.6" y2="280.6"/><line x1="423.4" y1="272" x2="423.4" y2="280.6"/><line x1="425.3" y1="272" x2="425.3" y2="280.6"/><line x1="426.6" y1="272" x2="426.6" y2="280.6"/><line x1="428.8" y1="272" x2="428.8" y2="280.6"/><line x1="430.7" y1="272" x2="430.7" y2="280.6"/><line x1="432.8" y1="272" x2="432.8" y2="280.6"/><line x1="434.9" y1="272" x2="434.9" y2="280.6"/><line x1="437.4" y1="272" x2="437.4" y2="280.6"/><line x1="438.9" y1="272" x2="438.9" y2="280.6"/><line x1="440.9" y1="272" x2="440.9" y2="280.6"/><line x1="442.7" y1="272" x2="442.7" y2="280.6"/><line x1="445.2" y1="272" x2="445.2" y2="280.6"/><line x1="446.9" y1="272" x2="446.9" y2="280.6"/><line x1="448.9" y1="272" x2="448.9" y2="280.6"/><line x1="451.0" y1="272" x2="451.0" y2="280.6"/><line x1="453.3" y1="272" x2="453.3" y2="280.6"/><line x1="455.1" y1="272" x2="455.1" y2="280.6"/><line x1="457.2" y1="272" x2="457.2" y2="280.6"/><line x1="459.1" y1="272" x2="459.1" y2="280.6"/><line x1="461.3" y1="272" x2="461.3" y2="280.6"/><line x1="463.2" y1="272" x2="463.2" y2="280.6"/><line x1="464.5" y1="272" x2="464.5" y2="280.6"/><line x1="466.8" y1="272" x2="466.8" y2="280.6"/><line x1="469.2" y1="272" x2="469.2" y2="280.6"/><line x1="471.1" y1="272" x2="471.1" y2="280.6"/><line x1="473.0" y1="272" x2="473.0" y2="280.6"/><line x1="475.3" y1="272" x2="475.3" y2="280.6"/><line x1="477.2" y1="272" x2="477.2" y2="280.6"/></g>
<g stroke="#b27ae8" stroke-width="0.85"><line x1="65.3" y1="280.6" x2="65.3" y2="288.8"/><line x1="115.4" y1="280.6" x2="115.4" y2="288.8"/><line x1="134.1" y1="280.6" x2="134.1" y2="288.8"/><line x1="145.5" y1="280.6" x2="145.5" y2="288.8"/><line x1="160.4" y1="280.6" x2="160.4" y2="288.8"/><line x1="174.7" y1="280.6" x2="174.7" y2="288.8"/><line x1="179.2" y1="280.6" x2="179.2" y2="288.8"/><line x1="199.8" y1="280.6" x2="199.8" y2="288.8"/><line x1="200.7" y1="280.6" x2="200.7" y2="288.8"/><line x1="203.3" y1="280.6" x2="203.3" y2="288.8"/><line x1="211.7" y1="280.6" x2="211.7" y2="288.8"/><line x1="222.4" y1="280.6" x2="222.4" y2="288.8"/><line x1="236.5" y1="280.6" x2="236.5" y2="288.8"/><line x1="243.0" y1="280.6" x2="243.0" y2="288.8"/><line x1="246.3" y1="280.6" x2="246.3" y2="288.8"/><line x1="252.8" y1="280.6" x2="252.8" y2="288.8"/><line x1="258.0" y1="280.6" x2="258.0" y2="288.8"/><line x1="263.1" y1="280.6" x2="263.1" y2="288.8"/><line x1="275.2" y1="280.6" x2="275.2" y2="288.8"/><line x1="281.1" y1="280.6" x2="281.1" y2="288.8"/><line x1="289.6" y1="280.6" x2="289.6" y2="288.8"/><line x1="297.4" y1="280.6" x2="297.4" y2="288.8"/><line x1="300.6" y1="280.6" x2="300.6" y2="288.8"/><line x1="307.2" y1="280.6" x2="307.2" y2="288.8"/><line x1="313.0" y1="280.6" x2="313.0" y2="288.8"/><line x1="313.9" y1="280.6" x2="313.9" y2="288.8"/><line x1="316.5" y1="280.6" x2="316.5" y2="288.8"/><line x1="322.4" y1="280.6" x2="322.4" y2="288.8"/><line x1="328.3" y1="280.6" x2="328.3" y2="288.8"/><line x1="334.8" y1="280.6" x2="334.8" y2="288.8"/><line x1="338.0" y1="280.6" x2="338.0" y2="288.8"/><line x1="345.2" y1="280.6" x2="345.2" y2="288.8"/><line x1="347.8" y1="280.6" x2="347.8" y2="288.8"/><line x1="353.0" y1="280.6" x2="353.0" y2="288.8"/><line x1="356.3" y1="280.6" x2="356.3" y2="288.8"/><line x1="360.2" y1="280.6" x2="360.2" y2="288.8"/><line x1="362.8" y1="280.6" x2="362.8" y2="288.8"/><line x1="367.4" y1="280.6" x2="367.4" y2="288.8"/><line x1="367.0" y1="280.6" x2="367.0" y2="288.8"/><line x1="368.3" y1="280.6" x2="368.3" y2="288.8"/><line x1="374.1" y1="280.6" x2="374.1" y2="288.8"/><line x1="380.7" y1="280.6" x2="380.7" y2="288.8"/><line x1="385.9" y1="280.6" x2="385.9" y2="288.8"/><line x1="387.8" y1="280.6" x2="387.8" y2="288.8"/><line x1="389.8" y1="280.6" x2="389.8" y2="288.8"/><line x1="393.7" y1="280.6" x2="393.7" y2="288.8"/><line x1="397.6" y1="280.6" x2="397.6" y2="288.8"/><line x1="408.0" y1="280.6" x2="408.0" y2="288.8"/><line x1="413.9" y1="280.6" x2="413.9" y2="288.8"/><line x1="422.4" y1="280.6" x2="422.4" y2="288.8"/><line x1="422.6" y1="280.6" x2="422.6" y2="288.8"/><line x1="425.9" y1="280.6" x2="425.9" y2="288.8"/><line x1="428.5" y1="280.6" x2="428.5" y2="288.8"/><line x1="433.0" y1="280.6" x2="433.0" y2="288.8"/><line x1="439.6" y1="280.6" x2="439.6" y2="288.8"/><line x1="440.9" y1="280.6" x2="440.9" y2="288.8"/><line x1="442.8" y1="280.6" x2="442.8" y2="288.8"/><line x1="445.4" y1="280.6" x2="445.4" y2="288.8"/><line x1="448.0" y1="280.6" x2="448.0" y2="288.8"/><line x1="451.3" y1="280.6" x2="451.3" y2="288.8"/><line x1="456.5" y1="280.6" x2="456.5" y2="288.8"/><line x1="459.1" y1="280.6" x2="459.1" y2="288.8"/><line x1="463.0" y1="280.6" x2="463.0" y2="288.8"/><line x1="465.7" y1="280.6" x2="465.7" y2="288.8"/><line x1="469.6" y1="280.6" x2="469.6" y2="288.8"/><line x1="474.8" y1="280.6" x2="474.8" y2="288.8"/><line x1="479.3" y1="280.6" x2="479.3" y2="288.8"/><line x1="481.1" y1="280.6" x2="481.1" y2="288.8"/><line x1="483.2" y1="280.6" x2="483.2" y2="288.8"/><line x1="485.9" y1="280.6" x2="485.9" y2="288.8"/><line x1="492.0" y1="280.6" x2="492.0" y2="288.8"/><line x1="494.1" y1="280.6" x2="494.1" y2="288.8"/><line x1="498.9" y1="280.6" x2="498.9" y2="288.8"/><line x1="500.2" y1="280.6" x2="500.2" y2="288.8"/><line x1="503.6" y1="280.6" x2="503.6" y2="288.8"/><line x1="509.1" y1="280.6" x2="509.1" y2="288.8"/><line x1="513.9" y1="280.6" x2="513.9" y2="288.8"/><line x1="517.3" y1="280.6" x2="517.3" y2="288.8"/><line x1="518.6" y1="280.6" x2="518.6" y2="288.8"/><line x1="526.8" y1="280.6" x2="526.8" y2="288.8"/><line x1="532.3" y1="280.6" x2="532.3" y2="288.8"/><line x1="534.3" y1="280.6" x2="534.3" y2="288.8"/><line x1="543.2" y1="280.6" x2="543.2" y2="288.8"/><line x1="544.5" y1="280.6" x2="544.5" y2="288.8"/></g>
<line x1="36.5" y1="7" x2="36.5" y2="289.5" stroke="#747474" stroke-width="0.95"/><line x1="36" y1="289.3" x2="546" y2="289.3" stroke="#747474" stroke-width="0.95"/><line x1="35.4" y1="7.2" x2="36.5" y2="7.2" stroke="#777" stroke-width="0.6"/><line x1="35.4" y1="10.2" x2="36.5" y2="10.2" stroke="#777" stroke-width="0.6"/><line x1="35.4" y1="13.3" x2="36.5" y2="13.3" stroke="#777" stroke-width="0.6"/><line x1="35.4" y1="16.3" x2="36.5" y2="16.3" stroke="#777" stroke-width="0.6"/><line x1="35.4" y1="19.3" x2="36.5" y2="19.3" stroke="#777" stroke-width="0.6"/><line x1="35.4" y1="22.3" x2="36.5" y2="22.3" stroke="#777" stroke-width="0.6"/><line x1="35.4" y1="25.4" x2="36.5" y2="25.4" stroke="#777" stroke-width="0.6"/><line x1="35.4" y1="28.4" x2="36.5" y2="28.4" stroke="#777" stroke-width="0.6"/><line x1="35.4" y1="31.4" x2="36.5" y2="31.4" stroke="#777" stroke-width="0.6"/><line x1="35.4" y1="34.5" x2="36.5" y2="34.5" stroke="#777" stroke-width="0.6"/><line x1="35.4" y1="37.5" x2="36.5" y2="37.5" stroke="#777" stroke-width="0.6"/><line x1="35.4" y1="40.5" x2="36.5" y2="40.5" stroke="#777" stroke-width="0.6"/><line x1="35.4" y1="43.6" x2="36.5" y2="43.6" stroke="#777" stroke-width="0.6"/><line x1="35.4" y1="46.6" x2="36.5" y2="46.6" stroke="#777" stroke-width="0.6"/><line x1="35.4" y1="49.6" x2="36.5" y2="49.6" stroke="#777" stroke-width="0.6"/><line x1="35.4" y1="52.7" x2="36.5" y2="52.7" stroke="#777" stroke-width="0.6"/><line x1="35.4" y1="55.7" x2="36.5" y2="55.7" stroke="#777" stroke-width="0.6"/><line x1="35.4" y1="58.7" x2="36.5" y2="58.7" stroke="#777" stroke-width="0.6"/><line x1="35.4" y1="61.7" x2="36.5" y2="61.7" stroke="#777" stroke-width="0.6"/><line x1="35.4" y1="64.8" x2="36.5" y2="64.8" stroke="#777" stroke-width="0.6"/><line x1="35.4" y1="67.8" x2="36.5" y2="67.8" stroke="#777" stroke-width="0.6"/><line x1="35.4" y1="70.8" x2="36.5" y2="70.8" stroke="#777" stroke-width="0.6"/><line x1="35.4" y1="73.9" x2="36.5" y2="73.9" stroke="#777" stroke-width="0.6"/><line x1="35.4" y1="76.9" x2="36.5" y2="76.9" stroke="#777" stroke-width="0.6"/><line x1="35.4" y1="79.9" x2="36.5" y2="79.9" stroke="#777" stroke-width="0.6"/><line x1="35.4" y1="83.0" x2="36.5" y2="83.0" stroke="#777" stroke-width="0.6"/><line x1="35.4" y1="86.0" x2="36.5" y2="86.0" stroke="#777" stroke-width="0.6"/><line x1="35.4" y1="89.0" x2="36.5" y2="89.0" stroke="#777" stroke-width="0.6"/><line x1="35.4" y1="92.0" x2="36.5" y2="92.0" stroke="#777" stroke-width="0.6"/><line x1="35.4" y1="95.1" x2="36.5" y2="95.1" stroke="#777" stroke-width="0.6"/><line x1="35.4" y1="98.1" x2="36.5" y2="98.1" stroke="#777" stroke-width="0.6"/><line x1="35.4" y1="101.1" x2="36.5" y2="101.1" stroke="#777" stroke-width="0.6"/><line x1="35.4" y1="104.2" x2="36.5" y2="104.2" stroke="#777" stroke-width="0.6"/><line x1="35.4" y1="107.2" x2="36.5" y2="107.2" stroke="#777" stroke-width="0.6"/><line x1="35.4" y1="110.2" x2="36.5" y2="110.2" stroke="#777" stroke-width="0.6"/><line x1="35.4" y1="113.2" x2="36.5" y2="113.2" stroke="#777" stroke-width="0.6"/><line x1="35.4" y1="116.3" x2="36.5" y2="116.3" stroke="#777" stroke-width="0.6"/><line x1="35.4" y1="119.3" x2="36.5" y2="119.3" stroke="#777" stroke-width="0.6"/><line x1="35.4" y1="122.3" x2="36.5" y2="122.3" stroke="#777" stroke-width="0.6"/><line x1="35.4" y1="125.4" x2="36.5" y2="125.4" stroke="#777" stroke-width="0.6"/><line x1="35.4" y1="128.4" x2="36.5" y2="128.4" stroke="#777" stroke-width="0.6"/><line x1="35.4" y1="131.4" x2="36.5" y2="131.4" stroke="#777" stroke-width="0.6"/><line x1="35.4" y1="134.5" x2="36.5" y2="134.5" stroke="#777" stroke-width="0.6"/><line x1="35.4" y1="137.5" x2="36.5" y2="137.5" stroke="#777" stroke-width="0.6"/><line x1="35.4" y1="140.5" x2="36.5" y2="140.5" stroke="#777" stroke-width="0.6"/><line x1="35.4" y1="143.6" x2="36.5" y2="143.6" stroke="#777" stroke-width="0.6"/><line x1="35.4" y1="146.6" x2="36.5" y2="146.6" stroke="#777" stroke-width="0.6"/><line x1="35.4" y1="149.6" x2="36.5" y2="149.6" stroke="#777" stroke-width="0.6"/><line x1="35.4" y1="152.6" x2="36.5" y2="152.6" stroke="#777" stroke-width="0.6"/><line x1="35.4" y1="155.7" x2="36.5" y2="155.7" stroke="#777" stroke-width="0.6"/><line x1="35.4" y1="158.7" x2="36.5" y2="158.7" stroke="#777" stroke-width="0.6"/><line x1="35.4" y1="161.7" x2="36.5" y2="161.7" stroke="#777" stroke-width="0.6"/><line x1="35.4" y1="164.8" x2="36.5" y2="164.8" stroke="#777" stroke-width="0.6"/><line x1="35.4" y1="167.8" x2="36.5" y2="167.8" stroke="#777" stroke-width="0.6"/><line x1="35.4" y1="170.8" x2="36.5" y2="170.8" stroke="#777" stroke-width="0.6"/><line x1="35.4" y1="173.8" x2="36.5" y2="173.8" stroke="#777" stroke-width="0.6"/><line x1="35.4" y1="176.9" x2="36.5" y2="176.9" stroke="#777" stroke-width="0.6"/><line x1="35.4" y1="179.9" x2="36.5" y2="179.9" stroke="#777" stroke-width="0.6"/><line x1="35.4" y1="182.9" x2="36.5" y2="182.9" stroke="#777" stroke-width="0.6"/><line x1="35.4" y1="186.0" x2="36.5" y2="186.0" stroke="#777" stroke-width="0.6"/><line x1="35.4" y1="189.0" x2="36.5" y2="189.0" stroke="#777" stroke-width="0.6"/><line x1="35.4" y1="192.0" x2="36.5" y2="192.0" stroke="#777" stroke-width="0.6"/><line x1="35.4" y1="195.1" x2="36.5" y2="195.1" stroke="#777" stroke-width="0.6"/><line x1="35.4" y1="198.1" x2="36.5" y2="198.1" stroke="#777" stroke-width="0.6"/><line x1="35.4" y1="201.1" x2="36.5" y2="201.1" stroke="#777" stroke-width="0.6"/><line x1="35.4" y1="204.2" x2="36.5" y2="204.2" stroke="#777" stroke-width="0.6"/><line x1="35.4" y1="207.2" x2="36.5" y2="207.2" stroke="#777" stroke-width="0.6"/><line x1="35.4" y1="210.2" x2="36.5" y2="210.2" stroke="#777" stroke-width="0.6"/><line x1="35.4" y1="213.2" x2="36.5" y2="213.2" stroke="#777" stroke-width="0.6"/><line x1="35.4" y1="216.3" x2="36.5" y2="216.3" stroke="#777" stroke-width="0.6"/><line x1="35.4" y1="219.3" x2="36.5" y2="219.3" stroke="#777" stroke-width="0.6"/><line x1="35.4" y1="222.3" x2="36.5" y2="222.3" stroke="#777" stroke-width="0.6"/><line x1="35.4" y1="225.4" x2="36.5" y2="225.4" stroke="#777" stroke-width="0.6"/><line x1="35.4" y1="228.4" x2="36.5" y2="228.4" stroke="#777" stroke-width="0.6"/><line x1="35.4" y1="231.4" x2="36.5" y2="231.4" stroke="#777" stroke-width="0.6"/><line x1="35.4" y1="234.4" x2="36.5" y2="234.4" stroke="#777" stroke-width="0.6"/><line x1="35.4" y1="237.5" x2="36.5" y2="237.5" stroke="#777" stroke-width="0.6"/><line x1="35.4" y1="240.5" x2="36.5" y2="240.5" stroke="#777" stroke-width="0.6"/><line x1="35.4" y1="243.5" x2="36.5" y2="243.5" stroke="#777" stroke-width="0.6"/><line x1="35.4" y1="246.6" x2="36.5" y2="246.6" stroke="#777" stroke-width="0.6"/><line x1="35.4" y1="249.6" x2="36.5" y2="249.6" stroke="#777" stroke-width="0.6"/><line x1="35.4" y1="252.6" x2="36.5" y2="252.6" stroke="#777" stroke-width="0.6"/><line x1="35.4" y1="255.7" x2="36.5" y2="255.7" stroke="#777" stroke-width="0.6"/><line x1="35.4" y1="258.7" x2="36.5" y2="258.7" stroke="#777" stroke-width="0.6"/><line x1="35.4" y1="261.7" x2="36.5" y2="261.7" stroke="#777" stroke-width="0.6"/><line x1="35.4" y1="264.8" x2="36.5" y2="264.8" stroke="#777" stroke-width="0.6"/><line x1="35.4" y1="267.8" x2="36.5" y2="267.8" stroke="#777" stroke-width="0.6"/><line x1="35.4" y1="270.8" x2="36.5" y2="270.8" stroke="#777" stroke-width="0.6"/><line x1="35.4" y1="273.8" x2="36.5" y2="273.8" stroke="#777" stroke-width="0.6"/><line x1="35.4" y1="276.9" x2="36.5" y2="276.9" stroke="#777" stroke-width="0.6"/><line x1="35.4" y1="279.9" x2="36.5" y2="279.9" stroke="#777" stroke-width="0.6"/><line x1="35.4" y1="282.9" x2="36.5" y2="282.9" stroke="#777" stroke-width="0.6"/><line x1="35.4" y1="286.0" x2="36.5" y2="286.0" stroke="#777" stroke-width="0.6"/><line x1="35.4" y1="289.0" x2="36.5" y2="289.0" stroke="#777" stroke-width="0.6"/><line x1="34" y1="7.2" x2="36.5" y2="7.2" stroke="#444" stroke-width="0.8"/><line x1="34" y1="19.3" x2="36.5" y2="19.3" stroke="#444" stroke-width="0.8"/><line x1="34" y1="31.4" x2="36.5" y2="31.4" stroke="#444" stroke-width="0.8"/><line x1="34" y1="43.6" x2="36.5" y2="43.6" stroke="#444" stroke-width="0.8"/><line x1="34" y1="55.7" x2="36.5" y2="55.7" stroke="#444" stroke-width="0.8"/><line x1="34" y1="67.8" x2="36.5" y2="67.8" stroke="#444" stroke-width="0.8"/><line x1="34" y1="79.9" x2="36.5" y2="79.9" stroke="#444" stroke-width="0.8"/><line x1="34" y1="92.0" x2="36.5" y2="92.0" stroke="#444" stroke-width="0.8"/><line x1="34" y1="104.2" x2="36.5" y2="104.2" stroke="#444" stroke-width="0.8"/><line x1="34" y1="116.3" x2="36.5" y2="116.3" stroke="#444" stroke-width="0.8"/><line x1="34" y1="128.4" x2="36.5" y2="128.4" stroke="#444" stroke-width="0.8"/><line x1="34" y1="140.5" x2="36.5" y2="140.5" stroke="#444" stroke-width="0.8"/><line x1="34" y1="152.6" x2="36.5" y2="152.6" stroke="#444" stroke-width="0.8"/><line x1="34" y1="164.8" x2="36.5" y2="164.8" stroke="#444" stroke-width="0.8"/><line x1="34" y1="176.9" x2="36.5" y2="176.9" stroke="#444" stroke-width="0.8"/><line x1="34" y1="189.0" x2="36.5" y2="189.0" stroke="#444" stroke-width="0.8"/><line x1="34" y1="201.1" x2="36.5" y2="201.1" stroke="#444" stroke-width="0.8"/><line x1="34" y1="213.2" x2="36.5" y2="213.2" stroke="#444" stroke-width="0.8"/><line x1="34" y1="225.4" x2="36.5" y2="225.4" stroke="#444" stroke-width="0.8"/><line x1="34" y1="237.5" x2="36.5" y2="237.5" stroke="#444" stroke-width="0.8"/><line x1="34" y1="249.6" x2="36.5" y2="249.6" stroke="#444" stroke-width="0.8"/><line x1="34" y1="261.7" x2="36.5" y2="261.7" stroke="#444" stroke-width="0.8"/><line x1="34" y1="273.8" x2="36.5" y2="273.8" stroke="#444" stroke-width="0.8"/><line x1="34" y1="286.0" x2="36.5" y2="286.0" stroke="#444" stroke-width="0.8"/><line x1="37.2" y1="289.3" x2="37.2" y2="292.3" stroke="#888" stroke-width="0.6"/><line x1="41.3" y1="289.3" x2="41.3" y2="292.3" stroke="#888" stroke-width="0.6"/><line x1="45.3" y1="289.3" x2="45.3" y2="294.5" stroke="#444" stroke-width="0.8"/><line x1="49.3" y1="289.3" x2="49.3" y2="292.3" stroke="#888" stroke-width="0.6"/><line x1="53.4" y1="289.3" x2="53.4" y2="292.3" stroke="#888" stroke-width="0.6"/><line x1="57.4" y1="289.3" x2="57.4" y2="292.3" stroke="#888" stroke-width="0.6"/><line x1="61.5" y1="289.3" x2="61.5" y2="294.5" stroke="#444" stroke-width="0.8"/><line x1="65.5" y1="289.3" x2="65.5" y2="292.3" stroke="#888" stroke-width="0.6"/><line x1="69.5" y1="289.3" x2="69.5" y2="292.3" stroke="#888" stroke-width="0.6"/><line x1="73.6" y1="289.3" x2="73.6" y2="292.3" stroke="#888" stroke-width="0.6"/><line x1="77.6" y1="289.3" x2="77.6" y2="294.5" stroke="#444" stroke-width="0.8"/><line x1="81.7" y1="289.3" x2="81.7" y2="292.3" stroke="#888" stroke-width="0.6"/><line x1="85.7" y1="289.3" x2="85.7" y2="292.3" stroke="#888" stroke-width="0.6"/><line x1="89.7" y1="289.3" x2="89.7" y2="292.3" stroke="#888" stroke-width="0.6"/><line x1="93.8" y1="289.3" x2="93.8" y2="294.5" stroke="#444" stroke-width="0.8"/><line x1="97.8" y1="289.3" x2="97.8" y2="292.3" stroke="#888" stroke-width="0.6"/><line x1="101.9" y1="289.3" x2="101.9" y2="292.3" stroke="#888" stroke-width="0.6"/><line x1="105.9" y1="289.3" x2="105.9" y2="292.3" stroke="#888" stroke-width="0.6"/><line x1="109.9" y1="289.3" x2="109.9" y2="294.5" stroke="#444" stroke-width="0.8"/><line x1="114.0" y1="289.3" x2="114.0" y2="292.3" stroke="#888" stroke-width="0.6"/><line x1="118.0" y1="289.3" x2="118.0" y2="292.3" stroke="#888" stroke-width="0.6"/><line x1="122.1" y1="289.3" x2="122.1" y2="292.3" stroke="#888" stroke-width="0.6"/><line x1="126.1" y1="289.3" x2="126.1" y2="294.5" stroke="#444" stroke-width="0.8"/><line x1="130.1" y1="289.3" x2="130.1" y2="292.3" stroke="#888" stroke-width="0.6"/><line x1="134.2" y1="289.3" x2="134.2" y2="292.3" stroke="#888" stroke-width="0.6"/><line x1="138.2" y1="289.3" x2="138.2" y2="292.3" stroke="#888" stroke-width="0.6"/><line x1="142.3" y1="289.3" x2="142.3" y2="294.5" stroke="#444" stroke-width="0.8"/><line x1="146.3" y1="289.3" x2="146.3" y2="292.3" stroke="#888" stroke-width="0.6"/><line x1="150.3" y1="289.3" x2="150.3" y2="292.3" stroke="#888" stroke-width="0.6"/><line x1="154.4" y1="289.3" x2="154.4" y2="292.3" stroke="#888" stroke-width="0.6"/><line x1="158.4" y1="289.3" x2="158.4" y2="294.5" stroke="#444" stroke-width="0.8"/><line x1="162.5" y1="289.3" x2="162.5" y2="292.3" stroke="#888" stroke-width="0.6"/><line x1="166.5" y1="289.3" x2="166.5" y2="292.3" stroke="#888" stroke-width="0.6"/><line x1="170.5" y1="289.3" x2="170.5" y2="292.3" stroke="#888" stroke-width="0.6"/><line x1="174.6" y1="289.3" x2="174.6" y2="294.5" stroke="#444" stroke-width="0.8"/><line x1="178.6" y1="289.3" x2="178.6" y2="292.3" stroke="#888" stroke-width="0.6"/><line x1="182.7" y1="289.3" x2="182.7" y2="292.3" stroke="#888" stroke-width="0.6"/><line x1="186.7" y1="289.3" x2="186.7" y2="292.3" stroke="#888" stroke-width="0.6"/><line x1="190.7" y1="289.3" x2="190.7" y2="294.5" stroke="#444" stroke-width="0.8"/><line x1="194.8" y1="289.3" x2="194.8" y2="292.3" stroke="#888" stroke-width="0.6"/><line x1="198.8" y1="289.3" x2="198.8" y2="292.3" stroke="#888" stroke-width="0.6"/><line x1="202.9" y1="289.3" x2="202.9" y2="292.3" stroke="#888" stroke-width="0.6"/><line x1="206.9" y1="289.3" x2="206.9" y2="294.5" stroke="#444" stroke-width="0.8"/><line x1="210.9" y1="289.3" x2="210.9" y2="292.3" stroke="#888" stroke-width="0.6"/><line x1="215.0" y1="289.3" x2="215.0" y2="292.3" stroke="#888" stroke-width="0.6"/><line x1="219.0" y1="289.3" x2="219.0" y2="292.3" stroke="#888" stroke-width="0.6"/><line x1="223.1" y1="289.3" x2="223.1" y2="294.5" stroke="#444" stroke-width="0.8"/><line x1="227.1" y1="289.3" x2="227.1" y2="292.3" stroke="#888" stroke-width="0.6"/><line x1="231.1" y1="289.3" x2="231.1" y2="292.3" stroke="#888" stroke-width="0.6"/><line x1="235.2" y1="289.3" x2="235.2" y2="292.3" stroke="#888" stroke-width="0.6"/><line x1="239.2" y1="289.3" x2="239.2" y2="294.5" stroke="#444" stroke-width="0.8"/><line x1="243.3" y1="289.3" x2="243.3" y2="292.3" stroke="#888" stroke-width="0.6"/><line x1="247.3" y1="289.3" x2="247.3" y2="292.3" stroke="#888" stroke-width="0.6"/><line x1="251.3" y1="289.3" x2="251.3" y2="292.3" stroke="#888" stroke-width="0.6"/><line x1="255.4" y1="289.3" x2="255.4" y2="294.5" stroke="#444" stroke-width="0.8"/><line x1="259.4" y1="289.3" x2="259.4" y2="292.3" stroke="#888" stroke-width="0.6"/><line x1="263.5" y1="289.3" x2="263.5" y2="292.3" stroke="#888" stroke-width="0.6"/><line x1="267.5" y1="289.3" x2="267.5" y2="292.3" stroke="#888" stroke-width="0.6"/><line x1="271.5" y1="289.3" x2="271.5" y2="294.5" stroke="#444" stroke-width="0.8"/><line x1="275.6" y1="289.3" x2="275.6" y2="292.3" stroke="#888" stroke-width="0.6"/><line x1="279.6" y1="289.3" x2="279.6" y2="292.3" stroke="#888" stroke-width="0.6"/><line x1="283.7" y1="289.3" x2="283.7" y2="292.3" stroke="#888" stroke-width="0.6"/><line x1="287.7" y1="289.3" x2="287.7" y2="294.5" stroke="#444" stroke-width="0.8"/><line x1="291.7" y1="289.3" x2="291.7" y2="292.3" stroke="#888" stroke-width="0.6"/><line x1="295.8" y1="289.3" x2="295.8" y2="292.3" stroke="#888" stroke-width="0.6"/><line x1="299.8" y1="289.3" x2="299.8" y2="292.3" stroke="#888" stroke-width="0.6"/><line x1="303.9" y1="289.3" x2="303.9" y2="294.5" stroke="#444" stroke-width="0.8"/><line x1="307.9" y1="289.3" x2="307.9" y2="292.3" stroke="#888" stroke-width="0.6"/><line x1="311.9" y1="289.3" x2="311.9" y2="292.3" stroke="#888" stroke-width="0.6"/><line x1="316.0" y1="289.3" x2="316.0" y2="292.3" stroke="#888" stroke-width="0.6"/><line x1="320.0" y1="289.3" x2="320.0" y2="294.5" stroke="#444" stroke-width="0.8"/><line x1="324.1" y1="289.3" x2="324.1" y2="292.3" stroke="#888" stroke-width="0.6"/><line x1="328.1" y1="289.3" x2="328.1" y2="292.3" stroke="#888" stroke-width="0.6"/><line x1="332.1" y1="289.3" x2="332.1" y2="292.3" stroke="#888" stroke-width="0.6"/><line x1="336.2" y1="289.3" x2="336.2" y2="294.5" stroke="#444" stroke-width="0.8"/><line x1="340.2" y1="289.3" x2="340.2" y2="292.3" stroke="#888" stroke-width="0.6"/><line x1="344.3" y1="289.3" x2="344.3" y2="292.3" stroke="#888" stroke-width="0.6"/><line x1="348.3" y1="289.3" x2="348.3" y2="292.3" stroke="#888" stroke-width="0.6"/><line x1="352.3" y1="289.3" x2="352.3" y2="294.5" stroke="#444" stroke-width="0.8"/><line x1="356.4" y1="289.3" x2="356.4" y2="292.3" stroke="#888" stroke-width="0.6"/><line x1="360.4" y1="289.3" x2="360.4" y2="292.3" stroke="#888" stroke-width="0.6"/><line x1="364.5" y1="289.3" x2="364.5" y2="292.3" stroke="#888" stroke-width="0.6"/><line x1="368.5" y1="289.3" x2="368.5" y2="294.5" stroke="#444" stroke-width="0.8"/><line x1="372.5" y1="289.3" x2="372.5" y2="292.3" stroke="#888" stroke-width="0.6"/><line x1="376.6" y1="289.3" x2="376.6" y2="292.3" stroke="#888" stroke-width="0.6"/><line x1="380.6" y1="289.3" x2="380.6" y2="292.3" stroke="#888" stroke-width="0.6"/><line x1="384.7" y1="289.3" x2="384.7" y2="294.5" stroke="#444" stroke-width="0.8"/><line x1="388.7" y1="289.3" x2="388.7" y2="292.3" stroke="#888" stroke-width="0.6"/><line x1="392.7" y1="289.3" x2="392.7" y2="292.3" stroke="#888" stroke-width="0.6"/><line x1="396.8" y1="289.3" x2="396.8" y2="292.3" stroke="#888" stroke-width="0.6"/><line x1="400.8" y1="289.3" x2="400.8" y2="294.5" stroke="#444" stroke-width="0.8"/><line x1="404.9" y1="289.3" x2="404.9" y2="292.3" stroke="#888" stroke-width="0.6"/><line x1="408.9" y1="289.3" x2="408.9" y2="292.3" stroke="#888" stroke-width="0.6"/><line x1="412.9" y1="289.3" x2="412.9" y2="292.3" stroke="#888" stroke-width="0.6"/><line x1="417.0" y1="289.3" x2="417.0" y2="294.5" stroke="#444" stroke-width="0.8"/><line x1="421.0" y1="289.3" x2="421.0" y2="292.3" stroke="#888" stroke-width="0.6"/><line x1="425.1" y1="289.3" x2="425.1" y2="292.3" stroke="#888" stroke-width="0.6"/><line x1="429.1" y1="289.3" x2="429.1" y2="292.3" stroke="#888" stroke-width="0.6"/><line x1="433.1" y1="289.3" x2="433.1" y2="294.5" stroke="#444" stroke-width="0.8"/><line x1="437.2" y1="289.3" x2="437.2" y2="292.3" stroke="#888" stroke-width="0.6"/><line x1="441.2" y1="289.3" x2="441.2" y2="292.3" stroke="#888" stroke-width="0.6"/><line x1="445.3" y1="289.3" x2="445.3" y2="292.3" stroke="#888" stroke-width="0.6"/><line x1="449.3" y1="289.3" x2="449.3" y2="294.5" stroke="#444" stroke-width="0.8"/><line x1="453.3" y1="289.3" x2="453.3" y2="292.3" stroke="#888" stroke-width="0.6"/><line x1="457.4" y1="289.3" x2="457.4" y2="292.3" stroke="#888" stroke-width="0.6"/><line x1="461.4" y1="289.3" x2="461.4" y2="292.3" stroke="#888" stroke-width="0.6"/><line x1="465.5" y1="289.3" x2="465.5" y2="294.5" stroke="#444" stroke-width="0.8"/><line x1="469.5" y1="289.3" x2="469.5" y2="292.3" stroke="#888" stroke-width="0.6"/><line x1="473.5" y1="289.3" x2="473.5" y2="292.3" stroke="#888" stroke-width="0.6"/><line x1="477.6" y1="289.3" x2="477.6" y2="292.3" stroke="#888" stroke-width="0.6"/><line x1="481.6" y1="289.3" x2="481.6" y2="294.5" stroke="#444" stroke-width="0.8"/><line x1="485.7" y1="289.3" x2="485.7" y2="292.3" stroke="#888" stroke-width="0.6"/><line x1="489.7" y1="289.3" x2="489.7" y2="292.3" stroke="#888" stroke-width="0.6"/><line x1="493.7" y1="289.3" x2="493.7" y2="292.3" stroke="#888" stroke-width="0.6"/><line x1="497.8" y1="289.3" x2="497.8" y2="294.5" stroke="#444" stroke-width="0.8"/><line x1="501.8" y1="289.3" x2="501.8" y2="292.3" stroke="#888" stroke-width="0.6"/><line x1="505.9" y1="289.3" x2="505.9" y2="292.3" stroke="#888" stroke-width="0.6"/><line x1="509.9" y1="289.3" x2="509.9" y2="292.3" stroke="#888" stroke-width="0.6"/><line x1="513.9" y1="289.3" x2="513.9" y2="294.5" stroke="#444" stroke-width="0.8"/><line x1="518.0" y1="289.3" x2="518.0" y2="292.3" stroke="#888" stroke-width="0.6"/><line x1="522.0" y1="289.3" x2="522.0" y2="292.3" stroke="#888" stroke-width="0.6"/><line x1="526.1" y1="289.3" x2="526.1" y2="292.3" stroke="#888" stroke-width="0.6"/><line x1="530.1" y1="289.3" x2="530.1" y2="294.5" stroke="#444" stroke-width="0.8"/><line x1="534.1" y1="289.3" x2="534.1" y2="292.3" stroke="#888" stroke-width="0.6"/><line x1="538.2" y1="289.3" x2="538.2" y2="292.3" stroke="#888" stroke-width="0.6"/><line x1="542.2" y1="289.3" x2="542.2" y2="292.3" stroke="#888" stroke-width="0.6"/><line x1="546.3" y1="289.3" x2="546.3" y2="294.5" stroke="#444" stroke-width="0.8"/>
<g font-family="Liberation Sans, sans-serif" font-size="5.8" fill="#222" stroke="#222" stroke-width="0.18" text-anchor="end" letter-spacing="-0.45"><text x="33.9" y="9.3">1.500</text><text x="33.9" y="21.4">1.400</text><text x="33.9" y="33.5">1.300</text><text x="33.9" y="45.7">1.200</text><text x="33.9" y="57.8">1.100</text><text x="33.9" y="69.9">1.000</text><text x="33.9" y="82.0">900</text><text x="33.9" y="94.1">800</text><text x="33.9" y="106.3">700</text><text x="33.9" y="118.4">600</text><text x="33.9" y="130.5">500</text><text x="33.9" y="142.6">400</text><text x="33.9" y="154.7">300</text><text x="33.9" y="166.9">200</text><text x="33.9" y="179.0">100</text><text x="33.9" y="191.1">0</text><text x="33.9" y="203.2">-100</text><text x="33.9" y="215.3">-200</text><text x="33.9" y="227.5">-300</text><text x="33.9" y="239.6">-400</text><text x="33.9" y="251.7">-500</text><text x="33.9" y="263.8">-600</text><text x="33.9" y="275.9">-700</text><text x="33.9" y="288.1">-800</text></g>
<g font-family="Liberation Sans, sans-serif" font-size="5.3" fill="#222" stroke="#222" stroke-width="0.15" text-anchor="middle"><text x="45.3" y="300.6">6</text><text x="61.5" y="300.6">8</text><text x="77.6" y="300.6">10</text><text x="93.8" y="300.6">12</text><text x="109.9" y="300.6">14</text><text x="126.1" y="300.6">16</text><text x="142.3" y="300.6">18</text><text x="158.4" y="300.6">20</text><text x="174.6" y="300.6">22</text><text x="190.7" y="300.6">24</text><text x="206.9" y="300.6">26</text><text x="223.1" y="300.6">28</text><text x="239.2" y="300.6">30</text><text x="255.4" y="300.6">32</text><text x="271.5" y="300.6">34</text><text x="287.7" y="300.6">36</text><text x="303.9" y="300.6">38</text><text x="320.0" y="300.6">40</text><text x="336.2" y="300.6">42</text><text x="352.3" y="300.6">44</text><text x="368.5" y="300.6">46</text><text x="384.7" y="300.6">48</text><text x="400.8" y="300.6">50</text><text x="417.0" y="300.6">52</text><text x="433.1" y="300.6">54</text><text x="449.3" y="300.6">56</text><text x="465.5" y="300.6">58</text><text x="481.6" y="300.6">60</text><text x="497.8" y="300.6">62</text><text x="513.9" y="300.6">64</text><text x="530.1" y="300.6">66</text></g>
<text x="290.9" y="313.8" font-family="Liberation Sans, sans-serif" font-size="13.7" fill="#111" text-anchor="middle">2Th Degrees</text>
<text transform="translate(16.9,147.5) rotate(-90)" font-family="Liberation Sans, sans-serif" font-size="15.8" fill="#111" text-anchor="middle">Counts</text>
<g font-family="Liberation Sans, sans-serif" font-size="7.9">
<rect x="362" y="32.4" width="175" height="9.6" fill="#f9fefa"/>
<rect x="362" y="42" width="175" height="13" fill="#fffafe"/>
<rect x="503" y="32.4" width="34" height="9.6" fill="#f0fcf2"/>
<rect x="503" y="42" width="34" height="13" fill="#fdf1fd"/>
<text x="365" y="19" fill="#2a2ad4" stroke="#2a2ad4" stroke-width="0.12">SAPO - 11</text>
<text x="534" y="19" fill="#2a2ad4" stroke="#2a2ad4" stroke-width="0.12" text-anchor="end">30.77 %</text>
<text x="365" y="29.6" fill="#111" stroke="#111" stroke-width="0.12">Calcium phosphate(V) fluoride chloride</text>
<text x="534" y="29.6" fill="#111" stroke="#111" stroke-width="0.12" text-anchor="end">16.66 %</text>
<text x="365" y="40.1" fill="#2f821f" stroke="#2f821f" stroke-width="0.12">Aluminium phosphate(V)</text>
<text x="534" y="40.1" fill="#2f821f" stroke="#2f821f" stroke-width="0.12" text-anchor="end">30.88 %</text>
<text x="365" y="50.6" fill="#9a32e0" stroke="#9a32e0" stroke-width="0.12">SAPO 31 as made</text>
<text x="534" y="50.6" fill="#9a32e0" stroke="#9a32e0" stroke-width="0.12" text-anchor="end">21.68 %</text>
</g>
</svg>
</body></html>
